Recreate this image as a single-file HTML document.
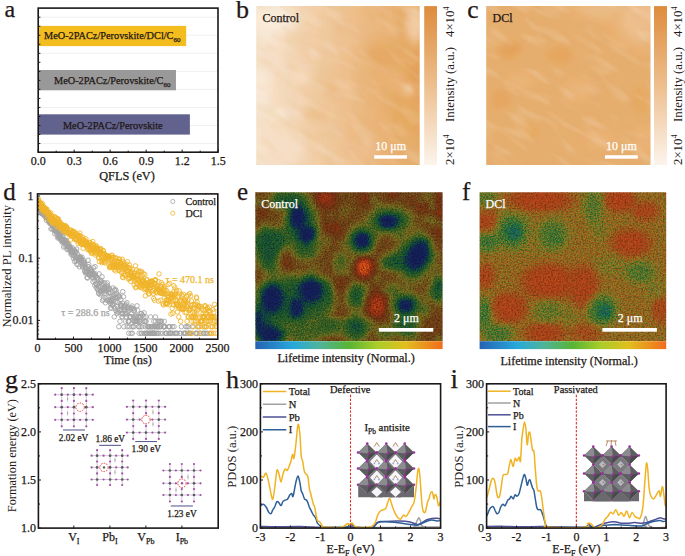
<!DOCTYPE html>
<html><head><meta charset="utf-8"><style>
html,body{margin:0;padding:0;background:#fff;width:685px;height:556px;overflow:hidden}
svg{display:block;font-family:"Liberation Serif",serif}
</style></head><body>
<svg width="685" height="556" viewBox="0 0 685 556">
<defs><linearGradient id="cbgrad" x1="0" y1="0" x2="0" y2="1"><stop offset="0" stop-color="#de8c3c"/><stop offset="0.5" stop-color="#edbf8e"/><stop offset="1" stop-color="#fcf4ec"/></linearGradient>
<filter id="streak" x="0" y="0" width="100%" height="100%"><feTurbulence type="fractalNoise" baseFrequency="0.03 0.09" numOctaves="2" seed="9" result="n"/><feColorMatrix in="n" type="matrix" values="0 0 0 0 1  0 0 0 0 1  0 0 0 0 1  2.4 0 0 0 -1.2"/></filter>
<filter id="streak2" x="0" y="0" width="100%" height="100%"><feTurbulence type="fractalNoise" baseFrequency="0.03 0.08" numOctaves="2" seed="21" result="n"/><feColorMatrix in="n" type="matrix" values="0 0 0 0 0.8  0 0 0 0 0.45  0 0 0 0 0.15  2.4 0 0 0 -1.2"/></filter>
</defs><defs><filter id="cmfe" x="0" y="0" width="100%" height="100%" color-interpolation-filters="sRGB">
<feGaussianBlur in="SourceGraphic" stdDeviation="2.2" result="b"/>
<feTurbulence type="fractalNoise" baseFrequency="0.85" numOctaves="2" seed="3" result="t"/>
<feColorMatrix in="t" type="matrix" values="1 0 0 0 0  1 0 0 0 0  1 0 0 0 0  0 0 0 0 1" result="tn"/>
<feComposite in="b" in2="tn" operator="arithmetic" k1="0" k2="1" k3="0.38" k4="-0.19" result="s"/>
<feComponentTransfer in="s"><feFuncR type="table" tableValues="0.086 0.086 0.086 0.086 0.078 0.075 0.067 0.071 0.086 0.102 0.125 0.173 0.216 0.267 0.337 0.412 0.486 0.478 0.471 0.463 0.455 0.451 0.443 0.455 0.482 0.510 0.545 0.596 0.651 0.702 0.761 0.820 0.878"/><feFuncG type="table" tableValues="0.125 0.129 0.133 0.141 0.169 0.204 0.235 0.275 0.310 0.345 0.373 0.380 0.384 0.396 0.416 0.435 0.455 0.412 0.373 0.329 0.298 0.267 0.239 0.220 0.208 0.196 0.192 0.204 0.220 0.235 0.267 0.302 0.337"/><feFuncB type="table" tableValues="0.361 0.361 0.361 0.361 0.341 0.318 0.290 0.263 0.227 0.192 0.169 0.157 0.141 0.133 0.133 0.133 0.133 0.125 0.118 0.106 0.102 0.094 0.086 0.082 0.078 0.075 0.078 0.082 0.086 0.090 0.094 0.098 0.102"/><feFuncA type="identity"/></feComponentTransfer>
</filter></defs><defs><filter id="cmff" x="0" y="0" width="100%" height="100%" color-interpolation-filters="sRGB">
<feGaussianBlur in="SourceGraphic" stdDeviation="2.2" result="b"/>
<feTurbulence type="fractalNoise" baseFrequency="0.85" numOctaves="2" seed="8" result="t"/>
<feColorMatrix in="t" type="matrix" values="1 0 0 0 0  1 0 0 0 0  1 0 0 0 0  0 0 0 0 1" result="tn"/>
<feComposite in="b" in2="tn" operator="arithmetic" k1="0" k2="1" k3="0.6" k4="-0.3" result="s"/>
<feComponentTransfer in="s"><feFuncR type="table" tableValues="0.102 0.102 0.106 0.106 0.110 0.110 0.118 0.125 0.129 0.137 0.165 0.220 0.278 0.337 0.400 0.471 0.541 0.592 0.604 0.616 0.627 0.643 0.655 0.667 0.675 0.686 0.694 0.706 0.718 0.737 0.753 0.769 0.784"/><feFuncG type="table" tableValues="0.220 0.259 0.294 0.333 0.369 0.404 0.416 0.427 0.443 0.455 0.467 0.471 0.478 0.482 0.490 0.494 0.498 0.490 0.455 0.420 0.388 0.361 0.333 0.306 0.298 0.286 0.278 0.267 0.271 0.275 0.282 0.286 0.290"/><feFuncB type="table" tableValues="0.439 0.431 0.424 0.416 0.408 0.392 0.357 0.322 0.286 0.247 0.220 0.204 0.188 0.173 0.161 0.157 0.149 0.141 0.137 0.129 0.125 0.122 0.114 0.110 0.110 0.106 0.106 0.102 0.102 0.102 0.102 0.102 0.102"/><feFuncA type="identity"/></feComponentTransfer>
</filter></defs><defs><linearGradient id="jet" x1="0" y1="0" x2="1" y2="0"><stop offset="0" stop-color="#2662b2"/><stop offset="0.2" stop-color="#26a8dc"/><stop offset="0.35" stop-color="#50b496"/><stop offset="0.5" stop-color="#58b434"/><stop offset="0.65" stop-color="#aacd28"/><stop offset="0.8" stop-color="#e1be1e"/><stop offset="1" stop-color="#f26c1e"/></linearGradient>
<filter id="blur3" x="-5%" y="-5%" width="110%" height="110%"><feGaussianBlur stdDeviation="2.6"/></filter>
<filter id="grainy" x="0" y="0" width="100%" height="100%"><feTurbulence type="fractalNoise" baseFrequency="0.5" numOctaves="1" seed="17" result="n"/><feColorMatrix in="n" type="matrix" values="0 0 0 0 0.72  0 0 0 0 0.66  0 0 0 0 0.16  3.0 0 0 0 -1.65"/></filter>
<filter id="grain" x="0" y="0" width="100%" height="100%"><feTurbulence type="fractalNoise" baseFrequency="0.6" numOctaves="1" seed="4" result="n"/><feColorMatrix in="n" type="matrix" values="0 0 0 0 0  0 0 0 0 0  0 0 0 0 0  -2.2 0 0 0 1.25"/></filter>
</defs>
<text x="4.5" y="17.0" font-size="24" text-anchor="start" fill="#231815" stroke="#231815" stroke-width="0.25" >a</text>
<line x1="38.20" y1="17.20" x2="218.00" y2="17.20" stroke="#ececec" stroke-width="0.8" />
<line x1="38.20" y1="35.25" x2="218.00" y2="35.25" stroke="#ececec" stroke-width="0.8" />
<line x1="38.20" y1="53.30" x2="218.00" y2="53.30" stroke="#ececec" stroke-width="0.8" />
<line x1="38.20" y1="71.35" x2="218.00" y2="71.35" stroke="#ececec" stroke-width="0.8" />
<line x1="38.20" y1="89.40" x2="218.00" y2="89.40" stroke="#ececec" stroke-width="0.8" />
<line x1="38.20" y1="107.45" x2="218.00" y2="107.45" stroke="#ececec" stroke-width="0.8" />
<line x1="38.20" y1="125.50" x2="218.00" y2="125.50" stroke="#ececec" stroke-width="0.8" />
<line x1="38.20" y1="143.55" x2="218.00" y2="143.55" stroke="#ececec" stroke-width="0.8" />
<rect x="38.20" y="25.90" width="147.96" height="20.20" fill="#f3bc1f" />
<rect x="38.20" y="70.00" width="137.76" height="20.30" fill="#999999" />
<rect x="38.20" y="114.30" width="151.68" height="20.30" fill="#61628e" />
<text x="44.0" y="39.3" font-size="10.3" text-anchor="start" fill="#231815" stroke="#231815" stroke-width="0.25" >MeO-2PACz/Perovskite/DCl/C<tspan font-size="7" dy="2.5">60</tspan></text>
<text x="54.0" y="84.3" font-size="10.3" text-anchor="start" fill="#231815" stroke="#231815" stroke-width="0.25" >MeO-2PACz/Perovskite/C<tspan font-size="7" dy="2.5">60</tspan></text>
<text x="112.8" y="128.6" font-size="10.3" text-anchor="middle" fill="#231815" stroke="#231815" stroke-width="0.25" >MeO-2PACz/Perovskite</text>
<rect x="38.2" y="8.1" width="179.8" height="144.1" fill="none" stroke="#1c1717" stroke-width="1.6"/>
<line x1="38.20" y1="17.20" x2="40.40" y2="17.20" stroke="#231815" stroke-width="1" />
<line x1="38.20" y1="26.23" x2="40.40" y2="26.23" stroke="#231815" stroke-width="1" />
<line x1="38.20" y1="35.25" x2="40.40" y2="35.25" stroke="#231815" stroke-width="1" />
<line x1="38.20" y1="44.28" x2="40.40" y2="44.28" stroke="#231815" stroke-width="1" />
<line x1="38.20" y1="53.30" x2="40.40" y2="53.30" stroke="#231815" stroke-width="1" />
<line x1="38.20" y1="62.33" x2="40.40" y2="62.33" stroke="#231815" stroke-width="1" />
<line x1="38.20" y1="71.35" x2="40.40" y2="71.35" stroke="#231815" stroke-width="1" />
<line x1="38.20" y1="80.38" x2="40.40" y2="80.38" stroke="#231815" stroke-width="1" />
<line x1="38.20" y1="89.40" x2="40.40" y2="89.40" stroke="#231815" stroke-width="1" />
<line x1="38.20" y1="98.43" x2="40.40" y2="98.43" stroke="#231815" stroke-width="1" />
<line x1="38.20" y1="107.45" x2="40.40" y2="107.45" stroke="#231815" stroke-width="1" />
<line x1="38.20" y1="116.48" x2="40.40" y2="116.48" stroke="#231815" stroke-width="1" />
<line x1="38.20" y1="125.50" x2="40.40" y2="125.50" stroke="#231815" stroke-width="1" />
<line x1="38.20" y1="134.53" x2="40.40" y2="134.53" stroke="#231815" stroke-width="1" />
<line x1="38.20" y1="143.55" x2="40.40" y2="143.55" stroke="#231815" stroke-width="1" />
<line x1="38.20" y1="152.20" x2="38.20" y2="149.60" stroke="#231815" stroke-width="1" />
<line x1="56.20" y1="152.20" x2="56.20" y2="150.60" stroke="#231815" stroke-width="1" />
<line x1="74.20" y1="152.20" x2="74.20" y2="149.60" stroke="#231815" stroke-width="1" />
<line x1="92.20" y1="152.20" x2="92.20" y2="150.60" stroke="#231815" stroke-width="1" />
<line x1="110.20" y1="152.20" x2="110.20" y2="149.60" stroke="#231815" stroke-width="1" />
<line x1="128.20" y1="152.20" x2="128.20" y2="150.60" stroke="#231815" stroke-width="1" />
<line x1="146.20" y1="152.20" x2="146.20" y2="149.60" stroke="#231815" stroke-width="1" />
<line x1="164.20" y1="152.20" x2="164.20" y2="150.60" stroke="#231815" stroke-width="1" />
<line x1="182.20" y1="152.20" x2="182.20" y2="149.60" stroke="#231815" stroke-width="1" />
<line x1="200.20" y1="152.20" x2="200.20" y2="150.60" stroke="#231815" stroke-width="1" />
<line x1="218.20" y1="152.20" x2="218.20" y2="149.60" stroke="#231815" stroke-width="1" />
<text x="38.2" y="164.5" font-size="12" text-anchor="middle" fill="#231815" stroke="#231815" stroke-width="0.25" >0.0</text>
<text x="74.2" y="164.5" font-size="12" text-anchor="middle" fill="#231815" stroke="#231815" stroke-width="0.25" >0.3</text>
<text x="110.2" y="164.5" font-size="12" text-anchor="middle" fill="#231815" stroke="#231815" stroke-width="0.25" >0.6</text>
<text x="146.2" y="164.5" font-size="12" text-anchor="middle" fill="#231815" stroke="#231815" stroke-width="0.25" >0.9</text>
<text x="182.2" y="164.5" font-size="12" text-anchor="middle" fill="#231815" stroke="#231815" stroke-width="0.25" >1.2</text>
<text x="218.2" y="164.5" font-size="12" text-anchor="middle" fill="#231815" stroke="#231815" stroke-width="0.25" >1.5</text>
<text x="127.0" y="179.6" font-size="12.3" text-anchor="middle" fill="#231815" stroke="#231815" stroke-width="0.25" >QFLS (eV)</text>
<text x="236.0" y="17.6" font-size="26" text-anchor="start" fill="#231815" stroke="#231815" stroke-width="0.25" >b</text>
<text x="467.3" y="17.5" font-size="25.5" text-anchor="start" fill="#231815" stroke="#231815" stroke-width="0.25" >c</text>
<clipPath id="cb"><rect x="256.2" y="6" width="163.5" height="159"/></clipPath>
<g clip-path="url(#cb)"><g filter="url(#blur3)">
<path fill="#f6e2ca" d="M250 0h24v6h-24zM280 30h6v6h-6zM250 36h18v6h-18zM250 42h18v6h-18zM250 48h6v6h-6zM250 54h12v6h-12zM256 60h6v6h-6zM262 66h6v6h-6zM268 72h6v6h-6zM268 78h6v6h-6zM268 84h6v6h-6zM250 102h6v6h-6zM250 108h6v6h-6zM250 114h18v6h-18zM250 120h12v6h-12zM250 126h12v6h-12zM250 132h12v6h-12zM250 138h12v6h-12zM250 144h6v6h-6zM250 150h6v6h-6zM250 156h12v6h-12zM250 162h12v6h-12zM250 168h12v6h-12z"/>
<path fill="#f6dec6" d="M274 0h6v6h-6zM286 6h6v6h-6zM292 12h6v6h-6zM268 36h6v6h-6zM262 48h12v6h-12zM262 54h18v6h-18zM262 60h18v6h-18zM268 66h6v6h-6zM268 96h6v6h-6zM268 102h6v6h-6zM262 120h6v6h-6zM262 126h6v6h-6zM262 132h12v6h-12zM262 138h30v6h-30zM262 144h36v6h-36zM262 150h36v6h-36zM262 156h30v6h-30zM262 162h12v6h-12zM262 168h12v6h-12z"/>
<path fill="#f6dec2" d="M280 0h6v6h-6zM292 24h6v6h-6zM286 30h6v6h-6zM274 36h6v6h-6zM268 42h6v6h-6zM274 48h6v6h-6zM274 66h6v6h-6zM268 120h6v6h-6zM268 126h6v6h-6zM274 132h12v6h-12zM292 156h6v6h-6zM274 162h12v6h-12zM274 168h6v6h-6z"/>
<path fill="#f2daba" d="M286 0h6v6h-6zM292 6h6v6h-6zM280 72h12v6h-12zM280 78h6v6h-6zM280 84h6v6h-6zM280 90h6v6h-6zM280 96h6v6h-6zM286 114h6v6h-6z"/>
<path fill="#f2d6b6" d="M292 0h6v6h-6zM298 18h6v6h-6zM292 30h6v6h-6zM286 36h6v6h-6zM286 42h6v6h-6zM286 48h6v6h-6zM286 54h6v6h-6zM286 60h6v6h-6zM304 66h6v6h-6zM286 78h6v6h-6zM304 78h6v6h-6zM286 84h6v6h-6zM286 90h6v6h-6zM286 96h6v6h-6zM286 102h6v6h-6zM286 120h6v6h-6zM286 126h6v6h-6zM292 132h6v6h-6zM298 138h6v6h-6zM298 156h6v6h-6zM292 162h6v6h-6zM292 168h6v6h-6z"/>
<path fill="#f2d2b2" d="M298 0h6v6h-6zM298 6h6v6h-6zM298 24h6v6h-6zM292 54h6v6h-6zM298 60h6v6h-6zM292 90h6v6h-6zM292 96h6v6h-6zM292 102h6v6h-6zM292 108h6v6h-6zM304 150h6v6h-6zM298 162h6v6h-6zM298 168h6v6h-6z"/>
<path fill="#f2d2ae" d="M304 0h6v6h-6zM304 6h6v6h-6zM298 30h6v6h-6zM298 36h6v6h-6zM298 42h6v6h-6zM298 48h6v6h-6zM298 54h6v6h-6zM310 72h6v6h-6zM298 84h6v6h-6zM298 90h6v6h-6zM298 96h6v6h-6zM298 102h6v6h-6zM298 120h6v6h-6zM298 126h6v6h-6zM298 132h6v6h-6zM304 138h6v6h-6zM304 144h6v6h-6zM304 156h6v6h-6zM304 162h6v6h-6zM304 168h6v6h-6z"/>
<path fill="#f2ceaa" d="M310 0h6v6h-6zM310 6h6v6h-6zM304 30h6v6h-6zM304 36h6v6h-6zM304 42h6v6h-6zM304 48h6v6h-6zM304 54h6v6h-6zM304 60h6v6h-6zM310 66h6v6h-6zM304 84h6v6h-6zM304 96h6v6h-6zM298 108h6v6h-6zM298 114h6v6h-6zM304 126h6v6h-6zM304 132h6v6h-6zM310 162h6v6h-6zM310 168h6v6h-6z"/>
<path fill="#f2cea6" d="M316 0h6v6h-6zM316 6h6v6h-6zM310 12h6v6h-6zM310 18h6v6h-6zM412 18h6v6h-6zM310 24h6v6h-6zM412 24h6v6h-6zM310 30h6v6h-6zM412 30h6v6h-6zM310 36h6v6h-6zM310 42h6v6h-6zM310 48h6v6h-6zM310 54h6v6h-6zM310 60h6v6h-6zM310 78h6v6h-6zM304 90h6v6h-6zM304 102h6v6h-6zM304 120h6v6h-6zM310 126h6v6h-6zM310 132h6v6h-6zM310 138h6v6h-6zM310 144h6v6h-6zM310 150h6v6h-6zM310 156h6v6h-6zM316 162h6v6h-6zM316 168h6v6h-6z"/>
<path fill="#f2caa2" d="M322 0h6v6h-6zM316 12h6v6h-6zM412 12h6v6h-6zM316 18h6v6h-6zM316 24h6v6h-6zM316 30h6v6h-6zM316 36h6v6h-6zM316 42h6v6h-6zM316 48h6v6h-6zM316 54h6v6h-6zM310 84h6v6h-6zM310 90h6v6h-6zM310 96h6v6h-6zM316 126h6v6h-6zM316 132h6v6h-6zM316 138h6v6h-6zM316 144h6v6h-6zM316 150h6v6h-6zM322 162h6v6h-6zM322 168h6v6h-6z"/>
<path fill="#eec69e" d="M328 0h6v6h-6zM322 48h6v6h-6zM316 120h6v6h-6zM328 162h6v6h-6z"/>
<path fill="#eec69a" d="M334 0h6v6h-6zM328 6h6v6h-6zM328 12h6v6h-6zM328 18h6v6h-6zM406 18h6v6h-6zM328 24h6v6h-6zM406 24h6v6h-6zM418 24h6v6h-6zM328 30h6v6h-6zM328 36h6v6h-6zM328 42h6v6h-6zM328 48h6v6h-6zM322 54h6v6h-6zM322 60h6v6h-6zM322 66h6v6h-6zM322 72h6v6h-6zM322 78h6v6h-6zM406 84h6v6h-6zM322 96h6v6h-6zM316 102h12v6h-12zM322 120h12v6h-12zM328 126h6v6h-6zM328 132h6v6h-6zM328 138h6v6h-6zM328 144h6v6h-6zM328 150h6v6h-6zM328 156h6v6h-6zM334 162h6v6h-6zM334 168h6v6h-6z"/>
<path fill="#eec296" d="M340 0h6v6h-6zM334 24h6v6h-6zM322 90h6v6h-6zM334 120h6v6h-6zM334 126h6v6h-6zM334 132h6v6h-6zM340 162h6v6h-6zM340 168h6v6h-6z"/>
<path fill="#eec292" d="M346 0h6v6h-6zM340 6h6v6h-6zM340 12h6v6h-6zM340 18h6v6h-6zM340 24h6v6h-6zM334 30h18v6h-18zM406 30h6v6h-6zM334 36h18v6h-18zM334 42h18v6h-18zM334 48h12v6h-12zM334 54h6v6h-6zM334 60h6v6h-6zM334 66h6v6h-6zM334 72h6v6h-6zM328 78h6v6h-6zM328 96h6v6h-6zM334 102h6v6h-6zM310 108h18v6h-18zM334 108h6v6h-6zM310 114h18v6h-18zM334 114h6v6h-6zM340 126h6v6h-6zM340 132h6v6h-6zM340 138h6v6h-6zM340 144h6v6h-6zM340 150h6v6h-6zM340 156h6v6h-6zM346 162h6v6h-6zM346 168h6v6h-6z"/>
<path fill="#eebe8e" d="M352 0h6v6h-6zM406 12h6v6h-6zM346 18h6v6h-6zM346 24h6v6h-6zM418 30h6v6h-6zM352 36h6v6h-6zM346 48h6v6h-6zM340 60h6v6h-6zM340 66h6v6h-6zM340 72h6v6h-6zM340 78h6v6h-6zM334 96h12v6h-12zM340 102h6v6h-6zM340 108h6v6h-6zM346 126h6v6h-6zM346 132h6v6h-6zM346 138h6v6h-6zM346 144h18v6h-18zM346 150h18v6h-18zM352 162h6v6h-6zM352 168h6v6h-6z"/>
<path fill="#eebe8a" d="M358 0h6v6h-6zM352 6h6v6h-6zM352 12h6v6h-6zM418 12h6v6h-6zM352 18h6v6h-6zM352 24h6v6h-6zM352 30h6v6h-6zM352 42h6v6h-6zM346 54h6v6h-6zM346 60h6v6h-6zM346 66h6v6h-6zM346 72h6v6h-6zM328 84h18v6h-18zM328 90h18v6h-18zM406 90h6v6h-6zM346 96h6v6h-6zM346 102h6v6h-6zM346 108h6v6h-6zM346 114h6v6h-6zM346 120h6v6h-6zM352 132h6v6h-6zM352 138h6v6h-6zM364 144h6v6h-6zM364 150h6v6h-6zM352 156h12v6h-12zM358 162h6v6h-6zM358 168h6v6h-6z"/>
<path fill="#eaba86" d="M364 0h6v6h-6zM358 24h6v6h-6zM358 30h6v6h-6zM358 36h6v6h-6zM352 60h6v6h-6zM352 66h6v6h-6zM400 84h6v6h-6zM352 96h6v6h-6zM352 102h6v6h-6zM352 108h6v6h-6zM358 132h6v6h-6zM370 144h6v6h-6zM370 150h6v6h-6zM364 156h6v6h-6zM364 162h6v6h-6zM364 168h6v6h-6z"/>
<path fill="#eaba82" d="M370 0h6v6h-6zM364 6h12v6h-12zM364 12h6v6h-6zM364 18h6v6h-6zM364 24h6v6h-6zM364 30h6v6h-6zM358 42h6v6h-6zM358 66h6v6h-6zM352 72h6v6h-6zM352 78h6v6h-6zM352 84h6v6h-6zM352 90h6v6h-6zM358 96h6v6h-6zM358 102h6v6h-6zM358 108h6v6h-6zM358 114h6v6h-6zM358 120h6v6h-6zM358 126h6v6h-6zM364 132h6v6h-6zM364 138h6v6h-6zM370 156h6v6h-6zM370 162h6v6h-6zM370 168h6v6h-6z"/>
<path fill="#eab67e" d="M376 0h6v6h-6zM376 6h6v6h-6zM370 12h6v6h-6zM370 18h6v6h-6zM370 24h6v6h-6zM370 30h6v6h-6zM364 36h6v6h-6zM406 36h6v6h-6zM358 48h6v6h-6zM358 54h6v6h-6zM358 72h6v6h-6zM358 78h6v6h-6zM358 84h6v6h-6zM358 90h6v6h-6zM364 102h6v6h-6zM364 108h6v6h-6zM364 114h6v6h-6zM364 120h6v6h-6zM364 126h6v6h-6zM370 132h6v6h-6zM370 138h6v6h-6zM376 162h6v6h-6zM376 168h6v6h-6z"/>
<path fill="#eab67a" d="M382 0h6v6h-6zM406 6h6v6h-6zM376 12h6v6h-6zM376 18h6v6h-6zM376 24h6v6h-6zM376 30h6v6h-6zM370 36h6v6h-6zM364 42h6v6h-6zM364 66h6v6h-6zM364 72h6v6h-6zM364 78h6v6h-6zM364 84h6v6h-6zM364 90h6v6h-6zM400 90h6v6h-6zM364 96h6v6h-6zM370 108h6v6h-6zM370 114h6v6h-6zM370 120h6v6h-6zM370 126h6v6h-6zM376 132h6v6h-6zM376 138h6v6h-6zM376 144h6v6h-6zM376 150h6v6h-6zM376 156h6v6h-6zM382 162h6v6h-6zM382 168h6v6h-6z"/>
<path fill="#eab276" d="M388 0h6v6h-6zM388 6h6v6h-6zM382 12h6v6h-6zM382 18h6v6h-6zM382 24h6v6h-6zM382 30h6v6h-6zM376 36h6v6h-6zM418 36h6v6h-6zM412 42h6v6h-6zM364 60h6v6h-6zM370 66h6v6h-6zM370 72h6v6h-6zM388 72h12v6h-12zM370 78h6v6h-6zM388 78h12v6h-12zM370 84h6v6h-6zM370 90h6v6h-6zM370 96h6v6h-6zM376 102h6v6h-6zM376 108h6v6h-6zM376 114h6v6h-6zM376 120h6v6h-6zM376 126h6v6h-6zM382 132h6v6h-6zM382 138h6v6h-6zM382 144h6v6h-6zM382 150h6v6h-6zM388 156h6v6h-6zM388 162h6v6h-6zM388 168h6v6h-6z"/>
<path fill="#eab272" d="M394 0h6v6h-6zM412 0h6v6h-6zM418 6h6v6h-6zM388 12h6v6h-6zM388 18h6v6h-6zM388 24h6v6h-6zM382 36h6v6h-6zM376 72h6v6h-6zM376 78h12v6h-12zM376 84h6v6h-6zM388 84h12v6h-12zM376 90h6v6h-6zM376 96h6v6h-6zM382 114h6v6h-6zM382 120h6v6h-6zM382 126h6v6h-6zM388 138h6v6h-6zM388 144h6v6h-6zM388 150h6v6h-6zM394 162h6v6h-6zM394 168h6v6h-6z"/>
<path fill="#e6ae6e" d="M400 0h12v6h-12zM400 6h6v6h-6zM394 12h12v6h-12zM394 18h6v6h-6zM394 24h6v6h-6zM394 30h6v6h-6zM388 36h6v6h-6zM370 42h6v6h-6zM364 54h6v6h-6zM382 66h12v6h-12zM400 72h6v6h-6zM382 84h6v6h-6zM382 90h6v6h-6zM382 96h6v6h-6zM382 102h6v6h-6zM388 120h6v6h-6zM388 126h6v6h-6zM394 138h6v6h-6zM394 144h24v6h-24zM394 150h24v6h-24zM400 156h12v6h-12zM400 162h6v6h-6zM400 168h6v6h-6z"/>
<path fill="#e6aa66" d="M418 0h6v6h-6zM400 36h6v6h-6zM400 42h12v6h-12zM370 48h24v6h-24zM400 48h6v6h-6zM370 54h36v6h-36zM376 60h12v6h-12zM394 60h6v6h-6zM394 90h6v6h-6zM394 96h6v6h-6zM394 120h6v6h-6zM394 126h6v6h-6zM400 132h12v6h-12zM418 144h6v6h-6zM418 156h6v6h-6zM412 162h6v6h-6zM412 168h6v6h-6z"/>
<path fill="#e6a65e" d="M424 0h6v6h-6zM424 6h6v6h-6zM424 12h6v6h-6zM424 18h6v6h-6zM424 24h6v6h-6zM412 54h6v6h-6zM412 60h6v6h-6zM406 66h6v6h-6zM406 72h6v6h-6zM406 78h6v6h-6zM412 84h6v6h-6zM412 90h6v6h-6zM418 102h6v6h-6zM418 108h6v6h-6zM418 114h6v6h-6zM418 120h6v6h-6zM418 126h6v6h-6zM418 132h6v6h-6zM424 144h6v6h-6zM424 150h6v6h-6zM424 156h6v6h-6zM424 162h6v6h-6z"/>
<path fill="#f6e2ce" d="M250 6h6v6h-6zM286 24h6v6h-6zM250 30h12v6h-12zM274 30h6v6h-6zM256 48h6v6h-6zM250 60h6v6h-6zM250 66h6v6h-6zM250 72h6v6h-6zM250 84h6v6h-6zM250 90h6v6h-6zM250 96h6v6h-6zM256 108h12v6h-12zM280 108h6v6h-6zM280 114h6v6h-6z"/>
<path fill="#f6e6d2" d="M256 6h12v6h-12zM274 6h6v6h-6zM250 12h6v6h-6zM286 12h6v6h-6zM286 18h6v6h-6zM250 24h6v6h-6zM262 30h12v6h-12zM256 66h6v6h-6zM262 96h6v6h-6zM256 102h12v6h-12z"/>
<path fill="#f6e6d6" d="M268 6h6v6h-6zM250 18h6v6h-6zM280 24h6v6h-6zM262 72h6v6h-6zM256 96h6v6h-6z"/>
<path fill="#f6e6ce" d="M280 6h6v6h-6zM250 78h6v6h-6zM274 108h6v6h-6zM274 114h6v6h-6z"/>
<path fill="#f2ca9e" d="M322 6h6v6h-6z"/>
<path fill="#eec696" d="M334 6h6v6h-6zM334 12h6v6h-6zM334 18h6v6h-6zM418 18h6v6h-6zM412 36h6v6h-6zM328 54h6v6h-6zM328 60h6v6h-6zM328 66h6v6h-6zM328 72h6v6h-6zM322 84h6v6h-6zM328 102h6v6h-6zM304 108h6v6h-6zM328 108h6v6h-6zM304 114h6v6h-6zM328 114h6v6h-6zM334 138h6v6h-6zM334 144h6v6h-6zM334 150h6v6h-6zM334 156h6v6h-6z"/>
<path fill="#eec28e" d="M346 6h6v6h-6zM412 6h6v6h-6zM346 12h6v6h-6zM340 54h6v6h-6zM334 78h6v6h-6zM340 114h6v6h-6zM340 120h6v6h-6zM346 156h6v6h-6z"/>
<path fill="#eebe86" d="M358 6h6v6h-6zM346 78h6v6h-6zM346 90h6v6h-6zM352 126h6v6h-6z"/>
<path fill="#eab27a" d="M382 6h6v6h-6zM370 102h6v6h-6zM382 156h6v6h-6z"/>
<path fill="#eaae72" d="M394 6h6v6h-6zM388 30h6v6h-6zM376 66h6v6h-6zM382 72h6v6h-6zM400 78h6v6h-6zM382 108h6v6h-6zM388 132h6v6h-6zM394 156h6v6h-6z"/>
<path fill="#faead6" d="M256 12h6v6h-6zM280 12h6v6h-6zM256 18h6v6h-6zM262 24h6v6h-6zM274 24h6v6h-6zM256 78h12v6h-12z"/>
<path fill="#faeada" d="M262 12h18v6h-18zM262 18h24v6h-24zM268 24h6v6h-6z"/>
<path fill="#f2d6b2" d="M298 12h6v6h-6zM292 36h6v6h-6zM292 42h6v6h-6zM292 48h6v6h-6zM292 60h6v6h-6zM292 84h6v6h-6zM292 114h6v6h-6zM292 120h6v6h-6zM292 126h6v6h-6z"/>
<path fill="#f2d2aa" d="M304 12h6v6h-6zM304 18h6v6h-6zM304 24h6v6h-6z"/>
<path fill="#eeca9e" d="M322 12h6v6h-6zM322 18h6v6h-6zM322 24h6v6h-6zM322 30h6v6h-6zM322 36h6v6h-6zM322 42h6v6h-6zM316 60h6v6h-6zM316 66h6v6h-6zM316 72h6v6h-6zM316 78h6v6h-6zM316 84h6v6h-6zM316 90h6v6h-6zM316 96h6v6h-6zM310 102h6v6h-6zM310 120h6v6h-6zM322 126h6v6h-6zM322 132h6v6h-6zM322 138h6v6h-6zM322 144h6v6h-6zM322 150h6v6h-6zM322 156h6v6h-6zM328 168h6v6h-6z"/>
<path fill="#eeba86" d="M358 12h6v6h-6zM358 18h6v6h-6zM352 48h6v6h-6zM352 54h6v6h-6zM346 84h6v6h-6zM352 114h6v6h-6zM352 120h6v6h-6zM358 138h6v6h-6z"/>
<path fill="#f6e2c6" d="M292 18h6v6h-6zM268 90h6v6h-6zM268 108h6v6h-6zM268 114h6v6h-6zM256 144h6v6h-6zM256 150h6v6h-6z"/>
<path fill="#e6ae6a" d="M400 18h6v6h-6zM400 24h6v6h-6zM394 36h6v6h-6zM376 42h24v6h-24zM370 60h6v6h-6zM394 66h6v6h-6zM388 90h6v6h-6zM388 96h6v6h-6zM388 102h6v6h-6zM388 108h6v6h-6zM388 114h6v6h-6zM394 132h6v6h-6zM400 138h18v6h-18zM412 156h6v6h-6zM406 162h6v6h-6zM406 168h6v6h-6z"/>
<path fill="#fae6d6" d="M256 24h6v6h-6zM256 72h6v6h-6zM256 84h12v6h-12zM256 90h12v6h-12z"/>
<path fill="#e6aa6a" d="M400 30h6v6h-6zM394 48h6v6h-6zM388 60h6v6h-6zM418 150h6v6h-6z"/>
<path fill="#e2a25a" d="M424 30h6v6h-6zM424 36h6v6h-6zM424 42h6v6h-6zM418 48h12v6h-12zM418 54h6v6h-6zM418 60h6v6h-6zM418 66h6v6h-6zM412 72h12v6h-12zM412 78h6v6h-6zM418 90h6v6h-6zM418 96h6v6h-6zM424 114h6v6h-6zM424 120h6v6h-6zM424 126h6v6h-6zM424 132h6v6h-6zM424 138h6v6h-6z"/>
<path fill="#f6dabe" d="M280 36h6v6h-6zM274 42h6v6h-6zM280 54h6v6h-6zM280 60h6v6h-6zM274 72h6v6h-6zM292 72h12v6h-12zM274 78h6v6h-6zM274 84h6v6h-6zM274 90h6v6h-6zM274 96h6v6h-6zM274 102h6v6h-6zM274 120h6v6h-6zM274 126h6v6h-6zM286 132h6v6h-6zM292 138h6v6h-6zM298 144h6v6h-6zM298 150h6v6h-6zM286 162h6v6h-6zM280 168h6v6h-6z"/>
<path fill="#f6daba" d="M280 42h6v6h-6zM280 48h6v6h-6zM280 66h6v6h-6zM292 66h12v6h-12zM304 72h6v6h-6zM292 78h12v6h-12zM280 102h6v6h-6zM280 120h6v6h-6zM280 126h6v6h-6z"/>
<path fill="#e6a662" d="M418 42h6v6h-6zM412 48h6v6h-6zM406 54h6v6h-6zM406 60h6v6h-6zM412 96h6v6h-6zM412 102h6v6h-6zM412 126h6v6h-6zM418 138h6v6h-6zM424 168h6v6h-6z"/>
<path fill="#e6ae72" d="M364 48h6v6h-6z"/>
<path fill="#e6aa62" d="M406 48h6v6h-6zM400 60h6v6h-6zM400 66h6v6h-6zM400 96h12v6h-12zM394 102h18v6h-18zM394 108h24v6h-24zM394 114h24v6h-24zM400 120h18v6h-18zM400 126h12v6h-12zM412 132h6v6h-6zM418 162h6v6h-6zM418 168h6v6h-6z"/>
<path fill="#e2a256" d="M424 54h6v6h-6zM424 60h6v6h-6zM418 78h6v6h-6zM418 84h6v6h-6zM424 102h6v6h-6zM424 108h6v6h-6z"/>
<path fill="#eaba7e" d="M358 60h6v6h-6z"/>
<path fill="#f2d6ba" d="M286 66h6v6h-6zM286 108h6v6h-6zM286 168h6v6h-6z"/>
<path fill="#e2a25e" d="M412 66h6v6h-6z"/>
<path fill="#e29e56" d="M424 66h6v6h-6zM424 72h6v6h-6zM424 78h6v6h-6zM424 90h6v6h-6zM424 96h6v6h-6z"/>
<path fill="#e29e52" d="M424 84h6v6h-6z"/>
<path fill="#f2cea2" d="M316 156h6v6h-6z"/>
</g>
<g transform="rotate(32 337.9 85)"><rect x="217.9" y="-35" width="240" height="240" filter="url(#streak)" opacity="0.22"/><rect x="217.9" y="-35" width="240" height="240" filter="url(#streak2)" opacity="0.2"/></g>
</g>
<rect x="424.20" y="6.10" width="12.80" height="158.90" fill="url(#cbgrad)" />
<text x="262.5" y="22.3" font-size="12" text-anchor="start" fill="#231815" stroke="#231815" stroke-width="0.25" >Control</text>
<rect x="374.20" y="155.20" width="32.80" height="3.50" fill="#fff" />
<text x="390.6" y="150.3" font-size="12" text-anchor="middle" fill="#fff" stroke="#fff" stroke-width="0.25" >10 μm</text>
<text transform="translate(453.5,165) rotate(-90)" font-size="12.8" fill="#231815">2×10<tspan font-size="8" dy="-4.8">4</tspan></text>
<text transform="translate(453.5,121.9) rotate(-90)" font-size="12.8" fill="#231815">Intensity (a.u.)</text>
<text transform="translate(453.5,37) rotate(-90)" font-size="12.8" fill="#231815">4×10<tspan font-size="8" dy="-4.8">4</tspan></text>
<clipPath id="cc"><rect x="486.2" y="6" width="164.3" height="159"/></clipPath>
<g clip-path="url(#cc)"><g filter="url(#blur3)">
<path fill="#e6ae6e" d="M480 0h96v6h-96zM480 6h90v6h-90zM480 12h90v6h-90zM480 18h108v6h-108zM480 24h126v6h-126zM480 30h126v6h-126zM480 36h24v6h-24zM516 36h96v6h-96zM480 42h12v6h-12zM522 42h30v6h-30zM564 42h54v6h-54zM480 48h12v6h-12zM522 48h24v6h-24zM576 48h48v6h-48zM654 48h6v6h-6zM480 54h18v6h-18zM522 54h24v6h-24zM576 54h84v6h-84zM480 60h72v6h-72zM570 60h90v6h-90zM480 66h180v6h-180zM480 72h30v6h-30zM534 72h126v6h-126zM480 78h24v6h-24zM534 78h36v6h-36zM594 78h66v6h-66zM480 84h30v6h-30zM528 84h36v6h-36zM600 84h30v6h-30zM648 84h12v6h-12zM480 90h12v6h-12zM510 90h54v6h-54zM600 90h30v6h-30zM648 90h12v6h-12zM480 96h6v6h-6zM510 96h60v6h-60zM594 96h36v6h-36zM654 96h6v6h-6zM480 102h12v6h-12zM510 102h120v6h-120zM648 102h12v6h-12zM480 108h18v6h-18zM504 108h126v6h-126zM648 108h12v6h-12zM480 114h156v6h-156zM642 114h18v6h-18zM480 120h42v6h-42zM540 120h120v6h-120zM480 126h36v6h-36zM540 126h54v6h-54zM606 126h30v6h-30zM654 126h6v6h-6zM480 132h42v6h-42zM540 132h42v6h-42zM618 132h18v6h-18zM654 132h6v6h-6zM480 138h102v6h-102zM618 138h18v6h-18zM654 138h6v6h-6zM480 144h108v6h-108zM612 144h24v6h-24zM654 144h6v6h-6zM480 150h156v6h-156zM654 150h6v6h-6zM480 156h180v6h-180zM480 162h180v6h-180zM480 168h180v6h-180z"/>
<path fill="#eab272" d="M576 0h6v6h-6zM570 6h6v6h-6zM576 12h6v6h-6zM594 18h18v6h-18zM612 30h6v6h-6zM612 36h6v6h-6zM618 42h12v6h-12zM654 42h6v6h-6zM636 48h12v6h-12zM510 72h6v6h-6zM504 78h6v6h-6zM528 78h6v6h-6zM570 78h18v6h-18zM516 84h12v6h-12zM564 84h6v6h-6zM564 90h6v6h-6zM570 96h18v6h-18zM636 126h18v6h-18zM588 132h6v6h-6zM606 132h6v6h-6zM636 132h6v6h-6zM648 132h6v6h-6zM588 144h24v6h-24zM636 144h6v6h-6zM648 144h6v6h-6zM642 150h6v6h-6z"/>
<path fill="#eab276" d="M582 0h6v6h-6zM612 0h6v6h-6zM612 24h6v6h-6zM618 36h6v6h-6zM654 36h6v6h-6zM630 42h6v6h-6zM642 42h12v6h-12zM516 72h12v6h-12zM510 78h6v6h-6zM588 84h6v6h-6zM588 90h6v6h-6zM594 132h12v6h-12zM642 132h6v6h-6zM588 138h24v6h-24zM636 138h18v6h-18zM642 144h6v6h-6z"/>
<path fill="#eab67a" d="M588 0h6v6h-6zM606 0h6v6h-6zM654 0h6v6h-6zM576 6h6v6h-6zM582 12h6v6h-6zM516 78h12v6h-12zM576 84h12v6h-12zM576 90h12v6h-12z"/>
<path fill="#eab67e" d="M594 0h12v6h-12zM624 0h6v6h-6zM612 12h6v6h-6zM618 30h6v6h-6zM654 30h6v6h-6zM624 36h6v6h-6zM648 36h6v6h-6z"/>
<path fill="#eab27a" d="M618 0h6v6h-6zM612 18h6v6h-6zM636 42h6v6h-6zM570 84h6v6h-6zM570 90h6v6h-6z"/>
<path fill="#eaba86" d="M630 0h6v6h-6zM642 0h6v6h-6zM588 6h24v6h-24zM654 12h6v6h-6zM654 24h6v6h-6zM624 30h6v6h-6z"/>
<path fill="#eeba86" d="M636 0h6v6h-6zM624 6h6v6h-6zM654 18h6v6h-6zM648 30h6v6h-6z"/>
<path fill="#eaba82" d="M648 0h6v6h-6zM582 6h6v6h-6zM612 6h12v6h-12zM654 6h6v6h-6zM588 12h24v6h-24zM618 12h6v6h-6zM618 18h6v6h-6zM618 24h6v6h-6zM630 36h18v6h-18z"/>
<path fill="#eebe8a" d="M630 6h24v6h-24zM624 12h6v6h-6zM648 12h6v6h-6zM624 18h6v6h-6zM648 18h6v6h-6zM624 24h12v6h-12zM648 24h6v6h-6zM630 30h18v6h-18z"/>
<path fill="#eaae72" d="M570 12h6v6h-6zM588 18h6v6h-6zM606 24h6v6h-6zM606 30h6v6h-6zM624 48h12v6h-12zM648 48h6v6h-6zM528 72h6v6h-6zM510 84h6v6h-6zM594 126h12v6h-12zM582 132h6v6h-6zM612 132h6v6h-6zM582 138h6v6h-6zM612 138h6v6h-6zM636 150h6v6h-6zM648 150h6v6h-6z"/>
<path fill="#eebe8e" d="M630 12h18v6h-18zM630 18h18v6h-18zM636 24h12v6h-12z"/>
<path fill="#e6aa6a" d="M504 36h6v6h-6zM558 42h6v6h-6zM570 54h6v6h-6z"/>
<path fill="#e6ae6a" d="M510 36h6v6h-6zM492 42h6v6h-6zM552 42h6v6h-6zM492 48h6v6h-6zM570 48h6v6h-6zM516 54h6v6h-6zM630 84h6v6h-6zM642 84h6v6h-6zM486 96h6v6h-6zM648 96h6v6h-6zM498 108h6v6h-6zM630 108h6v6h-6zM636 114h6v6h-6zM522 120h6v6h-6zM534 120h6v6h-6zM516 126h6v6h-6z"/>
<path fill="#e6a65e" d="M498 42h6v6h-6zM498 48h6v6h-6zM516 48h6v6h-6zM552 48h18v6h-18zM552 54h18v6h-18zM498 96h6v6h-6z"/>
<path fill="#e2a25a" d="M504 42h12v6h-12zM504 48h12v6h-12z"/>
<path fill="#e6a662" d="M516 42h6v6h-6zM504 54h6v6h-6zM498 90h6v6h-6zM492 96h6v6h-6zM504 96h6v6h-6zM492 102h12v6h-12z"/>
<path fill="#e6aa66" d="M546 48h6v6h-6zM498 54h6v6h-6zM552 60h6v6h-6zM564 60h6v6h-6zM636 84h6v6h-6zM504 90h6v6h-6zM630 90h6v6h-6zM642 90h6v6h-6zM630 96h6v6h-6zM630 102h6v6h-6zM636 108h12v6h-12zM528 120h6v6h-6zM534 126h6v6h-6zM522 132h6v6h-6zM534 132h6v6h-6z"/>
<path fill="#e6aa62" d="M510 54h6v6h-6zM546 54h6v6h-6zM558 60h6v6h-6zM492 90h6v6h-6zM636 90h6v6h-6zM636 96h12v6h-12zM504 102h6v6h-6zM636 102h12v6h-12zM522 126h12v6h-12zM528 132h6v6h-6z"/>
<path fill="#e6ae72" d="M588 78h6v6h-6zM594 84h6v6h-6zM594 90h6v6h-6zM588 96h6v6h-6z"/>
</g>
<g transform="rotate(32 568.4 85)"><rect x="448.4" y="-35" width="240" height="240" filter="url(#streak)" opacity="0.22"/><rect x="448.4" y="-35" width="240" height="240" filter="url(#streak2)" opacity="0.2"/></g>
</g>
<rect x="654.00" y="6.10" width="13.00" height="158.90" fill="url(#cbgrad)" />
<text x="492.5" y="22.3" font-size="12" text-anchor="start" fill="#231815" stroke="#231815" stroke-width="0.25" >DCl</text>
<rect x="605.00" y="155.20" width="32.80" height="3.50" fill="#fff" />
<text x="621.4" y="150.3" font-size="12" text-anchor="middle" fill="#fff" stroke="#fff" stroke-width="0.25" >10 μm</text>
<text transform="translate(681.8,165) rotate(-90)" font-size="12.8" fill="#231815">2×10<tspan font-size="8" dy="-4.8">4</tspan></text>
<text transform="translate(681.8,121.9) rotate(-90)" font-size="12.8" fill="#231815">Intensity (a.u.)</text>
<text transform="translate(681.8,37) rotate(-90)" font-size="12.8" fill="#231815">4×10<tspan font-size="8" dy="-4.8">4</tspan></text>
<text x="3.2" y="199.6" font-size="25" text-anchor="start" fill="#231815" stroke="#231815" stroke-width="0.25" >d</text>
<clipPath id="dclip"><rect x="37.5" y="193.9" width="180.3" height="145.29999999999998"/></clipPath>
<g clip-path="url(#dclip)">
<path d="M35.2,204.9a2.25,2.25 0 1,0 4.5,0a2.25,2.25 0 1,0 -4.5,0M35.5,203.8a2.25,2.25 0 1,0 4.5,0a2.25,2.25 0 1,0 -4.5,0M35.8,206.8a2.25,2.25 0 1,0 4.5,0a2.25,2.25 0 1,0 -4.5,0M36.0,203.3a2.25,2.25 0 1,0 4.5,0a2.25,2.25 0 1,0 -4.5,0M36.3,209.3a2.25,2.25 0 1,0 4.5,0a2.25,2.25 0 1,0 -4.5,0M36.5,204.8a2.25,2.25 0 1,0 4.5,0a2.25,2.25 0 1,0 -4.5,0M36.8,203.5a2.25,2.25 0 1,0 4.5,0a2.25,2.25 0 1,0 -4.5,0M37.1,207.8a2.25,2.25 0 1,0 4.5,0a2.25,2.25 0 1,0 -4.5,0M37.3,204.8a2.25,2.25 0 1,0 4.5,0a2.25,2.25 0 1,0 -4.5,0M37.6,211.0a2.25,2.25 0 1,0 4.5,0a2.25,2.25 0 1,0 -4.5,0M37.8,208.3a2.25,2.25 0 1,0 4.5,0a2.25,2.25 0 1,0 -4.5,0M38.1,209.7a2.25,2.25 0 1,0 4.5,0a2.25,2.25 0 1,0 -4.5,0M38.4,208.2a2.25,2.25 0 1,0 4.5,0a2.25,2.25 0 1,0 -4.5,0M38.6,208.2a2.25,2.25 0 1,0 4.5,0a2.25,2.25 0 1,0 -4.5,0M38.9,212.2a2.25,2.25 0 1,0 4.5,0a2.25,2.25 0 1,0 -4.5,0M39.1,213.2a2.25,2.25 0 1,0 4.5,0a2.25,2.25 0 1,0 -4.5,0M39.4,213.5a2.25,2.25 0 1,0 4.5,0a2.25,2.25 0 1,0 -4.5,0M39.7,212.5a2.25,2.25 0 1,0 4.5,0a2.25,2.25 0 1,0 -4.5,0M39.9,207.5a2.25,2.25 0 1,0 4.5,0a2.25,2.25 0 1,0 -4.5,0M40.2,213.0a2.25,2.25 0 1,0 4.5,0a2.25,2.25 0 1,0 -4.5,0M40.4,212.3a2.25,2.25 0 1,0 4.5,0a2.25,2.25 0 1,0 -4.5,0M40.7,212.8a2.25,2.25 0 1,0 4.5,0a2.25,2.25 0 1,0 -4.5,0M41.0,214.8a2.25,2.25 0 1,0 4.5,0a2.25,2.25 0 1,0 -4.5,0M41.2,214.2a2.25,2.25 0 1,0 4.5,0a2.25,2.25 0 1,0 -4.5,0M41.5,212.2a2.25,2.25 0 1,0 4.5,0a2.25,2.25 0 1,0 -4.5,0M41.7,213.6a2.25,2.25 0 1,0 4.5,0a2.25,2.25 0 1,0 -4.5,0M42.0,214.4a2.25,2.25 0 1,0 4.5,0a2.25,2.25 0 1,0 -4.5,0M42.2,214.0a2.25,2.25 0 1,0 4.5,0a2.25,2.25 0 1,0 -4.5,0M42.5,212.9a2.25,2.25 0 1,0 4.5,0a2.25,2.25 0 1,0 -4.5,0M42.8,217.0a2.25,2.25 0 1,0 4.5,0a2.25,2.25 0 1,0 -4.5,0M43.0,214.6a2.25,2.25 0 1,0 4.5,0a2.25,2.25 0 1,0 -4.5,0M43.3,214.7a2.25,2.25 0 1,0 4.5,0a2.25,2.25 0 1,0 -4.5,0M43.5,215.6a2.25,2.25 0 1,0 4.5,0a2.25,2.25 0 1,0 -4.5,0M43.8,216.8a2.25,2.25 0 1,0 4.5,0a2.25,2.25 0 1,0 -4.5,0M44.1,218.4a2.25,2.25 0 1,0 4.5,0a2.25,2.25 0 1,0 -4.5,0M44.3,220.5a2.25,2.25 0 1,0 4.5,0a2.25,2.25 0 1,0 -4.5,0M44.6,215.6a2.25,2.25 0 1,0 4.5,0a2.25,2.25 0 1,0 -4.5,0M44.8,215.9a2.25,2.25 0 1,0 4.5,0a2.25,2.25 0 1,0 -4.5,0M45.1,217.0a2.25,2.25 0 1,0 4.5,0a2.25,2.25 0 1,0 -4.5,0M45.4,218.3a2.25,2.25 0 1,0 4.5,0a2.25,2.25 0 1,0 -4.5,0M45.6,217.4a2.25,2.25 0 1,0 4.5,0a2.25,2.25 0 1,0 -4.5,0M45.9,219.0a2.25,2.25 0 1,0 4.5,0a2.25,2.25 0 1,0 -4.5,0M46.1,218.9a2.25,2.25 0 1,0 4.5,0a2.25,2.25 0 1,0 -4.5,0M46.4,221.0a2.25,2.25 0 1,0 4.5,0a2.25,2.25 0 1,0 -4.5,0M46.7,215.0a2.25,2.25 0 1,0 4.5,0a2.25,2.25 0 1,0 -4.5,0M46.9,220.4a2.25,2.25 0 1,0 4.5,0a2.25,2.25 0 1,0 -4.5,0M47.2,223.0a2.25,2.25 0 1,0 4.5,0a2.25,2.25 0 1,0 -4.5,0M47.4,222.0a2.25,2.25 0 1,0 4.5,0a2.25,2.25 0 1,0 -4.5,0M47.7,219.7a2.25,2.25 0 1,0 4.5,0a2.25,2.25 0 1,0 -4.5,0M48.0,221.1a2.25,2.25 0 1,0 4.5,0a2.25,2.25 0 1,0 -4.5,0M48.2,223.8a2.25,2.25 0 1,0 4.5,0a2.25,2.25 0 1,0 -4.5,0M48.5,222.0a2.25,2.25 0 1,0 4.5,0a2.25,2.25 0 1,0 -4.5,0M48.7,228.9a2.25,2.25 0 1,0 4.5,0a2.25,2.25 0 1,0 -4.5,0M49.0,223.2a2.25,2.25 0 1,0 4.5,0a2.25,2.25 0 1,0 -4.5,0M49.2,223.3a2.25,2.25 0 1,0 4.5,0a2.25,2.25 0 1,0 -4.5,0M49.5,224.1a2.25,2.25 0 1,0 4.5,0a2.25,2.25 0 1,0 -4.5,0M49.8,229.0a2.25,2.25 0 1,0 4.5,0a2.25,2.25 0 1,0 -4.5,0M50.0,221.2a2.25,2.25 0 1,0 4.5,0a2.25,2.25 0 1,0 -4.5,0M50.3,225.4a2.25,2.25 0 1,0 4.5,0a2.25,2.25 0 1,0 -4.5,0M50.5,226.9a2.25,2.25 0 1,0 4.5,0a2.25,2.25 0 1,0 -4.5,0M50.8,221.4a2.25,2.25 0 1,0 4.5,0a2.25,2.25 0 1,0 -4.5,0M51.1,224.8a2.25,2.25 0 1,0 4.5,0a2.25,2.25 0 1,0 -4.5,0M51.3,225.1a2.25,2.25 0 1,0 4.5,0a2.25,2.25 0 1,0 -4.5,0M51.6,229.7a2.25,2.25 0 1,0 4.5,0a2.25,2.25 0 1,0 -4.5,0M51.8,224.8a2.25,2.25 0 1,0 4.5,0a2.25,2.25 0 1,0 -4.5,0M52.1,226.7a2.25,2.25 0 1,0 4.5,0a2.25,2.25 0 1,0 -4.5,0M52.4,233.6a2.25,2.25 0 1,0 4.5,0a2.25,2.25 0 1,0 -4.5,0M52.6,231.1a2.25,2.25 0 1,0 4.5,0a2.25,2.25 0 1,0 -4.5,0M52.9,228.6a2.25,2.25 0 1,0 4.5,0a2.25,2.25 0 1,0 -4.5,0M53.1,228.0a2.25,2.25 0 1,0 4.5,0a2.25,2.25 0 1,0 -4.5,0M53.4,230.5a2.25,2.25 0 1,0 4.5,0a2.25,2.25 0 1,0 -4.5,0M53.7,228.2a2.25,2.25 0 1,0 4.5,0a2.25,2.25 0 1,0 -4.5,0M53.9,232.0a2.25,2.25 0 1,0 4.5,0a2.25,2.25 0 1,0 -4.5,0M54.2,232.0a2.25,2.25 0 1,0 4.5,0a2.25,2.25 0 1,0 -4.5,0M54.4,228.7a2.25,2.25 0 1,0 4.5,0a2.25,2.25 0 1,0 -4.5,0M54.7,234.5a2.25,2.25 0 1,0 4.5,0a2.25,2.25 0 1,0 -4.5,0M54.9,231.3a2.25,2.25 0 1,0 4.5,0a2.25,2.25 0 1,0 -4.5,0M55.2,227.6a2.25,2.25 0 1,0 4.5,0a2.25,2.25 0 1,0 -4.5,0M55.5,238.0a2.25,2.25 0 1,0 4.5,0a2.25,2.25 0 1,0 -4.5,0M55.7,229.8a2.25,2.25 0 1,0 4.5,0a2.25,2.25 0 1,0 -4.5,0M56.0,236.9a2.25,2.25 0 1,0 4.5,0a2.25,2.25 0 1,0 -4.5,0M56.2,233.2a2.25,2.25 0 1,0 4.5,0a2.25,2.25 0 1,0 -4.5,0M56.5,230.8a2.25,2.25 0 1,0 4.5,0a2.25,2.25 0 1,0 -4.5,0M56.8,237.7a2.25,2.25 0 1,0 4.5,0a2.25,2.25 0 1,0 -4.5,0M57.0,237.0a2.25,2.25 0 1,0 4.5,0a2.25,2.25 0 1,0 -4.5,0M57.3,236.8a2.25,2.25 0 1,0 4.5,0a2.25,2.25 0 1,0 -4.5,0M57.5,235.9a2.25,2.25 0 1,0 4.5,0a2.25,2.25 0 1,0 -4.5,0M57.8,233.7a2.25,2.25 0 1,0 4.5,0a2.25,2.25 0 1,0 -4.5,0M58.1,238.6a2.25,2.25 0 1,0 4.5,0a2.25,2.25 0 1,0 -4.5,0M58.3,235.6a2.25,2.25 0 1,0 4.5,0a2.25,2.25 0 1,0 -4.5,0M58.6,239.2a2.25,2.25 0 1,0 4.5,0a2.25,2.25 0 1,0 -4.5,0M58.8,240.7a2.25,2.25 0 1,0 4.5,0a2.25,2.25 0 1,0 -4.5,0M59.1,233.6a2.25,2.25 0 1,0 4.5,0a2.25,2.25 0 1,0 -4.5,0M59.4,233.3a2.25,2.25 0 1,0 4.5,0a2.25,2.25 0 1,0 -4.5,0M59.6,239.6a2.25,2.25 0 1,0 4.5,0a2.25,2.25 0 1,0 -4.5,0M59.9,240.5a2.25,2.25 0 1,0 4.5,0a2.25,2.25 0 1,0 -4.5,0M60.1,242.4a2.25,2.25 0 1,0 4.5,0a2.25,2.25 0 1,0 -4.5,0M60.4,234.6a2.25,2.25 0 1,0 4.5,0a2.25,2.25 0 1,0 -4.5,0M60.7,235.7a2.25,2.25 0 1,0 4.5,0a2.25,2.25 0 1,0 -4.5,0M60.9,241.4a2.25,2.25 0 1,0 4.5,0a2.25,2.25 0 1,0 -4.5,0M61.2,242.3a2.25,2.25 0 1,0 4.5,0a2.25,2.25 0 1,0 -4.5,0M61.4,247.1a2.25,2.25 0 1,0 4.5,0a2.25,2.25 0 1,0 -4.5,0M61.7,240.3a2.25,2.25 0 1,0 4.5,0a2.25,2.25 0 1,0 -4.5,0M61.9,240.1a2.25,2.25 0 1,0 4.5,0a2.25,2.25 0 1,0 -4.5,0M62.2,240.0a2.25,2.25 0 1,0 4.5,0a2.25,2.25 0 1,0 -4.5,0M62.5,239.8a2.25,2.25 0 1,0 4.5,0a2.25,2.25 0 1,0 -4.5,0M62.7,246.4a2.25,2.25 0 1,0 4.5,0a2.25,2.25 0 1,0 -4.5,0M63.0,242.4a2.25,2.25 0 1,0 4.5,0a2.25,2.25 0 1,0 -4.5,0M63.2,240.4a2.25,2.25 0 1,0 4.5,0a2.25,2.25 0 1,0 -4.5,0M63.5,244.0a2.25,2.25 0 1,0 4.5,0a2.25,2.25 0 1,0 -4.5,0M63.8,242.2a2.25,2.25 0 1,0 4.5,0a2.25,2.25 0 1,0 -4.5,0M64.0,246.2a2.25,2.25 0 1,0 4.5,0a2.25,2.25 0 1,0 -4.5,0M64.3,240.6a2.25,2.25 0 1,0 4.5,0a2.25,2.25 0 1,0 -4.5,0M64.5,243.8a2.25,2.25 0 1,0 4.5,0a2.25,2.25 0 1,0 -4.5,0M64.8,249.6a2.25,2.25 0 1,0 4.5,0a2.25,2.25 0 1,0 -4.5,0M65.1,244.2a2.25,2.25 0 1,0 4.5,0a2.25,2.25 0 1,0 -4.5,0M65.3,247.0a2.25,2.25 0 1,0 4.5,0a2.25,2.25 0 1,0 -4.5,0M65.6,243.4a2.25,2.25 0 1,0 4.5,0a2.25,2.25 0 1,0 -4.5,0M65.8,249.1a2.25,2.25 0 1,0 4.5,0a2.25,2.25 0 1,0 -4.5,0M66.1,246.1a2.25,2.25 0 1,0 4.5,0a2.25,2.25 0 1,0 -4.5,0M66.4,243.8a2.25,2.25 0 1,0 4.5,0a2.25,2.25 0 1,0 -4.5,0M66.6,246.0a2.25,2.25 0 1,0 4.5,0a2.25,2.25 0 1,0 -4.5,0M66.9,246.7a2.25,2.25 0 1,0 4.5,0a2.25,2.25 0 1,0 -4.5,0M67.1,250.1a2.25,2.25 0 1,0 4.5,0a2.25,2.25 0 1,0 -4.5,0M67.4,247.5a2.25,2.25 0 1,0 4.5,0a2.25,2.25 0 1,0 -4.5,0M67.7,246.4a2.25,2.25 0 1,0 4.5,0a2.25,2.25 0 1,0 -4.5,0M67.9,248.9a2.25,2.25 0 1,0 4.5,0a2.25,2.25 0 1,0 -4.5,0M68.2,248.6a2.25,2.25 0 1,0 4.5,0a2.25,2.25 0 1,0 -4.5,0M68.4,248.0a2.25,2.25 0 1,0 4.5,0a2.25,2.25 0 1,0 -4.5,0M68.7,252.9a2.25,2.25 0 1,0 4.5,0a2.25,2.25 0 1,0 -4.5,0M68.9,254.4a2.25,2.25 0 1,0 4.5,0a2.25,2.25 0 1,0 -4.5,0M69.2,250.8a2.25,2.25 0 1,0 4.5,0a2.25,2.25 0 1,0 -4.5,0M69.5,251.9a2.25,2.25 0 1,0 4.5,0a2.25,2.25 0 1,0 -4.5,0M69.7,252.4a2.25,2.25 0 1,0 4.5,0a2.25,2.25 0 1,0 -4.5,0M70.0,247.6a2.25,2.25 0 1,0 4.5,0a2.25,2.25 0 1,0 -4.5,0M70.2,252.6a2.25,2.25 0 1,0 4.5,0a2.25,2.25 0 1,0 -4.5,0M70.5,250.9a2.25,2.25 0 1,0 4.5,0a2.25,2.25 0 1,0 -4.5,0M70.8,254.9a2.25,2.25 0 1,0 4.5,0a2.25,2.25 0 1,0 -4.5,0M71.0,258.1a2.25,2.25 0 1,0 4.5,0a2.25,2.25 0 1,0 -4.5,0M71.3,256.0a2.25,2.25 0 1,0 4.5,0a2.25,2.25 0 1,0 -4.5,0M71.5,252.1a2.25,2.25 0 1,0 4.5,0a2.25,2.25 0 1,0 -4.5,0M71.8,249.9a2.25,2.25 0 1,0 4.5,0a2.25,2.25 0 1,0 -4.5,0M72.1,250.3a2.25,2.25 0 1,0 4.5,0a2.25,2.25 0 1,0 -4.5,0M72.3,261.5a2.25,2.25 0 1,0 4.5,0a2.25,2.25 0 1,0 -4.5,0M72.6,256.3a2.25,2.25 0 1,0 4.5,0a2.25,2.25 0 1,0 -4.5,0M72.8,252.4a2.25,2.25 0 1,0 4.5,0a2.25,2.25 0 1,0 -4.5,0M73.1,252.3a2.25,2.25 0 1,0 4.5,0a2.25,2.25 0 1,0 -4.5,0M73.4,257.3a2.25,2.25 0 1,0 4.5,0a2.25,2.25 0 1,0 -4.5,0M73.6,259.1a2.25,2.25 0 1,0 4.5,0a2.25,2.25 0 1,0 -4.5,0M73.9,261.1a2.25,2.25 0 1,0 4.5,0a2.25,2.25 0 1,0 -4.5,0M74.1,251.8a2.25,2.25 0 1,0 4.5,0a2.25,2.25 0 1,0 -4.5,0M74.4,249.1a2.25,2.25 0 1,0 4.5,0a2.25,2.25 0 1,0 -4.5,0M74.6,264.1a2.25,2.25 0 1,0 4.5,0a2.25,2.25 0 1,0 -4.5,0M74.9,257.8a2.25,2.25 0 1,0 4.5,0a2.25,2.25 0 1,0 -4.5,0M75.2,256.7a2.25,2.25 0 1,0 4.5,0a2.25,2.25 0 1,0 -4.5,0M75.4,254.2a2.25,2.25 0 1,0 4.5,0a2.25,2.25 0 1,0 -4.5,0M75.7,264.8a2.25,2.25 0 1,0 4.5,0a2.25,2.25 0 1,0 -4.5,0M75.9,259.3a2.25,2.25 0 1,0 4.5,0a2.25,2.25 0 1,0 -4.5,0M76.2,258.8a2.25,2.25 0 1,0 4.5,0a2.25,2.25 0 1,0 -4.5,0M76.5,259.2a2.25,2.25 0 1,0 4.5,0a2.25,2.25 0 1,0 -4.5,0M76.7,261.0a2.25,2.25 0 1,0 4.5,0a2.25,2.25 0 1,0 -4.5,0M77.0,257.8a2.25,2.25 0 1,0 4.5,0a2.25,2.25 0 1,0 -4.5,0M77.2,266.8a2.25,2.25 0 1,0 4.5,0a2.25,2.25 0 1,0 -4.5,0M77.5,259.3a2.25,2.25 0 1,0 4.5,0a2.25,2.25 0 1,0 -4.5,0M77.8,257.5a2.25,2.25 0 1,0 4.5,0a2.25,2.25 0 1,0 -4.5,0M78.0,256.7a2.25,2.25 0 1,0 4.5,0a2.25,2.25 0 1,0 -4.5,0M78.3,259.5a2.25,2.25 0 1,0 4.5,0a2.25,2.25 0 1,0 -4.5,0M78.5,259.7a2.25,2.25 0 1,0 4.5,0a2.25,2.25 0 1,0 -4.5,0M78.8,260.6a2.25,2.25 0 1,0 4.5,0a2.25,2.25 0 1,0 -4.5,0M79.1,258.8a2.25,2.25 0 1,0 4.5,0a2.25,2.25 0 1,0 -4.5,0M79.3,259.0a2.25,2.25 0 1,0 4.5,0a2.25,2.25 0 1,0 -4.5,0M79.6,263.1a2.25,2.25 0 1,0 4.5,0a2.25,2.25 0 1,0 -4.5,0M79.8,257.2a2.25,2.25 0 1,0 4.5,0a2.25,2.25 0 1,0 -4.5,0M80.1,266.3a2.25,2.25 0 1,0 4.5,0a2.25,2.25 0 1,0 -4.5,0M80.4,267.2a2.25,2.25 0 1,0 4.5,0a2.25,2.25 0 1,0 -4.5,0M80.6,264.5a2.25,2.25 0 1,0 4.5,0a2.25,2.25 0 1,0 -4.5,0M80.9,262.5a2.25,2.25 0 1,0 4.5,0a2.25,2.25 0 1,0 -4.5,0M81.1,262.8a2.25,2.25 0 1,0 4.5,0a2.25,2.25 0 1,0 -4.5,0M81.4,260.5a2.25,2.25 0 1,0 4.5,0a2.25,2.25 0 1,0 -4.5,0M81.6,265.3a2.25,2.25 0 1,0 4.5,0a2.25,2.25 0 1,0 -4.5,0M81.9,262.9a2.25,2.25 0 1,0 4.5,0a2.25,2.25 0 1,0 -4.5,0M82.2,262.1a2.25,2.25 0 1,0 4.5,0a2.25,2.25 0 1,0 -4.5,0M82.4,270.7a2.25,2.25 0 1,0 4.5,0a2.25,2.25 0 1,0 -4.5,0M82.7,267.1a2.25,2.25 0 1,0 4.5,0a2.25,2.25 0 1,0 -4.5,0M82.9,271.8a2.25,2.25 0 1,0 4.5,0a2.25,2.25 0 1,0 -4.5,0M83.2,272.9a2.25,2.25 0 1,0 4.5,0a2.25,2.25 0 1,0 -4.5,0M83.5,268.1a2.25,2.25 0 1,0 4.5,0a2.25,2.25 0 1,0 -4.5,0M83.7,267.8a2.25,2.25 0 1,0 4.5,0a2.25,2.25 0 1,0 -4.5,0M84.0,268.6a2.25,2.25 0 1,0 4.5,0a2.25,2.25 0 1,0 -4.5,0M84.2,272.8a2.25,2.25 0 1,0 4.5,0a2.25,2.25 0 1,0 -4.5,0M84.5,271.6a2.25,2.25 0 1,0 4.5,0a2.25,2.25 0 1,0 -4.5,0M84.8,277.4a2.25,2.25 0 1,0 4.5,0a2.25,2.25 0 1,0 -4.5,0M85.0,271.3a2.25,2.25 0 1,0 4.5,0a2.25,2.25 0 1,0 -4.5,0M85.3,278.1a2.25,2.25 0 1,0 4.5,0a2.25,2.25 0 1,0 -4.5,0M85.5,266.7a2.25,2.25 0 1,0 4.5,0a2.25,2.25 0 1,0 -4.5,0M85.8,260.2a2.25,2.25 0 1,0 4.5,0a2.25,2.25 0 1,0 -4.5,0M86.1,271.1a2.25,2.25 0 1,0 4.5,0a2.25,2.25 0 1,0 -4.5,0M86.3,266.7a2.25,2.25 0 1,0 4.5,0a2.25,2.25 0 1,0 -4.5,0M86.6,264.5a2.25,2.25 0 1,0 4.5,0a2.25,2.25 0 1,0 -4.5,0M86.8,275.0a2.25,2.25 0 1,0 4.5,0a2.25,2.25 0 1,0 -4.5,0M87.1,274.4a2.25,2.25 0 1,0 4.5,0a2.25,2.25 0 1,0 -4.5,0M87.3,274.4a2.25,2.25 0 1,0 4.5,0a2.25,2.25 0 1,0 -4.5,0M87.6,275.0a2.25,2.25 0 1,0 4.5,0a2.25,2.25 0 1,0 -4.5,0M87.9,273.6a2.25,2.25 0 1,0 4.5,0a2.25,2.25 0 1,0 -4.5,0M88.1,272.7a2.25,2.25 0 1,0 4.5,0a2.25,2.25 0 1,0 -4.5,0M88.4,269.7a2.25,2.25 0 1,0 4.5,0a2.25,2.25 0 1,0 -4.5,0M88.6,271.7a2.25,2.25 0 1,0 4.5,0a2.25,2.25 0 1,0 -4.5,0M88.9,269.8a2.25,2.25 0 1,0 4.5,0a2.25,2.25 0 1,0 -4.5,0M89.2,275.7a2.25,2.25 0 1,0 4.5,0a2.25,2.25 0 1,0 -4.5,0M89.4,270.8a2.25,2.25 0 1,0 4.5,0a2.25,2.25 0 1,0 -4.5,0M89.7,274.5a2.25,2.25 0 1,0 4.5,0a2.25,2.25 0 1,0 -4.5,0M89.9,272.3a2.25,2.25 0 1,0 4.5,0a2.25,2.25 0 1,0 -4.5,0M90.2,277.7a2.25,2.25 0 1,0 4.5,0a2.25,2.25 0 1,0 -4.5,0M90.5,274.2a2.25,2.25 0 1,0 4.5,0a2.25,2.25 0 1,0 -4.5,0M90.7,281.8a2.25,2.25 0 1,0 4.5,0a2.25,2.25 0 1,0 -4.5,0M91.0,277.5a2.25,2.25 0 1,0 4.5,0a2.25,2.25 0 1,0 -4.5,0M91.2,267.8a2.25,2.25 0 1,0 4.5,0a2.25,2.25 0 1,0 -4.5,0M91.5,273.5a2.25,2.25 0 1,0 4.5,0a2.25,2.25 0 1,0 -4.5,0M91.8,274.5a2.25,2.25 0 1,0 4.5,0a2.25,2.25 0 1,0 -4.5,0M92.0,274.8a2.25,2.25 0 1,0 4.5,0a2.25,2.25 0 1,0 -4.5,0M92.3,280.3a2.25,2.25 0 1,0 4.5,0a2.25,2.25 0 1,0 -4.5,0M92.5,285.3a2.25,2.25 0 1,0 4.5,0a2.25,2.25 0 1,0 -4.5,0M92.8,266.6a2.25,2.25 0 1,0 4.5,0a2.25,2.25 0 1,0 -4.5,0M93.1,276.0a2.25,2.25 0 1,0 4.5,0a2.25,2.25 0 1,0 -4.5,0M93.3,273.9a2.25,2.25 0 1,0 4.5,0a2.25,2.25 0 1,0 -4.5,0M93.6,283.8a2.25,2.25 0 1,0 4.5,0a2.25,2.25 0 1,0 -4.5,0M93.8,276.3a2.25,2.25 0 1,0 4.5,0a2.25,2.25 0 1,0 -4.5,0M94.1,287.8a2.25,2.25 0 1,0 4.5,0a2.25,2.25 0 1,0 -4.5,0M94.3,284.5a2.25,2.25 0 1,0 4.5,0a2.25,2.25 0 1,0 -4.5,0M94.6,277.8a2.25,2.25 0 1,0 4.5,0a2.25,2.25 0 1,0 -4.5,0M94.9,278.2a2.25,2.25 0 1,0 4.5,0a2.25,2.25 0 1,0 -4.5,0M95.1,284.4a2.25,2.25 0 1,0 4.5,0a2.25,2.25 0 1,0 -4.5,0M95.4,289.7a2.25,2.25 0 1,0 4.5,0a2.25,2.25 0 1,0 -4.5,0M95.6,279.6a2.25,2.25 0 1,0 4.5,0a2.25,2.25 0 1,0 -4.5,0M95.9,289.1a2.25,2.25 0 1,0 4.5,0a2.25,2.25 0 1,0 -4.5,0M96.2,286.3a2.25,2.25 0 1,0 4.5,0a2.25,2.25 0 1,0 -4.5,0M96.4,293.2a2.25,2.25 0 1,0 4.5,0a2.25,2.25 0 1,0 -4.5,0M96.7,293.7a2.25,2.25 0 1,0 4.5,0a2.25,2.25 0 1,0 -4.5,0M96.9,273.8a2.25,2.25 0 1,0 4.5,0a2.25,2.25 0 1,0 -4.5,0M97.2,283.6a2.25,2.25 0 1,0 4.5,0a2.25,2.25 0 1,0 -4.5,0M97.5,287.5a2.25,2.25 0 1,0 4.5,0a2.25,2.25 0 1,0 -4.5,0M97.7,291.5a2.25,2.25 0 1,0 4.5,0a2.25,2.25 0 1,0 -4.5,0M98.0,294.8a2.25,2.25 0 1,0 4.5,0a2.25,2.25 0 1,0 -4.5,0M98.2,280.1a2.25,2.25 0 1,0 4.5,0a2.25,2.25 0 1,0 -4.5,0M98.5,282.3a2.25,2.25 0 1,0 4.5,0a2.25,2.25 0 1,0 -4.5,0M98.8,290.7a2.25,2.25 0 1,0 4.5,0a2.25,2.25 0 1,0 -4.5,0M99.0,293.1a2.25,2.25 0 1,0 4.5,0a2.25,2.25 0 1,0 -4.5,0M99.3,281.4a2.25,2.25 0 1,0 4.5,0a2.25,2.25 0 1,0 -4.5,0M99.5,284.3a2.25,2.25 0 1,0 4.5,0a2.25,2.25 0 1,0 -4.5,0M99.8,276.8a2.25,2.25 0 1,0 4.5,0a2.25,2.25 0 1,0 -4.5,0M100.1,288.4a2.25,2.25 0 1,0 4.5,0a2.25,2.25 0 1,0 -4.5,0M100.3,300.6a2.25,2.25 0 1,0 4.5,0a2.25,2.25 0 1,0 -4.5,0M100.6,283.1a2.25,2.25 0 1,0 4.5,0a2.25,2.25 0 1,0 -4.5,0M100.8,290.7a2.25,2.25 0 1,0 4.5,0a2.25,2.25 0 1,0 -4.5,0M101.1,299.1a2.25,2.25 0 1,0 4.5,0a2.25,2.25 0 1,0 -4.5,0M101.3,289.6a2.25,2.25 0 1,0 4.5,0a2.25,2.25 0 1,0 -4.5,0M101.6,289.1a2.25,2.25 0 1,0 4.5,0a2.25,2.25 0 1,0 -4.5,0M101.9,288.4a2.25,2.25 0 1,0 4.5,0a2.25,2.25 0 1,0 -4.5,0M102.1,293.6a2.25,2.25 0 1,0 4.5,0a2.25,2.25 0 1,0 -4.5,0M102.4,282.8a2.25,2.25 0 1,0 4.5,0a2.25,2.25 0 1,0 -4.5,0M102.6,287.6a2.25,2.25 0 1,0 4.5,0a2.25,2.25 0 1,0 -4.5,0M102.9,297.9a2.25,2.25 0 1,0 4.5,0a2.25,2.25 0 1,0 -4.5,0M103.2,302.8a2.25,2.25 0 1,0 4.5,0a2.25,2.25 0 1,0 -4.5,0M103.4,287.7a2.25,2.25 0 1,0 4.5,0a2.25,2.25 0 1,0 -4.5,0M103.7,291.2a2.25,2.25 0 1,0 4.5,0a2.25,2.25 0 1,0 -4.5,0M103.9,294.0a2.25,2.25 0 1,0 4.5,0a2.25,2.25 0 1,0 -4.5,0M104.2,300.1a2.25,2.25 0 1,0 4.5,0a2.25,2.25 0 1,0 -4.5,0M104.5,286.7a2.25,2.25 0 1,0 4.5,0a2.25,2.25 0 1,0 -4.5,0M104.7,288.4a2.25,2.25 0 1,0 4.5,0a2.25,2.25 0 1,0 -4.5,0M105.0,282.9a2.25,2.25 0 1,0 4.5,0a2.25,2.25 0 1,0 -4.5,0M105.2,285.4a2.25,2.25 0 1,0 4.5,0a2.25,2.25 0 1,0 -4.5,0M105.5,300.5a2.25,2.25 0 1,0 4.5,0a2.25,2.25 0 1,0 -4.5,0M105.8,290.3a2.25,2.25 0 1,0 4.5,0a2.25,2.25 0 1,0 -4.5,0M106.0,289.5a2.25,2.25 0 1,0 4.5,0a2.25,2.25 0 1,0 -4.5,0M106.3,292.6a2.25,2.25 0 1,0 4.5,0a2.25,2.25 0 1,0 -4.5,0M106.5,300.1a2.25,2.25 0 1,0 4.5,0a2.25,2.25 0 1,0 -4.5,0M106.8,288.0a2.25,2.25 0 1,0 4.5,0a2.25,2.25 0 1,0 -4.5,0M107.0,289.0a2.25,2.25 0 1,0 4.5,0a2.25,2.25 0 1,0 -4.5,0M107.3,301.7a2.25,2.25 0 1,0 4.5,0a2.25,2.25 0 1,0 -4.5,0M107.6,299.9a2.25,2.25 0 1,0 4.5,0a2.25,2.25 0 1,0 -4.5,0M107.8,292.9a2.25,2.25 0 1,0 4.5,0a2.25,2.25 0 1,0 -4.5,0M108.1,308.0a2.25,2.25 0 1,0 4.5,0a2.25,2.25 0 1,0 -4.5,0M108.3,303.6a2.25,2.25 0 1,0 4.5,0a2.25,2.25 0 1,0 -4.5,0M108.6,302.0a2.25,2.25 0 1,0 4.5,0a2.25,2.25 0 1,0 -4.5,0M108.9,296.4a2.25,2.25 0 1,0 4.5,0a2.25,2.25 0 1,0 -4.5,0M109.1,308.3a2.25,2.25 0 1,0 4.5,0a2.25,2.25 0 1,0 -4.5,0M109.4,300.8a2.25,2.25 0 1,0 4.5,0a2.25,2.25 0 1,0 -4.5,0M109.6,294.8a2.25,2.25 0 1,0 4.5,0a2.25,2.25 0 1,0 -4.5,0M109.9,299.2a2.25,2.25 0 1,0 4.5,0a2.25,2.25 0 1,0 -4.5,0M110.2,305.7a2.25,2.25 0 1,0 4.5,0a2.25,2.25 0 1,0 -4.5,0M110.4,303.6a2.25,2.25 0 1,0 4.5,0a2.25,2.25 0 1,0 -4.5,0M110.7,287.9a2.25,2.25 0 1,0 4.5,0a2.25,2.25 0 1,0 -4.5,0M110.9,304.4a2.25,2.25 0 1,0 4.5,0a2.25,2.25 0 1,0 -4.5,0M111.2,297.0a2.25,2.25 0 1,0 4.5,0a2.25,2.25 0 1,0 -4.5,0M111.5,295.1a2.25,2.25 0 1,0 4.5,0a2.25,2.25 0 1,0 -4.5,0M111.7,299.4a2.25,2.25 0 1,0 4.5,0a2.25,2.25 0 1,0 -4.5,0M112.0,316.9a2.25,2.25 0 1,0 4.5,0a2.25,2.25 0 1,0 -4.5,0M112.2,290.2a2.25,2.25 0 1,0 4.5,0a2.25,2.25 0 1,0 -4.5,0M112.5,307.9a2.25,2.25 0 1,0 4.5,0a2.25,2.25 0 1,0 -4.5,0M112.8,289.1a2.25,2.25 0 1,0 4.5,0a2.25,2.25 0 1,0 -4.5,0M113.0,301.4a2.25,2.25 0 1,0 4.5,0a2.25,2.25 0 1,0 -4.5,0M113.3,298.1a2.25,2.25 0 1,0 4.5,0a2.25,2.25 0 1,0 -4.5,0M113.5,310.6a2.25,2.25 0 1,0 4.5,0a2.25,2.25 0 1,0 -4.5,0M113.8,290.5a2.25,2.25 0 1,0 4.5,0a2.25,2.25 0 1,0 -4.5,0M114.0,297.3a2.25,2.25 0 1,0 4.5,0a2.25,2.25 0 1,0 -4.5,0M114.3,293.2a2.25,2.25 0 1,0 4.5,0a2.25,2.25 0 1,0 -4.5,0M114.6,311.8a2.25,2.25 0 1,0 4.5,0a2.25,2.25 0 1,0 -4.5,0M114.8,313.6a2.25,2.25 0 1,0 4.5,0a2.25,2.25 0 1,0 -4.5,0M115.1,306.5a2.25,2.25 0 1,0 4.5,0a2.25,2.25 0 1,0 -4.5,0M115.3,302.5a2.25,2.25 0 1,0 4.5,0a2.25,2.25 0 1,0 -4.5,0M115.6,309.3a2.25,2.25 0 1,0 4.5,0a2.25,2.25 0 1,0 -4.5,0M115.9,297.0a2.25,2.25 0 1,0 4.5,0a2.25,2.25 0 1,0 -4.5,0M116.1,295.1a2.25,2.25 0 1,0 4.5,0a2.25,2.25 0 1,0 -4.5,0M116.4,312.3a2.25,2.25 0 1,0 4.5,0a2.25,2.25 0 1,0 -4.5,0M116.6,326.7a2.25,2.25 0 1,0 4.5,0a2.25,2.25 0 1,0 -4.5,0M116.9,296.0a2.25,2.25 0 1,0 4.5,0a2.25,2.25 0 1,0 -4.5,0M117.2,310.5a2.25,2.25 0 1,0 4.5,0a2.25,2.25 0 1,0 -4.5,0M117.4,297.1a2.25,2.25 0 1,0 4.5,0a2.25,2.25 0 1,0 -4.5,0M117.7,321.3a2.25,2.25 0 1,0 4.5,0a2.25,2.25 0 1,0 -4.5,0M117.9,303.6a2.25,2.25 0 1,0 4.5,0a2.25,2.25 0 1,0 -4.5,0M118.2,305.0a2.25,2.25 0 1,0 4.5,0a2.25,2.25 0 1,0 -4.5,0M118.5,299.5a2.25,2.25 0 1,0 4.5,0a2.25,2.25 0 1,0 -4.5,0M118.7,305.8a2.25,2.25 0 1,0 4.5,0a2.25,2.25 0 1,0 -4.5,0M119.0,309.6a2.25,2.25 0 1,0 4.5,0a2.25,2.25 0 1,0 -4.5,0M119.2,305.4a2.25,2.25 0 1,0 4.5,0a2.25,2.25 0 1,0 -4.5,0M119.5,313.6a2.25,2.25 0 1,0 4.5,0a2.25,2.25 0 1,0 -4.5,0M119.7,316.9a2.25,2.25 0 1,0 4.5,0a2.25,2.25 0 1,0 -4.5,0M120.0,316.9a2.25,2.25 0 1,0 4.5,0a2.25,2.25 0 1,0 -4.5,0M120.3,303.3a2.25,2.25 0 1,0 4.5,0a2.25,2.25 0 1,0 -4.5,0M120.5,291.6a2.25,2.25 0 1,0 4.5,0a2.25,2.25 0 1,0 -4.5,0M120.8,314.2a2.25,2.25 0 1,0 4.5,0a2.25,2.25 0 1,0 -4.5,0M121.0,307.7a2.25,2.25 0 1,0 4.5,0a2.25,2.25 0 1,0 -4.5,0M121.3,296.8a2.25,2.25 0 1,0 4.5,0a2.25,2.25 0 1,0 -4.5,0M121.6,326.7a2.25,2.25 0 1,0 4.5,0a2.25,2.25 0 1,0 -4.5,0M121.8,309.9a2.25,2.25 0 1,0 4.5,0a2.25,2.25 0 1,0 -4.5,0M122.1,307.4a2.25,2.25 0 1,0 4.5,0a2.25,2.25 0 1,0 -4.5,0M122.3,309.8a2.25,2.25 0 1,0 4.5,0a2.25,2.25 0 1,0 -4.5,0M122.6,306.2a2.25,2.25 0 1,0 4.5,0a2.25,2.25 0 1,0 -4.5,0M122.9,313.7a2.25,2.25 0 1,0 4.5,0a2.25,2.25 0 1,0 -4.5,0M123.1,305.4a2.25,2.25 0 1,0 4.5,0a2.25,2.25 0 1,0 -4.5,0M123.4,321.3a2.25,2.25 0 1,0 4.5,0a2.25,2.25 0 1,0 -4.5,0M123.6,312.8a2.25,2.25 0 1,0 4.5,0a2.25,2.25 0 1,0 -4.5,0M123.9,304.2a2.25,2.25 0 1,0 4.5,0a2.25,2.25 0 1,0 -4.5,0M124.2,316.9a2.25,2.25 0 1,0 4.5,0a2.25,2.25 0 1,0 -4.5,0M124.4,313.9a2.25,2.25 0 1,0 4.5,0a2.25,2.25 0 1,0 -4.5,0M124.7,302.6a2.25,2.25 0 1,0 4.5,0a2.25,2.25 0 1,0 -4.5,0M124.9,326.7a2.25,2.25 0 1,0 4.5,0a2.25,2.25 0 1,0 -4.5,0M125.2,308.1a2.25,2.25 0 1,0 4.5,0a2.25,2.25 0 1,0 -4.5,0M125.5,306.7a2.25,2.25 0 1,0 4.5,0a2.25,2.25 0 1,0 -4.5,0M125.7,311.5a2.25,2.25 0 1,0 4.5,0a2.25,2.25 0 1,0 -4.5,0M126.0,321.3a2.25,2.25 0 1,0 4.5,0a2.25,2.25 0 1,0 -4.5,0M126.2,321.3a2.25,2.25 0 1,0 4.5,0a2.25,2.25 0 1,0 -4.5,0M126.5,333.3a2.25,2.25 0 1,0 4.5,0a2.25,2.25 0 1,0 -4.5,0M126.7,321.3a2.25,2.25 0 1,0 4.5,0a2.25,2.25 0 1,0 -4.5,0M127.0,326.7a2.25,2.25 0 1,0 4.5,0a2.25,2.25 0 1,0 -4.5,0M127.3,309.2a2.25,2.25 0 1,0 4.5,0a2.25,2.25 0 1,0 -4.5,0M127.5,316.9a2.25,2.25 0 1,0 4.5,0a2.25,2.25 0 1,0 -4.5,0M127.8,308.0a2.25,2.25 0 1,0 4.5,0a2.25,2.25 0 1,0 -4.5,0M128.0,316.9a2.25,2.25 0 1,0 4.5,0a2.25,2.25 0 1,0 -4.5,0M128.3,316.9a2.25,2.25 0 1,0 4.5,0a2.25,2.25 0 1,0 -4.5,0M128.6,316.9a2.25,2.25 0 1,0 4.5,0a2.25,2.25 0 1,0 -4.5,0M128.8,333.3a2.25,2.25 0 1,0 4.5,0a2.25,2.25 0 1,0 -4.5,0M129.1,307.9a2.25,2.25 0 1,0 4.5,0a2.25,2.25 0 1,0 -4.5,0M129.3,314.0a2.25,2.25 0 1,0 4.5,0a2.25,2.25 0 1,0 -4.5,0M129.6,326.7a2.25,2.25 0 1,0 4.5,0a2.25,2.25 0 1,0 -4.5,0M129.9,306.0a2.25,2.25 0 1,0 4.5,0a2.25,2.25 0 1,0 -4.5,0M130.1,333.3a2.25,2.25 0 1,0 4.5,0a2.25,2.25 0 1,0 -4.5,0M130.4,308.4a2.25,2.25 0 1,0 4.5,0a2.25,2.25 0 1,0 -4.5,0M130.6,309.0a2.25,2.25 0 1,0 4.5,0a2.25,2.25 0 1,0 -4.5,0M130.9,326.7a2.25,2.25 0 1,0 4.5,0a2.25,2.25 0 1,0 -4.5,0M131.2,316.9a2.25,2.25 0 1,0 4.5,0a2.25,2.25 0 1,0 -4.5,0M131.4,321.3a2.25,2.25 0 1,0 4.5,0a2.25,2.25 0 1,0 -4.5,0M131.7,326.7a2.25,2.25 0 1,0 4.5,0a2.25,2.25 0 1,0 -4.5,0M131.9,310.9a2.25,2.25 0 1,0 4.5,0a2.25,2.25 0 1,0 -4.5,0M132.2,310.0a2.25,2.25 0 1,0 4.5,0a2.25,2.25 0 1,0 -4.5,0M132.4,321.3a2.25,2.25 0 1,0 4.5,0a2.25,2.25 0 1,0 -4.5,0M132.7,321.3a2.25,2.25 0 1,0 4.5,0a2.25,2.25 0 1,0 -4.5,0M133.0,321.3a2.25,2.25 0 1,0 4.5,0a2.25,2.25 0 1,0 -4.5,0M133.2,316.9a2.25,2.25 0 1,0 4.5,0a2.25,2.25 0 1,0 -4.5,0M133.5,315.4a2.25,2.25 0 1,0 4.5,0a2.25,2.25 0 1,0 -4.5,0M133.7,321.3a2.25,2.25 0 1,0 4.5,0a2.25,2.25 0 1,0 -4.5,0M134.0,321.3a2.25,2.25 0 1,0 4.5,0a2.25,2.25 0 1,0 -4.5,0M134.3,316.9a2.25,2.25 0 1,0 4.5,0a2.25,2.25 0 1,0 -4.5,0M134.5,321.3a2.25,2.25 0 1,0 4.5,0a2.25,2.25 0 1,0 -4.5,0M134.8,305.8a2.25,2.25 0 1,0 4.5,0a2.25,2.25 0 1,0 -4.5,0M135.0,321.3a2.25,2.25 0 1,0 4.5,0a2.25,2.25 0 1,0 -4.5,0M135.3,310.2a2.25,2.25 0 1,0 4.5,0a2.25,2.25 0 1,0 -4.5,0M135.6,321.3a2.25,2.25 0 1,0 4.5,0a2.25,2.25 0 1,0 -4.5,0M135.8,316.9a2.25,2.25 0 1,0 4.5,0a2.25,2.25 0 1,0 -4.5,0M136.1,316.9a2.25,2.25 0 1,0 4.5,0a2.25,2.25 0 1,0 -4.5,0M136.3,326.7a2.25,2.25 0 1,0 4.5,0a2.25,2.25 0 1,0 -4.5,0M136.6,326.7a2.25,2.25 0 1,0 4.5,0a2.25,2.25 0 1,0 -4.5,0M136.9,333.3a2.25,2.25 0 1,0 4.5,0a2.25,2.25 0 1,0 -4.5,0M137.4,321.3a2.25,2.25 0 1,0 4.5,0a2.25,2.25 0 1,0 -4.5,0M137.6,321.3a2.25,2.25 0 1,0 4.5,0a2.25,2.25 0 1,0 -4.5,0M137.9,326.7a2.25,2.25 0 1,0 4.5,0a2.25,2.25 0 1,0 -4.5,0M138.2,316.9a2.25,2.25 0 1,0 4.5,0a2.25,2.25 0 1,0 -4.5,0M138.4,316.9a2.25,2.25 0 1,0 4.5,0a2.25,2.25 0 1,0 -4.5,0M138.7,313.6a2.25,2.25 0 1,0 4.5,0a2.25,2.25 0 1,0 -4.5,0M138.9,333.3a2.25,2.25 0 1,0 4.5,0a2.25,2.25 0 1,0 -4.5,0M139.2,313.6a2.25,2.25 0 1,0 4.5,0a2.25,2.25 0 1,0 -4.5,0M139.4,333.3a2.25,2.25 0 1,0 4.5,0a2.25,2.25 0 1,0 -4.5,0M139.7,326.7a2.25,2.25 0 1,0 4.5,0a2.25,2.25 0 1,0 -4.5,0M140.2,315.1a2.25,2.25 0 1,0 4.5,0a2.25,2.25 0 1,0 -4.5,0M140.7,321.3a2.25,2.25 0 1,0 4.5,0a2.25,2.25 0 1,0 -4.5,0M141.5,316.9a2.25,2.25 0 1,0 4.5,0a2.25,2.25 0 1,0 -4.5,0M141.8,312.8a2.25,2.25 0 1,0 4.5,0a2.25,2.25 0 1,0 -4.5,0M142.0,333.3a2.25,2.25 0 1,0 4.5,0a2.25,2.25 0 1,0 -4.5,0M142.3,321.3a2.25,2.25 0 1,0 4.5,0a2.25,2.25 0 1,0 -4.5,0M142.6,333.3a2.25,2.25 0 1,0 4.5,0a2.25,2.25 0 1,0 -4.5,0M143.1,321.3a2.25,2.25 0 1,0 4.5,0a2.25,2.25 0 1,0 -4.5,0M143.3,326.7a2.25,2.25 0 1,0 4.5,0a2.25,2.25 0 1,0 -4.5,0M143.6,316.9a2.25,2.25 0 1,0 4.5,0a2.25,2.25 0 1,0 -4.5,0M143.9,321.3a2.25,2.25 0 1,0 4.5,0a2.25,2.25 0 1,0 -4.5,0M144.1,333.3a2.25,2.25 0 1,0 4.5,0a2.25,2.25 0 1,0 -4.5,0M144.6,333.3a2.25,2.25 0 1,0 4.5,0a2.25,2.25 0 1,0 -4.5,0M144.9,333.3a2.25,2.25 0 1,0 4.5,0a2.25,2.25 0 1,0 -4.5,0M145.2,333.3a2.25,2.25 0 1,0 4.5,0a2.25,2.25 0 1,0 -4.5,0M145.4,326.7a2.25,2.25 0 1,0 4.5,0a2.25,2.25 0 1,0 -4.5,0M145.9,326.7a2.25,2.25 0 1,0 4.5,0a2.25,2.25 0 1,0 -4.5,0M146.2,326.7a2.25,2.25 0 1,0 4.5,0a2.25,2.25 0 1,0 -4.5,0M146.4,326.7a2.25,2.25 0 1,0 4.5,0a2.25,2.25 0 1,0 -4.5,0M147.0,326.7a2.25,2.25 0 1,0 4.5,0a2.25,2.25 0 1,0 -4.5,0M147.2,333.3a2.25,2.25 0 1,0 4.5,0a2.25,2.25 0 1,0 -4.5,0M147.5,333.3a2.25,2.25 0 1,0 4.5,0a2.25,2.25 0 1,0 -4.5,0M147.7,333.3a2.25,2.25 0 1,0 4.5,0a2.25,2.25 0 1,0 -4.5,0M148.0,333.3a2.25,2.25 0 1,0 4.5,0a2.25,2.25 0 1,0 -4.5,0M148.3,316.9a2.25,2.25 0 1,0 4.5,0a2.25,2.25 0 1,0 -4.5,0M148.5,326.7a2.25,2.25 0 1,0 4.5,0a2.25,2.25 0 1,0 -4.5,0M148.8,326.7a2.25,2.25 0 1,0 4.5,0a2.25,2.25 0 1,0 -4.5,0M149.0,333.3a2.25,2.25 0 1,0 4.5,0a2.25,2.25 0 1,0 -4.5,0M149.6,333.3a2.25,2.25 0 1,0 4.5,0a2.25,2.25 0 1,0 -4.5,0M149.8,326.7a2.25,2.25 0 1,0 4.5,0a2.25,2.25 0 1,0 -4.5,0M150.1,326.7a2.25,2.25 0 1,0 4.5,0a2.25,2.25 0 1,0 -4.5,0M150.3,333.3a2.25,2.25 0 1,0 4.5,0a2.25,2.25 0 1,0 -4.5,0M150.6,333.3a2.25,2.25 0 1,0 4.5,0a2.25,2.25 0 1,0 -4.5,0M150.9,333.3a2.25,2.25 0 1,0 4.5,0a2.25,2.25 0 1,0 -4.5,0M151.1,333.3a2.25,2.25 0 1,0 4.5,0a2.25,2.25 0 1,0 -4.5,0M151.4,333.3a2.25,2.25 0 1,0 4.5,0a2.25,2.25 0 1,0 -4.5,0M151.6,321.3a2.25,2.25 0 1,0 4.5,0a2.25,2.25 0 1,0 -4.5,0M151.9,326.7a2.25,2.25 0 1,0 4.5,0a2.25,2.25 0 1,0 -4.5,0M152.1,326.7a2.25,2.25 0 1,0 4.5,0a2.25,2.25 0 1,0 -4.5,0M152.4,333.3a2.25,2.25 0 1,0 4.5,0a2.25,2.25 0 1,0 -4.5,0M152.7,333.3a2.25,2.25 0 1,0 4.5,0a2.25,2.25 0 1,0 -4.5,0M152.9,326.7a2.25,2.25 0 1,0 4.5,0a2.25,2.25 0 1,0 -4.5,0M153.2,316.9a2.25,2.25 0 1,0 4.5,0a2.25,2.25 0 1,0 -4.5,0M153.4,321.3a2.25,2.25 0 1,0 4.5,0a2.25,2.25 0 1,0 -4.5,0M153.7,326.7a2.25,2.25 0 1,0 4.5,0a2.25,2.25 0 1,0 -4.5,0M154.2,333.3a2.25,2.25 0 1,0 4.5,0a2.25,2.25 0 1,0 -4.5,0M154.5,326.7a2.25,2.25 0 1,0 4.5,0a2.25,2.25 0 1,0 -4.5,0M155.0,333.3a2.25,2.25 0 1,0 4.5,0a2.25,2.25 0 1,0 -4.5,0M155.3,326.7a2.25,2.25 0 1,0 4.5,0a2.25,2.25 0 1,0 -4.5,0M155.5,326.7a2.25,2.25 0 1,0 4.5,0a2.25,2.25 0 1,0 -4.5,0M155.8,326.7a2.25,2.25 0 1,0 4.5,0a2.25,2.25 0 1,0 -4.5,0M156.0,333.3a2.25,2.25 0 1,0 4.5,0a2.25,2.25 0 1,0 -4.5,0M156.3,321.3a2.25,2.25 0 1,0 4.5,0a2.25,2.25 0 1,0 -4.5,0M156.6,321.3a2.25,2.25 0 1,0 4.5,0a2.25,2.25 0 1,0 -4.5,0M157.3,326.7a2.25,2.25 0 1,0 4.5,0a2.25,2.25 0 1,0 -4.5,0M157.6,326.7a2.25,2.25 0 1,0 4.5,0a2.25,2.25 0 1,0 -4.5,0M157.9,321.3a2.25,2.25 0 1,0 4.5,0a2.25,2.25 0 1,0 -4.5,0M158.1,333.3a2.25,2.25 0 1,0 4.5,0a2.25,2.25 0 1,0 -4.5,0M158.4,326.7a2.25,2.25 0 1,0 4.5,0a2.25,2.25 0 1,0 -4.5,0M158.9,321.3a2.25,2.25 0 1,0 4.5,0a2.25,2.25 0 1,0 -4.5,0M159.1,321.3a2.25,2.25 0 1,0 4.5,0a2.25,2.25 0 1,0 -4.5,0M160.4,333.3a2.25,2.25 0 1,0 4.5,0a2.25,2.25 0 1,0 -4.5,0M161.2,326.7a2.25,2.25 0 1,0 4.5,0a2.25,2.25 0 1,0 -4.5,0M161.5,326.7a2.25,2.25 0 1,0 4.5,0a2.25,2.25 0 1,0 -4.5,0M161.7,326.7a2.25,2.25 0 1,0 4.5,0a2.25,2.25 0 1,0 -4.5,0M162.0,321.3a2.25,2.25 0 1,0 4.5,0a2.25,2.25 0 1,0 -4.5,0M162.3,326.7a2.25,2.25 0 1,0 4.5,0a2.25,2.25 0 1,0 -4.5,0M162.8,326.7a2.25,2.25 0 1,0 4.5,0a2.25,2.25 0 1,0 -4.5,0M163.3,333.3a2.25,2.25 0 1,0 4.5,0a2.25,2.25 0 1,0 -4.5,0M163.6,333.3a2.25,2.25 0 1,0 4.5,0a2.25,2.25 0 1,0 -4.5,0M164.3,333.3a2.25,2.25 0 1,0 4.5,0a2.25,2.25 0 1,0 -4.5,0M166.4,326.7a2.25,2.25 0 1,0 4.5,0a2.25,2.25 0 1,0 -4.5,0M166.7,333.3a2.25,2.25 0 1,0 4.5,0a2.25,2.25 0 1,0 -4.5,0M166.9,333.3a2.25,2.25 0 1,0 4.5,0a2.25,2.25 0 1,0 -4.5,0M167.2,326.7a2.25,2.25 0 1,0 4.5,0a2.25,2.25 0 1,0 -4.5,0M167.4,326.7a2.25,2.25 0 1,0 4.5,0a2.25,2.25 0 1,0 -4.5,0M168.2,333.3a2.25,2.25 0 1,0 4.5,0a2.25,2.25 0 1,0 -4.5,0M168.5,333.3a2.25,2.25 0 1,0 4.5,0a2.25,2.25 0 1,0 -4.5,0M169.0,333.3a2.25,2.25 0 1,0 4.5,0a2.25,2.25 0 1,0 -4.5,0M170.0,326.7a2.25,2.25 0 1,0 4.5,0a2.25,2.25 0 1,0 -4.5,0M170.3,333.3a2.25,2.25 0 1,0 4.5,0a2.25,2.25 0 1,0 -4.5,0M171.8,326.7a2.25,2.25 0 1,0 4.5,0a2.25,2.25 0 1,0 -4.5,0M172.6,333.3a2.25,2.25 0 1,0 4.5,0a2.25,2.25 0 1,0 -4.5,0M173.7,333.3a2.25,2.25 0 1,0 4.5,0a2.25,2.25 0 1,0 -4.5,0M173.9,333.3a2.25,2.25 0 1,0 4.5,0a2.25,2.25 0 1,0 -4.5,0M175.0,333.3a2.25,2.25 0 1,0 4.5,0a2.25,2.25 0 1,0 -4.5,0M177.8,333.3a2.25,2.25 0 1,0 4.5,0a2.25,2.25 0 1,0 -4.5,0M178.1,333.3a2.25,2.25 0 1,0 4.5,0a2.25,2.25 0 1,0 -4.5,0M179.1,326.7a2.25,2.25 0 1,0 4.5,0a2.25,2.25 0 1,0 -4.5,0M181.2,333.3a2.25,2.25 0 1,0 4.5,0a2.25,2.25 0 1,0 -4.5,0M182.0,333.3a2.25,2.25 0 1,0 4.5,0a2.25,2.25 0 1,0 -4.5,0M183.0,333.3a2.25,2.25 0 1,0 4.5,0a2.25,2.25 0 1,0 -4.5,0M183.3,333.3a2.25,2.25 0 1,0 4.5,0a2.25,2.25 0 1,0 -4.5,0M183.5,326.7a2.25,2.25 0 1,0 4.5,0a2.25,2.25 0 1,0 -4.5,0M184.8,326.7a2.25,2.25 0 1,0 4.5,0a2.25,2.25 0 1,0 -4.5,0M185.3,333.3a2.25,2.25 0 1,0 4.5,0a2.25,2.25 0 1,0 -4.5,0M186.1,326.7a2.25,2.25 0 1,0 4.5,0a2.25,2.25 0 1,0 -4.5,0M186.9,333.3a2.25,2.25 0 1,0 4.5,0a2.25,2.25 0 1,0 -4.5,0M187.1,333.3a2.25,2.25 0 1,0 4.5,0a2.25,2.25 0 1,0 -4.5,0M187.9,333.3a2.25,2.25 0 1,0 4.5,0a2.25,2.25 0 1,0 -4.5,0M188.4,333.3a2.25,2.25 0 1,0 4.5,0a2.25,2.25 0 1,0 -4.5,0M190.0,326.7a2.25,2.25 0 1,0 4.5,0a2.25,2.25 0 1,0 -4.5,0M193.4,333.3a2.25,2.25 0 1,0 4.5,0a2.25,2.25 0 1,0 -4.5,0M194.1,333.3a2.25,2.25 0 1,0 4.5,0a2.25,2.25 0 1,0 -4.5,0M194.9,333.3a2.25,2.25 0 1,0 4.5,0a2.25,2.25 0 1,0 -4.5,0M195.2,326.7a2.25,2.25 0 1,0 4.5,0a2.25,2.25 0 1,0 -4.5,0M197.2,333.3a2.25,2.25 0 1,0 4.5,0a2.25,2.25 0 1,0 -4.5,0M198.5,333.3a2.25,2.25 0 1,0 4.5,0a2.25,2.25 0 1,0 -4.5,0M200.9,333.3a2.25,2.25 0 1,0 4.5,0a2.25,2.25 0 1,0 -4.5,0M201.1,333.3a2.25,2.25 0 1,0 4.5,0a2.25,2.25 0 1,0 -4.5,0M202.4,326.7a2.25,2.25 0 1,0 4.5,0a2.25,2.25 0 1,0 -4.5,0M202.7,333.3a2.25,2.25 0 1,0 4.5,0a2.25,2.25 0 1,0 -4.5,0M204.2,333.3a2.25,2.25 0 1,0 4.5,0a2.25,2.25 0 1,0 -4.5,0M205.5,333.3a2.25,2.25 0 1,0 4.5,0a2.25,2.25 0 1,0 -4.5,0M207.9,333.3a2.25,2.25 0 1,0 4.5,0a2.25,2.25 0 1,0 -4.5,0" fill="none" stroke="#a3a3a3" stroke-width="0.85"/>
<path d="M35.2,203.8a2.25,2.25 0 1,0 4.5,0a2.25,2.25 0 1,0 -4.5,0M35.5,202.0a2.25,2.25 0 1,0 4.5,0a2.25,2.25 0 1,0 -4.5,0M35.8,201.1a2.25,2.25 0 1,0 4.5,0a2.25,2.25 0 1,0 -4.5,0M36.0,200.1a2.25,2.25 0 1,0 4.5,0a2.25,2.25 0 1,0 -4.5,0M36.3,199.4a2.25,2.25 0 1,0 4.5,0a2.25,2.25 0 1,0 -4.5,0M36.5,204.7a2.25,2.25 0 1,0 4.5,0a2.25,2.25 0 1,0 -4.5,0M36.8,202.3a2.25,2.25 0 1,0 4.5,0a2.25,2.25 0 1,0 -4.5,0M37.1,202.5a2.25,2.25 0 1,0 4.5,0a2.25,2.25 0 1,0 -4.5,0M37.3,206.0a2.25,2.25 0 1,0 4.5,0a2.25,2.25 0 1,0 -4.5,0M37.6,207.8a2.25,2.25 0 1,0 4.5,0a2.25,2.25 0 1,0 -4.5,0M37.8,203.1a2.25,2.25 0 1,0 4.5,0a2.25,2.25 0 1,0 -4.5,0M38.1,202.6a2.25,2.25 0 1,0 4.5,0a2.25,2.25 0 1,0 -4.5,0M38.4,204.3a2.25,2.25 0 1,0 4.5,0a2.25,2.25 0 1,0 -4.5,0M38.6,205.7a2.25,2.25 0 1,0 4.5,0a2.25,2.25 0 1,0 -4.5,0M38.9,205.1a2.25,2.25 0 1,0 4.5,0a2.25,2.25 0 1,0 -4.5,0M39.1,204.4a2.25,2.25 0 1,0 4.5,0a2.25,2.25 0 1,0 -4.5,0M39.4,209.0a2.25,2.25 0 1,0 4.5,0a2.25,2.25 0 1,0 -4.5,0M39.7,205.1a2.25,2.25 0 1,0 4.5,0a2.25,2.25 0 1,0 -4.5,0M39.9,205.7a2.25,2.25 0 1,0 4.5,0a2.25,2.25 0 1,0 -4.5,0M40.2,203.5a2.25,2.25 0 1,0 4.5,0a2.25,2.25 0 1,0 -4.5,0M40.4,210.6a2.25,2.25 0 1,0 4.5,0a2.25,2.25 0 1,0 -4.5,0M40.7,209.7a2.25,2.25 0 1,0 4.5,0a2.25,2.25 0 1,0 -4.5,0M41.0,208.5a2.25,2.25 0 1,0 4.5,0a2.25,2.25 0 1,0 -4.5,0M41.2,207.9a2.25,2.25 0 1,0 4.5,0a2.25,2.25 0 1,0 -4.5,0M41.5,209.7a2.25,2.25 0 1,0 4.5,0a2.25,2.25 0 1,0 -4.5,0M41.7,207.0a2.25,2.25 0 1,0 4.5,0a2.25,2.25 0 1,0 -4.5,0M42.0,207.3a2.25,2.25 0 1,0 4.5,0a2.25,2.25 0 1,0 -4.5,0M42.2,213.0a2.25,2.25 0 1,0 4.5,0a2.25,2.25 0 1,0 -4.5,0M42.5,208.2a2.25,2.25 0 1,0 4.5,0a2.25,2.25 0 1,0 -4.5,0M42.8,208.6a2.25,2.25 0 1,0 4.5,0a2.25,2.25 0 1,0 -4.5,0M43.0,209.9a2.25,2.25 0 1,0 4.5,0a2.25,2.25 0 1,0 -4.5,0M43.3,209.3a2.25,2.25 0 1,0 4.5,0a2.25,2.25 0 1,0 -4.5,0M43.5,212.3a2.25,2.25 0 1,0 4.5,0a2.25,2.25 0 1,0 -4.5,0M43.8,210.7a2.25,2.25 0 1,0 4.5,0a2.25,2.25 0 1,0 -4.5,0M44.1,209.3a2.25,2.25 0 1,0 4.5,0a2.25,2.25 0 1,0 -4.5,0M44.3,212.0a2.25,2.25 0 1,0 4.5,0a2.25,2.25 0 1,0 -4.5,0M44.6,209.1a2.25,2.25 0 1,0 4.5,0a2.25,2.25 0 1,0 -4.5,0M44.8,211.9a2.25,2.25 0 1,0 4.5,0a2.25,2.25 0 1,0 -4.5,0M45.1,218.6a2.25,2.25 0 1,0 4.5,0a2.25,2.25 0 1,0 -4.5,0M45.4,212.1a2.25,2.25 0 1,0 4.5,0a2.25,2.25 0 1,0 -4.5,0M45.6,212.8a2.25,2.25 0 1,0 4.5,0a2.25,2.25 0 1,0 -4.5,0M45.9,212.2a2.25,2.25 0 1,0 4.5,0a2.25,2.25 0 1,0 -4.5,0M46.1,212.2a2.25,2.25 0 1,0 4.5,0a2.25,2.25 0 1,0 -4.5,0M46.4,216.1a2.25,2.25 0 1,0 4.5,0a2.25,2.25 0 1,0 -4.5,0M46.7,215.9a2.25,2.25 0 1,0 4.5,0a2.25,2.25 0 1,0 -4.5,0M46.9,214.0a2.25,2.25 0 1,0 4.5,0a2.25,2.25 0 1,0 -4.5,0M47.2,213.4a2.25,2.25 0 1,0 4.5,0a2.25,2.25 0 1,0 -4.5,0M47.4,215.4a2.25,2.25 0 1,0 4.5,0a2.25,2.25 0 1,0 -4.5,0M47.7,219.4a2.25,2.25 0 1,0 4.5,0a2.25,2.25 0 1,0 -4.5,0M48.0,217.0a2.25,2.25 0 1,0 4.5,0a2.25,2.25 0 1,0 -4.5,0M48.2,220.0a2.25,2.25 0 1,0 4.5,0a2.25,2.25 0 1,0 -4.5,0M48.5,212.8a2.25,2.25 0 1,0 4.5,0a2.25,2.25 0 1,0 -4.5,0M48.7,218.8a2.25,2.25 0 1,0 4.5,0a2.25,2.25 0 1,0 -4.5,0M49.0,215.5a2.25,2.25 0 1,0 4.5,0a2.25,2.25 0 1,0 -4.5,0M49.2,216.8a2.25,2.25 0 1,0 4.5,0a2.25,2.25 0 1,0 -4.5,0M49.5,221.3a2.25,2.25 0 1,0 4.5,0a2.25,2.25 0 1,0 -4.5,0M49.8,222.5a2.25,2.25 0 1,0 4.5,0a2.25,2.25 0 1,0 -4.5,0M50.0,216.3a2.25,2.25 0 1,0 4.5,0a2.25,2.25 0 1,0 -4.5,0M50.3,219.4a2.25,2.25 0 1,0 4.5,0a2.25,2.25 0 1,0 -4.5,0M50.5,223.4a2.25,2.25 0 1,0 4.5,0a2.25,2.25 0 1,0 -4.5,0M50.8,218.5a2.25,2.25 0 1,0 4.5,0a2.25,2.25 0 1,0 -4.5,0M51.1,221.8a2.25,2.25 0 1,0 4.5,0a2.25,2.25 0 1,0 -4.5,0M51.3,222.1a2.25,2.25 0 1,0 4.5,0a2.25,2.25 0 1,0 -4.5,0M51.6,219.6a2.25,2.25 0 1,0 4.5,0a2.25,2.25 0 1,0 -4.5,0M51.8,219.2a2.25,2.25 0 1,0 4.5,0a2.25,2.25 0 1,0 -4.5,0M52.1,223.3a2.25,2.25 0 1,0 4.5,0a2.25,2.25 0 1,0 -4.5,0M52.4,216.5a2.25,2.25 0 1,0 4.5,0a2.25,2.25 0 1,0 -4.5,0M52.6,221.2a2.25,2.25 0 1,0 4.5,0a2.25,2.25 0 1,0 -4.5,0M52.9,217.6a2.25,2.25 0 1,0 4.5,0a2.25,2.25 0 1,0 -4.5,0M53.1,222.1a2.25,2.25 0 1,0 4.5,0a2.25,2.25 0 1,0 -4.5,0M53.4,220.5a2.25,2.25 0 1,0 4.5,0a2.25,2.25 0 1,0 -4.5,0M53.7,222.2a2.25,2.25 0 1,0 4.5,0a2.25,2.25 0 1,0 -4.5,0M53.9,218.1a2.25,2.25 0 1,0 4.5,0a2.25,2.25 0 1,0 -4.5,0M54.2,226.7a2.25,2.25 0 1,0 4.5,0a2.25,2.25 0 1,0 -4.5,0M54.4,223.3a2.25,2.25 0 1,0 4.5,0a2.25,2.25 0 1,0 -4.5,0M54.7,219.3a2.25,2.25 0 1,0 4.5,0a2.25,2.25 0 1,0 -4.5,0M54.9,221.6a2.25,2.25 0 1,0 4.5,0a2.25,2.25 0 1,0 -4.5,0M55.2,218.5a2.25,2.25 0 1,0 4.5,0a2.25,2.25 0 1,0 -4.5,0M55.5,219.7a2.25,2.25 0 1,0 4.5,0a2.25,2.25 0 1,0 -4.5,0M55.7,221.9a2.25,2.25 0 1,0 4.5,0a2.25,2.25 0 1,0 -4.5,0M56.0,225.6a2.25,2.25 0 1,0 4.5,0a2.25,2.25 0 1,0 -4.5,0M56.2,219.3a2.25,2.25 0 1,0 4.5,0a2.25,2.25 0 1,0 -4.5,0M56.5,227.1a2.25,2.25 0 1,0 4.5,0a2.25,2.25 0 1,0 -4.5,0M56.8,222.6a2.25,2.25 0 1,0 4.5,0a2.25,2.25 0 1,0 -4.5,0M57.0,221.3a2.25,2.25 0 1,0 4.5,0a2.25,2.25 0 1,0 -4.5,0M57.3,223.8a2.25,2.25 0 1,0 4.5,0a2.25,2.25 0 1,0 -4.5,0M57.5,224.9a2.25,2.25 0 1,0 4.5,0a2.25,2.25 0 1,0 -4.5,0M57.8,224.9a2.25,2.25 0 1,0 4.5,0a2.25,2.25 0 1,0 -4.5,0M58.1,222.5a2.25,2.25 0 1,0 4.5,0a2.25,2.25 0 1,0 -4.5,0M58.3,225.5a2.25,2.25 0 1,0 4.5,0a2.25,2.25 0 1,0 -4.5,0M58.6,226.1a2.25,2.25 0 1,0 4.5,0a2.25,2.25 0 1,0 -4.5,0M58.8,227.3a2.25,2.25 0 1,0 4.5,0a2.25,2.25 0 1,0 -4.5,0M59.1,227.7a2.25,2.25 0 1,0 4.5,0a2.25,2.25 0 1,0 -4.5,0M59.4,227.9a2.25,2.25 0 1,0 4.5,0a2.25,2.25 0 1,0 -4.5,0M59.6,230.2a2.25,2.25 0 1,0 4.5,0a2.25,2.25 0 1,0 -4.5,0M59.9,227.6a2.25,2.25 0 1,0 4.5,0a2.25,2.25 0 1,0 -4.5,0M60.1,224.7a2.25,2.25 0 1,0 4.5,0a2.25,2.25 0 1,0 -4.5,0M60.4,225.2a2.25,2.25 0 1,0 4.5,0a2.25,2.25 0 1,0 -4.5,0M60.7,225.9a2.25,2.25 0 1,0 4.5,0a2.25,2.25 0 1,0 -4.5,0M60.9,228.9a2.25,2.25 0 1,0 4.5,0a2.25,2.25 0 1,0 -4.5,0M61.2,229.0a2.25,2.25 0 1,0 4.5,0a2.25,2.25 0 1,0 -4.5,0M61.4,225.7a2.25,2.25 0 1,0 4.5,0a2.25,2.25 0 1,0 -4.5,0M61.7,231.3a2.25,2.25 0 1,0 4.5,0a2.25,2.25 0 1,0 -4.5,0M61.9,229.4a2.25,2.25 0 1,0 4.5,0a2.25,2.25 0 1,0 -4.5,0M62.2,230.6a2.25,2.25 0 1,0 4.5,0a2.25,2.25 0 1,0 -4.5,0M62.5,231.9a2.25,2.25 0 1,0 4.5,0a2.25,2.25 0 1,0 -4.5,0M62.7,226.6a2.25,2.25 0 1,0 4.5,0a2.25,2.25 0 1,0 -4.5,0M63.0,225.5a2.25,2.25 0 1,0 4.5,0a2.25,2.25 0 1,0 -4.5,0M63.2,231.1a2.25,2.25 0 1,0 4.5,0a2.25,2.25 0 1,0 -4.5,0M63.5,226.2a2.25,2.25 0 1,0 4.5,0a2.25,2.25 0 1,0 -4.5,0M63.8,228.9a2.25,2.25 0 1,0 4.5,0a2.25,2.25 0 1,0 -4.5,0M64.0,227.1a2.25,2.25 0 1,0 4.5,0a2.25,2.25 0 1,0 -4.5,0M64.3,227.1a2.25,2.25 0 1,0 4.5,0a2.25,2.25 0 1,0 -4.5,0M64.5,231.6a2.25,2.25 0 1,0 4.5,0a2.25,2.25 0 1,0 -4.5,0M64.8,227.7a2.25,2.25 0 1,0 4.5,0a2.25,2.25 0 1,0 -4.5,0M65.1,228.8a2.25,2.25 0 1,0 4.5,0a2.25,2.25 0 1,0 -4.5,0M65.3,232.9a2.25,2.25 0 1,0 4.5,0a2.25,2.25 0 1,0 -4.5,0M65.6,231.8a2.25,2.25 0 1,0 4.5,0a2.25,2.25 0 1,0 -4.5,0M65.8,232.5a2.25,2.25 0 1,0 4.5,0a2.25,2.25 0 1,0 -4.5,0M66.1,231.6a2.25,2.25 0 1,0 4.5,0a2.25,2.25 0 1,0 -4.5,0M66.4,232.8a2.25,2.25 0 1,0 4.5,0a2.25,2.25 0 1,0 -4.5,0M66.6,234.1a2.25,2.25 0 1,0 4.5,0a2.25,2.25 0 1,0 -4.5,0M66.9,234.8a2.25,2.25 0 1,0 4.5,0a2.25,2.25 0 1,0 -4.5,0M67.1,233.7a2.25,2.25 0 1,0 4.5,0a2.25,2.25 0 1,0 -4.5,0M67.4,233.0a2.25,2.25 0 1,0 4.5,0a2.25,2.25 0 1,0 -4.5,0M67.7,233.1a2.25,2.25 0 1,0 4.5,0a2.25,2.25 0 1,0 -4.5,0M67.9,233.1a2.25,2.25 0 1,0 4.5,0a2.25,2.25 0 1,0 -4.5,0M68.2,230.2a2.25,2.25 0 1,0 4.5,0a2.25,2.25 0 1,0 -4.5,0M68.4,239.9a2.25,2.25 0 1,0 4.5,0a2.25,2.25 0 1,0 -4.5,0M68.7,230.1a2.25,2.25 0 1,0 4.5,0a2.25,2.25 0 1,0 -4.5,0M68.9,232.7a2.25,2.25 0 1,0 4.5,0a2.25,2.25 0 1,0 -4.5,0M69.2,236.4a2.25,2.25 0 1,0 4.5,0a2.25,2.25 0 1,0 -4.5,0M69.5,231.7a2.25,2.25 0 1,0 4.5,0a2.25,2.25 0 1,0 -4.5,0M69.7,234.5a2.25,2.25 0 1,0 4.5,0a2.25,2.25 0 1,0 -4.5,0M70.0,235.8a2.25,2.25 0 1,0 4.5,0a2.25,2.25 0 1,0 -4.5,0M70.2,232.9a2.25,2.25 0 1,0 4.5,0a2.25,2.25 0 1,0 -4.5,0M70.5,231.0a2.25,2.25 0 1,0 4.5,0a2.25,2.25 0 1,0 -4.5,0M70.8,232.1a2.25,2.25 0 1,0 4.5,0a2.25,2.25 0 1,0 -4.5,0M71.0,234.9a2.25,2.25 0 1,0 4.5,0a2.25,2.25 0 1,0 -4.5,0M71.3,236.6a2.25,2.25 0 1,0 4.5,0a2.25,2.25 0 1,0 -4.5,0M71.5,232.3a2.25,2.25 0 1,0 4.5,0a2.25,2.25 0 1,0 -4.5,0M71.8,235.1a2.25,2.25 0 1,0 4.5,0a2.25,2.25 0 1,0 -4.5,0M72.1,231.7a2.25,2.25 0 1,0 4.5,0a2.25,2.25 0 1,0 -4.5,0M72.3,238.9a2.25,2.25 0 1,0 4.5,0a2.25,2.25 0 1,0 -4.5,0M72.6,238.9a2.25,2.25 0 1,0 4.5,0a2.25,2.25 0 1,0 -4.5,0M72.8,235.6a2.25,2.25 0 1,0 4.5,0a2.25,2.25 0 1,0 -4.5,0M73.1,234.4a2.25,2.25 0 1,0 4.5,0a2.25,2.25 0 1,0 -4.5,0M73.4,237.0a2.25,2.25 0 1,0 4.5,0a2.25,2.25 0 1,0 -4.5,0M73.6,238.6a2.25,2.25 0 1,0 4.5,0a2.25,2.25 0 1,0 -4.5,0M73.9,239.9a2.25,2.25 0 1,0 4.5,0a2.25,2.25 0 1,0 -4.5,0M74.1,234.0a2.25,2.25 0 1,0 4.5,0a2.25,2.25 0 1,0 -4.5,0M74.4,238.9a2.25,2.25 0 1,0 4.5,0a2.25,2.25 0 1,0 -4.5,0M74.6,239.8a2.25,2.25 0 1,0 4.5,0a2.25,2.25 0 1,0 -4.5,0M74.9,234.0a2.25,2.25 0 1,0 4.5,0a2.25,2.25 0 1,0 -4.5,0M75.2,236.1a2.25,2.25 0 1,0 4.5,0a2.25,2.25 0 1,0 -4.5,0M75.4,235.5a2.25,2.25 0 1,0 4.5,0a2.25,2.25 0 1,0 -4.5,0M75.7,236.7a2.25,2.25 0 1,0 4.5,0a2.25,2.25 0 1,0 -4.5,0M75.9,243.6a2.25,2.25 0 1,0 4.5,0a2.25,2.25 0 1,0 -4.5,0M76.2,241.8a2.25,2.25 0 1,0 4.5,0a2.25,2.25 0 1,0 -4.5,0M76.5,239.4a2.25,2.25 0 1,0 4.5,0a2.25,2.25 0 1,0 -4.5,0M76.7,240.9a2.25,2.25 0 1,0 4.5,0a2.25,2.25 0 1,0 -4.5,0M77.0,235.5a2.25,2.25 0 1,0 4.5,0a2.25,2.25 0 1,0 -4.5,0M77.2,236.0a2.25,2.25 0 1,0 4.5,0a2.25,2.25 0 1,0 -4.5,0M77.5,233.1a2.25,2.25 0 1,0 4.5,0a2.25,2.25 0 1,0 -4.5,0M77.8,238.2a2.25,2.25 0 1,0 4.5,0a2.25,2.25 0 1,0 -4.5,0M78.0,241.9a2.25,2.25 0 1,0 4.5,0a2.25,2.25 0 1,0 -4.5,0M78.3,236.4a2.25,2.25 0 1,0 4.5,0a2.25,2.25 0 1,0 -4.5,0M78.5,243.2a2.25,2.25 0 1,0 4.5,0a2.25,2.25 0 1,0 -4.5,0M78.8,243.7a2.25,2.25 0 1,0 4.5,0a2.25,2.25 0 1,0 -4.5,0M79.1,241.6a2.25,2.25 0 1,0 4.5,0a2.25,2.25 0 1,0 -4.5,0M79.3,244.1a2.25,2.25 0 1,0 4.5,0a2.25,2.25 0 1,0 -4.5,0M79.6,243.8a2.25,2.25 0 1,0 4.5,0a2.25,2.25 0 1,0 -4.5,0M79.8,239.4a2.25,2.25 0 1,0 4.5,0a2.25,2.25 0 1,0 -4.5,0M80.1,244.1a2.25,2.25 0 1,0 4.5,0a2.25,2.25 0 1,0 -4.5,0M80.4,237.1a2.25,2.25 0 1,0 4.5,0a2.25,2.25 0 1,0 -4.5,0M80.6,240.3a2.25,2.25 0 1,0 4.5,0a2.25,2.25 0 1,0 -4.5,0M80.9,248.3a2.25,2.25 0 1,0 4.5,0a2.25,2.25 0 1,0 -4.5,0M81.1,239.4a2.25,2.25 0 1,0 4.5,0a2.25,2.25 0 1,0 -4.5,0M81.4,244.3a2.25,2.25 0 1,0 4.5,0a2.25,2.25 0 1,0 -4.5,0M81.6,241.9a2.25,2.25 0 1,0 4.5,0a2.25,2.25 0 1,0 -4.5,0M81.9,240.3a2.25,2.25 0 1,0 4.5,0a2.25,2.25 0 1,0 -4.5,0M82.2,244.4a2.25,2.25 0 1,0 4.5,0a2.25,2.25 0 1,0 -4.5,0M82.4,241.5a2.25,2.25 0 1,0 4.5,0a2.25,2.25 0 1,0 -4.5,0M82.7,243.3a2.25,2.25 0 1,0 4.5,0a2.25,2.25 0 1,0 -4.5,0M82.9,245.2a2.25,2.25 0 1,0 4.5,0a2.25,2.25 0 1,0 -4.5,0M83.2,240.7a2.25,2.25 0 1,0 4.5,0a2.25,2.25 0 1,0 -4.5,0M83.5,242.8a2.25,2.25 0 1,0 4.5,0a2.25,2.25 0 1,0 -4.5,0M83.7,238.8a2.25,2.25 0 1,0 4.5,0a2.25,2.25 0 1,0 -4.5,0M84.0,243.6a2.25,2.25 0 1,0 4.5,0a2.25,2.25 0 1,0 -4.5,0M84.2,242.3a2.25,2.25 0 1,0 4.5,0a2.25,2.25 0 1,0 -4.5,0M84.5,246.7a2.25,2.25 0 1,0 4.5,0a2.25,2.25 0 1,0 -4.5,0M84.8,243.6a2.25,2.25 0 1,0 4.5,0a2.25,2.25 0 1,0 -4.5,0M85.0,245.7a2.25,2.25 0 1,0 4.5,0a2.25,2.25 0 1,0 -4.5,0M85.3,248.2a2.25,2.25 0 1,0 4.5,0a2.25,2.25 0 1,0 -4.5,0M85.5,249.7a2.25,2.25 0 1,0 4.5,0a2.25,2.25 0 1,0 -4.5,0M85.8,246.2a2.25,2.25 0 1,0 4.5,0a2.25,2.25 0 1,0 -4.5,0M86.1,243.8a2.25,2.25 0 1,0 4.5,0a2.25,2.25 0 1,0 -4.5,0M86.3,244.6a2.25,2.25 0 1,0 4.5,0a2.25,2.25 0 1,0 -4.5,0M86.6,246.3a2.25,2.25 0 1,0 4.5,0a2.25,2.25 0 1,0 -4.5,0M86.8,244.8a2.25,2.25 0 1,0 4.5,0a2.25,2.25 0 1,0 -4.5,0M87.1,249.9a2.25,2.25 0 1,0 4.5,0a2.25,2.25 0 1,0 -4.5,0M87.3,242.6a2.25,2.25 0 1,0 4.5,0a2.25,2.25 0 1,0 -4.5,0M87.6,242.4a2.25,2.25 0 1,0 4.5,0a2.25,2.25 0 1,0 -4.5,0M87.9,249.5a2.25,2.25 0 1,0 4.5,0a2.25,2.25 0 1,0 -4.5,0M88.1,245.2a2.25,2.25 0 1,0 4.5,0a2.25,2.25 0 1,0 -4.5,0M88.4,250.2a2.25,2.25 0 1,0 4.5,0a2.25,2.25 0 1,0 -4.5,0M88.6,249.6a2.25,2.25 0 1,0 4.5,0a2.25,2.25 0 1,0 -4.5,0M88.9,252.8a2.25,2.25 0 1,0 4.5,0a2.25,2.25 0 1,0 -4.5,0M89.2,243.9a2.25,2.25 0 1,0 4.5,0a2.25,2.25 0 1,0 -4.5,0M89.4,251.5a2.25,2.25 0 1,0 4.5,0a2.25,2.25 0 1,0 -4.5,0M89.7,253.6a2.25,2.25 0 1,0 4.5,0a2.25,2.25 0 1,0 -4.5,0M89.9,248.5a2.25,2.25 0 1,0 4.5,0a2.25,2.25 0 1,0 -4.5,0M90.2,249.9a2.25,2.25 0 1,0 4.5,0a2.25,2.25 0 1,0 -4.5,0M90.5,241.5a2.25,2.25 0 1,0 4.5,0a2.25,2.25 0 1,0 -4.5,0M90.7,247.2a2.25,2.25 0 1,0 4.5,0a2.25,2.25 0 1,0 -4.5,0M91.0,245.5a2.25,2.25 0 1,0 4.5,0a2.25,2.25 0 1,0 -4.5,0M91.2,244.6a2.25,2.25 0 1,0 4.5,0a2.25,2.25 0 1,0 -4.5,0M91.5,248.2a2.25,2.25 0 1,0 4.5,0a2.25,2.25 0 1,0 -4.5,0M91.8,250.3a2.25,2.25 0 1,0 4.5,0a2.25,2.25 0 1,0 -4.5,0M92.0,252.8a2.25,2.25 0 1,0 4.5,0a2.25,2.25 0 1,0 -4.5,0M92.3,251.3a2.25,2.25 0 1,0 4.5,0a2.25,2.25 0 1,0 -4.5,0M92.5,247.4a2.25,2.25 0 1,0 4.5,0a2.25,2.25 0 1,0 -4.5,0M92.8,249.5a2.25,2.25 0 1,0 4.5,0a2.25,2.25 0 1,0 -4.5,0M93.1,254.9a2.25,2.25 0 1,0 4.5,0a2.25,2.25 0 1,0 -4.5,0M93.3,247.5a2.25,2.25 0 1,0 4.5,0a2.25,2.25 0 1,0 -4.5,0M93.6,249.2a2.25,2.25 0 1,0 4.5,0a2.25,2.25 0 1,0 -4.5,0M93.8,246.1a2.25,2.25 0 1,0 4.5,0a2.25,2.25 0 1,0 -4.5,0M94.1,246.0a2.25,2.25 0 1,0 4.5,0a2.25,2.25 0 1,0 -4.5,0M94.3,253.6a2.25,2.25 0 1,0 4.5,0a2.25,2.25 0 1,0 -4.5,0M94.6,248.1a2.25,2.25 0 1,0 4.5,0a2.25,2.25 0 1,0 -4.5,0M94.9,249.2a2.25,2.25 0 1,0 4.5,0a2.25,2.25 0 1,0 -4.5,0M95.1,248.6a2.25,2.25 0 1,0 4.5,0a2.25,2.25 0 1,0 -4.5,0M95.4,252.7a2.25,2.25 0 1,0 4.5,0a2.25,2.25 0 1,0 -4.5,0M95.6,250.5a2.25,2.25 0 1,0 4.5,0a2.25,2.25 0 1,0 -4.5,0M95.9,249.0a2.25,2.25 0 1,0 4.5,0a2.25,2.25 0 1,0 -4.5,0M96.2,258.0a2.25,2.25 0 1,0 4.5,0a2.25,2.25 0 1,0 -4.5,0M96.4,251.5a2.25,2.25 0 1,0 4.5,0a2.25,2.25 0 1,0 -4.5,0M96.7,256.9a2.25,2.25 0 1,0 4.5,0a2.25,2.25 0 1,0 -4.5,0M96.9,254.5a2.25,2.25 0 1,0 4.5,0a2.25,2.25 0 1,0 -4.5,0M97.2,261.6a2.25,2.25 0 1,0 4.5,0a2.25,2.25 0 1,0 -4.5,0M97.5,249.5a2.25,2.25 0 1,0 4.5,0a2.25,2.25 0 1,0 -4.5,0M97.7,252.7a2.25,2.25 0 1,0 4.5,0a2.25,2.25 0 1,0 -4.5,0M98.0,254.1a2.25,2.25 0 1,0 4.5,0a2.25,2.25 0 1,0 -4.5,0M98.2,248.5a2.25,2.25 0 1,0 4.5,0a2.25,2.25 0 1,0 -4.5,0M98.5,252.5a2.25,2.25 0 1,0 4.5,0a2.25,2.25 0 1,0 -4.5,0M98.8,249.1a2.25,2.25 0 1,0 4.5,0a2.25,2.25 0 1,0 -4.5,0M99.0,251.9a2.25,2.25 0 1,0 4.5,0a2.25,2.25 0 1,0 -4.5,0M99.3,257.1a2.25,2.25 0 1,0 4.5,0a2.25,2.25 0 1,0 -4.5,0M99.5,262.6a2.25,2.25 0 1,0 4.5,0a2.25,2.25 0 1,0 -4.5,0M99.8,260.2a2.25,2.25 0 1,0 4.5,0a2.25,2.25 0 1,0 -4.5,0M100.1,261.3a2.25,2.25 0 1,0 4.5,0a2.25,2.25 0 1,0 -4.5,0M100.3,255.7a2.25,2.25 0 1,0 4.5,0a2.25,2.25 0 1,0 -4.5,0M100.6,254.2a2.25,2.25 0 1,0 4.5,0a2.25,2.25 0 1,0 -4.5,0M100.8,250.6a2.25,2.25 0 1,0 4.5,0a2.25,2.25 0 1,0 -4.5,0M101.1,250.7a2.25,2.25 0 1,0 4.5,0a2.25,2.25 0 1,0 -4.5,0M101.3,258.5a2.25,2.25 0 1,0 4.5,0a2.25,2.25 0 1,0 -4.5,0M101.6,253.9a2.25,2.25 0 1,0 4.5,0a2.25,2.25 0 1,0 -4.5,0M101.9,262.2a2.25,2.25 0 1,0 4.5,0a2.25,2.25 0 1,0 -4.5,0M102.1,253.5a2.25,2.25 0 1,0 4.5,0a2.25,2.25 0 1,0 -4.5,0M102.4,260.3a2.25,2.25 0 1,0 4.5,0a2.25,2.25 0 1,0 -4.5,0M102.6,262.9a2.25,2.25 0 1,0 4.5,0a2.25,2.25 0 1,0 -4.5,0M102.9,261.0a2.25,2.25 0 1,0 4.5,0a2.25,2.25 0 1,0 -4.5,0M103.2,257.8a2.25,2.25 0 1,0 4.5,0a2.25,2.25 0 1,0 -4.5,0M103.4,255.6a2.25,2.25 0 1,0 4.5,0a2.25,2.25 0 1,0 -4.5,0M103.7,256.0a2.25,2.25 0 1,0 4.5,0a2.25,2.25 0 1,0 -4.5,0M103.9,257.2a2.25,2.25 0 1,0 4.5,0a2.25,2.25 0 1,0 -4.5,0M104.2,258.4a2.25,2.25 0 1,0 4.5,0a2.25,2.25 0 1,0 -4.5,0M104.5,255.5a2.25,2.25 0 1,0 4.5,0a2.25,2.25 0 1,0 -4.5,0M104.7,256.3a2.25,2.25 0 1,0 4.5,0a2.25,2.25 0 1,0 -4.5,0M105.0,256.8a2.25,2.25 0 1,0 4.5,0a2.25,2.25 0 1,0 -4.5,0M105.2,257.6a2.25,2.25 0 1,0 4.5,0a2.25,2.25 0 1,0 -4.5,0M105.5,256.5a2.25,2.25 0 1,0 4.5,0a2.25,2.25 0 1,0 -4.5,0M105.8,255.9a2.25,2.25 0 1,0 4.5,0a2.25,2.25 0 1,0 -4.5,0M106.0,256.5a2.25,2.25 0 1,0 4.5,0a2.25,2.25 0 1,0 -4.5,0M106.3,259.6a2.25,2.25 0 1,0 4.5,0a2.25,2.25 0 1,0 -4.5,0M106.5,257.7a2.25,2.25 0 1,0 4.5,0a2.25,2.25 0 1,0 -4.5,0M106.8,265.2a2.25,2.25 0 1,0 4.5,0a2.25,2.25 0 1,0 -4.5,0M107.0,257.2a2.25,2.25 0 1,0 4.5,0a2.25,2.25 0 1,0 -4.5,0M107.3,267.7a2.25,2.25 0 1,0 4.5,0a2.25,2.25 0 1,0 -4.5,0M107.6,266.8a2.25,2.25 0 1,0 4.5,0a2.25,2.25 0 1,0 -4.5,0M107.8,256.8a2.25,2.25 0 1,0 4.5,0a2.25,2.25 0 1,0 -4.5,0M108.1,266.6a2.25,2.25 0 1,0 4.5,0a2.25,2.25 0 1,0 -4.5,0M108.3,264.3a2.25,2.25 0 1,0 4.5,0a2.25,2.25 0 1,0 -4.5,0M108.6,260.7a2.25,2.25 0 1,0 4.5,0a2.25,2.25 0 1,0 -4.5,0M108.9,266.1a2.25,2.25 0 1,0 4.5,0a2.25,2.25 0 1,0 -4.5,0M109.1,259.0a2.25,2.25 0 1,0 4.5,0a2.25,2.25 0 1,0 -4.5,0M109.4,255.2a2.25,2.25 0 1,0 4.5,0a2.25,2.25 0 1,0 -4.5,0M109.6,260.0a2.25,2.25 0 1,0 4.5,0a2.25,2.25 0 1,0 -4.5,0M109.9,255.7a2.25,2.25 0 1,0 4.5,0a2.25,2.25 0 1,0 -4.5,0M110.2,267.4a2.25,2.25 0 1,0 4.5,0a2.25,2.25 0 1,0 -4.5,0M110.4,265.7a2.25,2.25 0 1,0 4.5,0a2.25,2.25 0 1,0 -4.5,0M110.7,257.5a2.25,2.25 0 1,0 4.5,0a2.25,2.25 0 1,0 -4.5,0M110.9,262.1a2.25,2.25 0 1,0 4.5,0a2.25,2.25 0 1,0 -4.5,0M111.2,257.4a2.25,2.25 0 1,0 4.5,0a2.25,2.25 0 1,0 -4.5,0M111.5,263.8a2.25,2.25 0 1,0 4.5,0a2.25,2.25 0 1,0 -4.5,0M111.7,267.6a2.25,2.25 0 1,0 4.5,0a2.25,2.25 0 1,0 -4.5,0M112.0,269.7a2.25,2.25 0 1,0 4.5,0a2.25,2.25 0 1,0 -4.5,0M112.2,261.2a2.25,2.25 0 1,0 4.5,0a2.25,2.25 0 1,0 -4.5,0M112.5,264.8a2.25,2.25 0 1,0 4.5,0a2.25,2.25 0 1,0 -4.5,0M112.8,267.1a2.25,2.25 0 1,0 4.5,0a2.25,2.25 0 1,0 -4.5,0M113.0,264.1a2.25,2.25 0 1,0 4.5,0a2.25,2.25 0 1,0 -4.5,0M113.3,258.0a2.25,2.25 0 1,0 4.5,0a2.25,2.25 0 1,0 -4.5,0M113.5,271.0a2.25,2.25 0 1,0 4.5,0a2.25,2.25 0 1,0 -4.5,0M113.8,266.9a2.25,2.25 0 1,0 4.5,0a2.25,2.25 0 1,0 -4.5,0M114.0,258.1a2.25,2.25 0 1,0 4.5,0a2.25,2.25 0 1,0 -4.5,0M114.3,264.4a2.25,2.25 0 1,0 4.5,0a2.25,2.25 0 1,0 -4.5,0M114.6,265.3a2.25,2.25 0 1,0 4.5,0a2.25,2.25 0 1,0 -4.5,0M114.8,262.6a2.25,2.25 0 1,0 4.5,0a2.25,2.25 0 1,0 -4.5,0M115.1,264.9a2.25,2.25 0 1,0 4.5,0a2.25,2.25 0 1,0 -4.5,0M115.3,268.0a2.25,2.25 0 1,0 4.5,0a2.25,2.25 0 1,0 -4.5,0M115.6,261.6a2.25,2.25 0 1,0 4.5,0a2.25,2.25 0 1,0 -4.5,0M115.9,262.3a2.25,2.25 0 1,0 4.5,0a2.25,2.25 0 1,0 -4.5,0M116.1,266.4a2.25,2.25 0 1,0 4.5,0a2.25,2.25 0 1,0 -4.5,0M116.4,259.1a2.25,2.25 0 1,0 4.5,0a2.25,2.25 0 1,0 -4.5,0M116.6,270.2a2.25,2.25 0 1,0 4.5,0a2.25,2.25 0 1,0 -4.5,0M116.9,270.1a2.25,2.25 0 1,0 4.5,0a2.25,2.25 0 1,0 -4.5,0M117.2,259.1a2.25,2.25 0 1,0 4.5,0a2.25,2.25 0 1,0 -4.5,0M117.4,266.7a2.25,2.25 0 1,0 4.5,0a2.25,2.25 0 1,0 -4.5,0M117.7,266.5a2.25,2.25 0 1,0 4.5,0a2.25,2.25 0 1,0 -4.5,0M117.9,261.6a2.25,2.25 0 1,0 4.5,0a2.25,2.25 0 1,0 -4.5,0M118.2,267.9a2.25,2.25 0 1,0 4.5,0a2.25,2.25 0 1,0 -4.5,0M118.5,264.9a2.25,2.25 0 1,0 4.5,0a2.25,2.25 0 1,0 -4.5,0M118.7,263.2a2.25,2.25 0 1,0 4.5,0a2.25,2.25 0 1,0 -4.5,0M119.0,271.9a2.25,2.25 0 1,0 4.5,0a2.25,2.25 0 1,0 -4.5,0M119.2,266.8a2.25,2.25 0 1,0 4.5,0a2.25,2.25 0 1,0 -4.5,0M119.5,264.1a2.25,2.25 0 1,0 4.5,0a2.25,2.25 0 1,0 -4.5,0M119.7,273.1a2.25,2.25 0 1,0 4.5,0a2.25,2.25 0 1,0 -4.5,0M120.0,259.2a2.25,2.25 0 1,0 4.5,0a2.25,2.25 0 1,0 -4.5,0M120.3,277.1a2.25,2.25 0 1,0 4.5,0a2.25,2.25 0 1,0 -4.5,0M120.5,268.0a2.25,2.25 0 1,0 4.5,0a2.25,2.25 0 1,0 -4.5,0M120.8,261.4a2.25,2.25 0 1,0 4.5,0a2.25,2.25 0 1,0 -4.5,0M121.0,277.6a2.25,2.25 0 1,0 4.5,0a2.25,2.25 0 1,0 -4.5,0M121.3,265.2a2.25,2.25 0 1,0 4.5,0a2.25,2.25 0 1,0 -4.5,0M121.6,273.5a2.25,2.25 0 1,0 4.5,0a2.25,2.25 0 1,0 -4.5,0M121.8,263.3a2.25,2.25 0 1,0 4.5,0a2.25,2.25 0 1,0 -4.5,0M122.1,266.0a2.25,2.25 0 1,0 4.5,0a2.25,2.25 0 1,0 -4.5,0M122.3,265.5a2.25,2.25 0 1,0 4.5,0a2.25,2.25 0 1,0 -4.5,0M122.6,275.4a2.25,2.25 0 1,0 4.5,0a2.25,2.25 0 1,0 -4.5,0M122.9,268.2a2.25,2.25 0 1,0 4.5,0a2.25,2.25 0 1,0 -4.5,0M123.1,275.2a2.25,2.25 0 1,0 4.5,0a2.25,2.25 0 1,0 -4.5,0M123.4,268.7a2.25,2.25 0 1,0 4.5,0a2.25,2.25 0 1,0 -4.5,0M123.6,269.1a2.25,2.25 0 1,0 4.5,0a2.25,2.25 0 1,0 -4.5,0M123.9,267.0a2.25,2.25 0 1,0 4.5,0a2.25,2.25 0 1,0 -4.5,0M124.2,268.7a2.25,2.25 0 1,0 4.5,0a2.25,2.25 0 1,0 -4.5,0M124.4,264.4a2.25,2.25 0 1,0 4.5,0a2.25,2.25 0 1,0 -4.5,0M124.7,270.6a2.25,2.25 0 1,0 4.5,0a2.25,2.25 0 1,0 -4.5,0M124.9,273.0a2.25,2.25 0 1,0 4.5,0a2.25,2.25 0 1,0 -4.5,0M125.2,261.7a2.25,2.25 0 1,0 4.5,0a2.25,2.25 0 1,0 -4.5,0M125.5,271.2a2.25,2.25 0 1,0 4.5,0a2.25,2.25 0 1,0 -4.5,0M125.7,267.5a2.25,2.25 0 1,0 4.5,0a2.25,2.25 0 1,0 -4.5,0M126.0,274.4a2.25,2.25 0 1,0 4.5,0a2.25,2.25 0 1,0 -4.5,0M126.2,279.2a2.25,2.25 0 1,0 4.5,0a2.25,2.25 0 1,0 -4.5,0M126.5,271.2a2.25,2.25 0 1,0 4.5,0a2.25,2.25 0 1,0 -4.5,0M126.7,278.5a2.25,2.25 0 1,0 4.5,0a2.25,2.25 0 1,0 -4.5,0M127.0,268.1a2.25,2.25 0 1,0 4.5,0a2.25,2.25 0 1,0 -4.5,0M127.3,265.1a2.25,2.25 0 1,0 4.5,0a2.25,2.25 0 1,0 -4.5,0M127.5,277.7a2.25,2.25 0 1,0 4.5,0a2.25,2.25 0 1,0 -4.5,0M127.8,268.1a2.25,2.25 0 1,0 4.5,0a2.25,2.25 0 1,0 -4.5,0M128.0,276.0a2.25,2.25 0 1,0 4.5,0a2.25,2.25 0 1,0 -4.5,0M128.3,272.7a2.25,2.25 0 1,0 4.5,0a2.25,2.25 0 1,0 -4.5,0M128.6,281.4a2.25,2.25 0 1,0 4.5,0a2.25,2.25 0 1,0 -4.5,0M128.8,273.1a2.25,2.25 0 1,0 4.5,0a2.25,2.25 0 1,0 -4.5,0M129.1,271.5a2.25,2.25 0 1,0 4.5,0a2.25,2.25 0 1,0 -4.5,0M129.3,273.1a2.25,2.25 0 1,0 4.5,0a2.25,2.25 0 1,0 -4.5,0M129.6,274.9a2.25,2.25 0 1,0 4.5,0a2.25,2.25 0 1,0 -4.5,0M129.9,277.2a2.25,2.25 0 1,0 4.5,0a2.25,2.25 0 1,0 -4.5,0M130.1,277.1a2.25,2.25 0 1,0 4.5,0a2.25,2.25 0 1,0 -4.5,0M130.4,269.4a2.25,2.25 0 1,0 4.5,0a2.25,2.25 0 1,0 -4.5,0M130.6,275.6a2.25,2.25 0 1,0 4.5,0a2.25,2.25 0 1,0 -4.5,0M130.9,276.3a2.25,2.25 0 1,0 4.5,0a2.25,2.25 0 1,0 -4.5,0M131.2,278.1a2.25,2.25 0 1,0 4.5,0a2.25,2.25 0 1,0 -4.5,0M131.4,273.8a2.25,2.25 0 1,0 4.5,0a2.25,2.25 0 1,0 -4.5,0M131.7,280.0a2.25,2.25 0 1,0 4.5,0a2.25,2.25 0 1,0 -4.5,0M131.9,285.0a2.25,2.25 0 1,0 4.5,0a2.25,2.25 0 1,0 -4.5,0M132.2,280.9a2.25,2.25 0 1,0 4.5,0a2.25,2.25 0 1,0 -4.5,0M132.4,273.0a2.25,2.25 0 1,0 4.5,0a2.25,2.25 0 1,0 -4.5,0M132.7,276.2a2.25,2.25 0 1,0 4.5,0a2.25,2.25 0 1,0 -4.5,0M133.0,276.2a2.25,2.25 0 1,0 4.5,0a2.25,2.25 0 1,0 -4.5,0M133.2,265.9a2.25,2.25 0 1,0 4.5,0a2.25,2.25 0 1,0 -4.5,0M133.5,287.7a2.25,2.25 0 1,0 4.5,0a2.25,2.25 0 1,0 -4.5,0M133.7,286.9a2.25,2.25 0 1,0 4.5,0a2.25,2.25 0 1,0 -4.5,0M134.0,270.0a2.25,2.25 0 1,0 4.5,0a2.25,2.25 0 1,0 -4.5,0M134.3,280.1a2.25,2.25 0 1,0 4.5,0a2.25,2.25 0 1,0 -4.5,0M134.5,274.7a2.25,2.25 0 1,0 4.5,0a2.25,2.25 0 1,0 -4.5,0M134.8,284.0a2.25,2.25 0 1,0 4.5,0a2.25,2.25 0 1,0 -4.5,0M135.0,278.9a2.25,2.25 0 1,0 4.5,0a2.25,2.25 0 1,0 -4.5,0M135.3,276.4a2.25,2.25 0 1,0 4.5,0a2.25,2.25 0 1,0 -4.5,0M135.6,278.9a2.25,2.25 0 1,0 4.5,0a2.25,2.25 0 1,0 -4.5,0M135.8,280.8a2.25,2.25 0 1,0 4.5,0a2.25,2.25 0 1,0 -4.5,0M136.1,271.9a2.25,2.25 0 1,0 4.5,0a2.25,2.25 0 1,0 -4.5,0M136.3,280.0a2.25,2.25 0 1,0 4.5,0a2.25,2.25 0 1,0 -4.5,0M136.6,282.1a2.25,2.25 0 1,0 4.5,0a2.25,2.25 0 1,0 -4.5,0M136.9,270.9a2.25,2.25 0 1,0 4.5,0a2.25,2.25 0 1,0 -4.5,0M137.1,287.0a2.25,2.25 0 1,0 4.5,0a2.25,2.25 0 1,0 -4.5,0M137.4,286.5a2.25,2.25 0 1,0 4.5,0a2.25,2.25 0 1,0 -4.5,0M137.6,278.8a2.25,2.25 0 1,0 4.5,0a2.25,2.25 0 1,0 -4.5,0M137.9,283.3a2.25,2.25 0 1,0 4.5,0a2.25,2.25 0 1,0 -4.5,0M138.2,285.3a2.25,2.25 0 1,0 4.5,0a2.25,2.25 0 1,0 -4.5,0M138.4,272.2a2.25,2.25 0 1,0 4.5,0a2.25,2.25 0 1,0 -4.5,0M138.7,285.3a2.25,2.25 0 1,0 4.5,0a2.25,2.25 0 1,0 -4.5,0M138.9,278.2a2.25,2.25 0 1,0 4.5,0a2.25,2.25 0 1,0 -4.5,0M139.2,271.5a2.25,2.25 0 1,0 4.5,0a2.25,2.25 0 1,0 -4.5,0M139.4,287.8a2.25,2.25 0 1,0 4.5,0a2.25,2.25 0 1,0 -4.5,0M139.7,280.9a2.25,2.25 0 1,0 4.5,0a2.25,2.25 0 1,0 -4.5,0M140.0,275.6a2.25,2.25 0 1,0 4.5,0a2.25,2.25 0 1,0 -4.5,0M140.2,279.8a2.25,2.25 0 1,0 4.5,0a2.25,2.25 0 1,0 -4.5,0M140.5,285.6a2.25,2.25 0 1,0 4.5,0a2.25,2.25 0 1,0 -4.5,0M140.7,281.1a2.25,2.25 0 1,0 4.5,0a2.25,2.25 0 1,0 -4.5,0M141.0,273.7a2.25,2.25 0 1,0 4.5,0a2.25,2.25 0 1,0 -4.5,0M141.3,283.1a2.25,2.25 0 1,0 4.5,0a2.25,2.25 0 1,0 -4.5,0M141.5,281.0a2.25,2.25 0 1,0 4.5,0a2.25,2.25 0 1,0 -4.5,0M141.8,283.4a2.25,2.25 0 1,0 4.5,0a2.25,2.25 0 1,0 -4.5,0M142.0,289.6a2.25,2.25 0 1,0 4.5,0a2.25,2.25 0 1,0 -4.5,0M142.3,282.2a2.25,2.25 0 1,0 4.5,0a2.25,2.25 0 1,0 -4.5,0M142.6,274.4a2.25,2.25 0 1,0 4.5,0a2.25,2.25 0 1,0 -4.5,0M142.8,287.8a2.25,2.25 0 1,0 4.5,0a2.25,2.25 0 1,0 -4.5,0M143.1,295.8a2.25,2.25 0 1,0 4.5,0a2.25,2.25 0 1,0 -4.5,0M143.3,284.0a2.25,2.25 0 1,0 4.5,0a2.25,2.25 0 1,0 -4.5,0M143.6,289.3a2.25,2.25 0 1,0 4.5,0a2.25,2.25 0 1,0 -4.5,0M143.9,284.1a2.25,2.25 0 1,0 4.5,0a2.25,2.25 0 1,0 -4.5,0M144.1,283.9a2.25,2.25 0 1,0 4.5,0a2.25,2.25 0 1,0 -4.5,0M144.4,280.3a2.25,2.25 0 1,0 4.5,0a2.25,2.25 0 1,0 -4.5,0M144.6,279.2a2.25,2.25 0 1,0 4.5,0a2.25,2.25 0 1,0 -4.5,0M144.9,289.3a2.25,2.25 0 1,0 4.5,0a2.25,2.25 0 1,0 -4.5,0M145.2,286.0a2.25,2.25 0 1,0 4.5,0a2.25,2.25 0 1,0 -4.5,0M145.4,283.1a2.25,2.25 0 1,0 4.5,0a2.25,2.25 0 1,0 -4.5,0M145.7,286.8a2.25,2.25 0 1,0 4.5,0a2.25,2.25 0 1,0 -4.5,0M145.9,291.3a2.25,2.25 0 1,0 4.5,0a2.25,2.25 0 1,0 -4.5,0M146.2,285.0a2.25,2.25 0 1,0 4.5,0a2.25,2.25 0 1,0 -4.5,0M146.4,293.3a2.25,2.25 0 1,0 4.5,0a2.25,2.25 0 1,0 -4.5,0M146.7,294.1a2.25,2.25 0 1,0 4.5,0a2.25,2.25 0 1,0 -4.5,0M147.0,289.1a2.25,2.25 0 1,0 4.5,0a2.25,2.25 0 1,0 -4.5,0M147.2,281.9a2.25,2.25 0 1,0 4.5,0a2.25,2.25 0 1,0 -4.5,0M147.5,287.9a2.25,2.25 0 1,0 4.5,0a2.25,2.25 0 1,0 -4.5,0M147.7,287.6a2.25,2.25 0 1,0 4.5,0a2.25,2.25 0 1,0 -4.5,0M148.0,282.8a2.25,2.25 0 1,0 4.5,0a2.25,2.25 0 1,0 -4.5,0M148.3,282.1a2.25,2.25 0 1,0 4.5,0a2.25,2.25 0 1,0 -4.5,0M148.5,285.6a2.25,2.25 0 1,0 4.5,0a2.25,2.25 0 1,0 -4.5,0M148.8,281.1a2.25,2.25 0 1,0 4.5,0a2.25,2.25 0 1,0 -4.5,0M149.0,284.7a2.25,2.25 0 1,0 4.5,0a2.25,2.25 0 1,0 -4.5,0M149.3,281.3a2.25,2.25 0 1,0 4.5,0a2.25,2.25 0 1,0 -4.5,0M149.6,291.7a2.25,2.25 0 1,0 4.5,0a2.25,2.25 0 1,0 -4.5,0M149.8,281.2a2.25,2.25 0 1,0 4.5,0a2.25,2.25 0 1,0 -4.5,0M150.1,281.6a2.25,2.25 0 1,0 4.5,0a2.25,2.25 0 1,0 -4.5,0M150.3,281.8a2.25,2.25 0 1,0 4.5,0a2.25,2.25 0 1,0 -4.5,0M150.6,286.3a2.25,2.25 0 1,0 4.5,0a2.25,2.25 0 1,0 -4.5,0M150.9,290.4a2.25,2.25 0 1,0 4.5,0a2.25,2.25 0 1,0 -4.5,0M151.1,293.7a2.25,2.25 0 1,0 4.5,0a2.25,2.25 0 1,0 -4.5,0M151.4,298.5a2.25,2.25 0 1,0 4.5,0a2.25,2.25 0 1,0 -4.5,0M151.6,283.9a2.25,2.25 0 1,0 4.5,0a2.25,2.25 0 1,0 -4.5,0M151.9,283.6a2.25,2.25 0 1,0 4.5,0a2.25,2.25 0 1,0 -4.5,0M152.1,288.5a2.25,2.25 0 1,0 4.5,0a2.25,2.25 0 1,0 -4.5,0M152.4,300.3a2.25,2.25 0 1,0 4.5,0a2.25,2.25 0 1,0 -4.5,0M152.7,280.4a2.25,2.25 0 1,0 4.5,0a2.25,2.25 0 1,0 -4.5,0M152.9,279.7a2.25,2.25 0 1,0 4.5,0a2.25,2.25 0 1,0 -4.5,0M153.2,284.1a2.25,2.25 0 1,0 4.5,0a2.25,2.25 0 1,0 -4.5,0M153.4,279.8a2.25,2.25 0 1,0 4.5,0a2.25,2.25 0 1,0 -4.5,0M153.7,287.3a2.25,2.25 0 1,0 4.5,0a2.25,2.25 0 1,0 -4.5,0M154.0,292.2a2.25,2.25 0 1,0 4.5,0a2.25,2.25 0 1,0 -4.5,0M154.2,285.7a2.25,2.25 0 1,0 4.5,0a2.25,2.25 0 1,0 -4.5,0M154.5,291.1a2.25,2.25 0 1,0 4.5,0a2.25,2.25 0 1,0 -4.5,0M154.7,292.8a2.25,2.25 0 1,0 4.5,0a2.25,2.25 0 1,0 -4.5,0M155.0,289.4a2.25,2.25 0 1,0 4.5,0a2.25,2.25 0 1,0 -4.5,0M155.3,289.7a2.25,2.25 0 1,0 4.5,0a2.25,2.25 0 1,0 -4.5,0M155.5,286.2a2.25,2.25 0 1,0 4.5,0a2.25,2.25 0 1,0 -4.5,0M155.8,288.5a2.25,2.25 0 1,0 4.5,0a2.25,2.25 0 1,0 -4.5,0M156.0,290.0a2.25,2.25 0 1,0 4.5,0a2.25,2.25 0 1,0 -4.5,0M156.3,301.1a2.25,2.25 0 1,0 4.5,0a2.25,2.25 0 1,0 -4.5,0M156.6,281.8a2.25,2.25 0 1,0 4.5,0a2.25,2.25 0 1,0 -4.5,0M156.8,273.9a2.25,2.25 0 1,0 4.5,0a2.25,2.25 0 1,0 -4.5,0M157.1,290.1a2.25,2.25 0 1,0 4.5,0a2.25,2.25 0 1,0 -4.5,0M157.3,291.6a2.25,2.25 0 1,0 4.5,0a2.25,2.25 0 1,0 -4.5,0M157.6,289.3a2.25,2.25 0 1,0 4.5,0a2.25,2.25 0 1,0 -4.5,0M157.9,292.8a2.25,2.25 0 1,0 4.5,0a2.25,2.25 0 1,0 -4.5,0M158.1,293.1a2.25,2.25 0 1,0 4.5,0a2.25,2.25 0 1,0 -4.5,0M158.4,300.3a2.25,2.25 0 1,0 4.5,0a2.25,2.25 0 1,0 -4.5,0M158.6,292.6a2.25,2.25 0 1,0 4.5,0a2.25,2.25 0 1,0 -4.5,0M158.9,286.6a2.25,2.25 0 1,0 4.5,0a2.25,2.25 0 1,0 -4.5,0M159.1,282.6a2.25,2.25 0 1,0 4.5,0a2.25,2.25 0 1,0 -4.5,0M159.4,286.5a2.25,2.25 0 1,0 4.5,0a2.25,2.25 0 1,0 -4.5,0M159.7,293.2a2.25,2.25 0 1,0 4.5,0a2.25,2.25 0 1,0 -4.5,0M159.9,292.5a2.25,2.25 0 1,0 4.5,0a2.25,2.25 0 1,0 -4.5,0M160.2,292.9a2.25,2.25 0 1,0 4.5,0a2.25,2.25 0 1,0 -4.5,0M160.4,284.6a2.25,2.25 0 1,0 4.5,0a2.25,2.25 0 1,0 -4.5,0M160.7,303.7a2.25,2.25 0 1,0 4.5,0a2.25,2.25 0 1,0 -4.5,0M161.0,293.7a2.25,2.25 0 1,0 4.5,0a2.25,2.25 0 1,0 -4.5,0M161.2,305.0a2.25,2.25 0 1,0 4.5,0a2.25,2.25 0 1,0 -4.5,0M161.5,287.9a2.25,2.25 0 1,0 4.5,0a2.25,2.25 0 1,0 -4.5,0M161.7,291.6a2.25,2.25 0 1,0 4.5,0a2.25,2.25 0 1,0 -4.5,0M162.0,297.3a2.25,2.25 0 1,0 4.5,0a2.25,2.25 0 1,0 -4.5,0M162.3,289.6a2.25,2.25 0 1,0 4.5,0a2.25,2.25 0 1,0 -4.5,0M162.5,286.8a2.25,2.25 0 1,0 4.5,0a2.25,2.25 0 1,0 -4.5,0M162.8,293.8a2.25,2.25 0 1,0 4.5,0a2.25,2.25 0 1,0 -4.5,0M163.0,294.4a2.25,2.25 0 1,0 4.5,0a2.25,2.25 0 1,0 -4.5,0M163.3,303.8a2.25,2.25 0 1,0 4.5,0a2.25,2.25 0 1,0 -4.5,0M163.6,290.4a2.25,2.25 0 1,0 4.5,0a2.25,2.25 0 1,0 -4.5,0M163.8,302.9a2.25,2.25 0 1,0 4.5,0a2.25,2.25 0 1,0 -4.5,0M164.1,300.2a2.25,2.25 0 1,0 4.5,0a2.25,2.25 0 1,0 -4.5,0M164.3,304.1a2.25,2.25 0 1,0 4.5,0a2.25,2.25 0 1,0 -4.5,0M164.6,290.9a2.25,2.25 0 1,0 4.5,0a2.25,2.25 0 1,0 -4.5,0M164.8,299.7a2.25,2.25 0 1,0 4.5,0a2.25,2.25 0 1,0 -4.5,0M165.1,303.9a2.25,2.25 0 1,0 4.5,0a2.25,2.25 0 1,0 -4.5,0M165.4,295.9a2.25,2.25 0 1,0 4.5,0a2.25,2.25 0 1,0 -4.5,0M165.6,293.5a2.25,2.25 0 1,0 4.5,0a2.25,2.25 0 1,0 -4.5,0M165.9,284.5a2.25,2.25 0 1,0 4.5,0a2.25,2.25 0 1,0 -4.5,0M166.1,300.4a2.25,2.25 0 1,0 4.5,0a2.25,2.25 0 1,0 -4.5,0M166.4,300.7a2.25,2.25 0 1,0 4.5,0a2.25,2.25 0 1,0 -4.5,0M166.7,300.2a2.25,2.25 0 1,0 4.5,0a2.25,2.25 0 1,0 -4.5,0M166.9,304.7a2.25,2.25 0 1,0 4.5,0a2.25,2.25 0 1,0 -4.5,0M167.2,296.4a2.25,2.25 0 1,0 4.5,0a2.25,2.25 0 1,0 -4.5,0M167.4,283.3a2.25,2.25 0 1,0 4.5,0a2.25,2.25 0 1,0 -4.5,0M167.7,301.1a2.25,2.25 0 1,0 4.5,0a2.25,2.25 0 1,0 -4.5,0M168.0,298.6a2.25,2.25 0 1,0 4.5,0a2.25,2.25 0 1,0 -4.5,0M168.2,298.9a2.25,2.25 0 1,0 4.5,0a2.25,2.25 0 1,0 -4.5,0M168.5,295.0a2.25,2.25 0 1,0 4.5,0a2.25,2.25 0 1,0 -4.5,0M168.7,314.1a2.25,2.25 0 1,0 4.5,0a2.25,2.25 0 1,0 -4.5,0M169.0,293.6a2.25,2.25 0 1,0 4.5,0a2.25,2.25 0 1,0 -4.5,0M169.3,295.3a2.25,2.25 0 1,0 4.5,0a2.25,2.25 0 1,0 -4.5,0M169.5,294.5a2.25,2.25 0 1,0 4.5,0a2.25,2.25 0 1,0 -4.5,0M169.8,301.9a2.25,2.25 0 1,0 4.5,0a2.25,2.25 0 1,0 -4.5,0M170.0,308.4a2.25,2.25 0 1,0 4.5,0a2.25,2.25 0 1,0 -4.5,0M170.3,296.1a2.25,2.25 0 1,0 4.5,0a2.25,2.25 0 1,0 -4.5,0M170.6,313.2a2.25,2.25 0 1,0 4.5,0a2.25,2.25 0 1,0 -4.5,0M170.8,295.5a2.25,2.25 0 1,0 4.5,0a2.25,2.25 0 1,0 -4.5,0M171.1,304.8a2.25,2.25 0 1,0 4.5,0a2.25,2.25 0 1,0 -4.5,0M171.3,300.5a2.25,2.25 0 1,0 4.5,0a2.25,2.25 0 1,0 -4.5,0M171.6,285.7a2.25,2.25 0 1,0 4.5,0a2.25,2.25 0 1,0 -4.5,0M171.8,291.5a2.25,2.25 0 1,0 4.5,0a2.25,2.25 0 1,0 -4.5,0M172.1,295.0a2.25,2.25 0 1,0 4.5,0a2.25,2.25 0 1,0 -4.5,0M172.4,294.3a2.25,2.25 0 1,0 4.5,0a2.25,2.25 0 1,0 -4.5,0M172.6,287.9a2.25,2.25 0 1,0 4.5,0a2.25,2.25 0 1,0 -4.5,0M172.9,296.9a2.25,2.25 0 1,0 4.5,0a2.25,2.25 0 1,0 -4.5,0M173.1,299.8a2.25,2.25 0 1,0 4.5,0a2.25,2.25 0 1,0 -4.5,0M173.4,293.9a2.25,2.25 0 1,0 4.5,0a2.25,2.25 0 1,0 -4.5,0M173.7,300.8a2.25,2.25 0 1,0 4.5,0a2.25,2.25 0 1,0 -4.5,0M173.9,306.0a2.25,2.25 0 1,0 4.5,0a2.25,2.25 0 1,0 -4.5,0M174.2,290.4a2.25,2.25 0 1,0 4.5,0a2.25,2.25 0 1,0 -4.5,0M174.4,304.4a2.25,2.25 0 1,0 4.5,0a2.25,2.25 0 1,0 -4.5,0M174.7,304.6a2.25,2.25 0 1,0 4.5,0a2.25,2.25 0 1,0 -4.5,0M175.0,304.6a2.25,2.25 0 1,0 4.5,0a2.25,2.25 0 1,0 -4.5,0M175.2,311.9a2.25,2.25 0 1,0 4.5,0a2.25,2.25 0 1,0 -4.5,0M175.5,296.4a2.25,2.25 0 1,0 4.5,0a2.25,2.25 0 1,0 -4.5,0M175.7,304.0a2.25,2.25 0 1,0 4.5,0a2.25,2.25 0 1,0 -4.5,0M176.0,305.9a2.25,2.25 0 1,0 4.5,0a2.25,2.25 0 1,0 -4.5,0M176.3,305.9a2.25,2.25 0 1,0 4.5,0a2.25,2.25 0 1,0 -4.5,0M176.5,316.9a2.25,2.25 0 1,0 4.5,0a2.25,2.25 0 1,0 -4.5,0M176.8,308.4a2.25,2.25 0 1,0 4.5,0a2.25,2.25 0 1,0 -4.5,0M177.0,291.0a2.25,2.25 0 1,0 4.5,0a2.25,2.25 0 1,0 -4.5,0M177.3,301.5a2.25,2.25 0 1,0 4.5,0a2.25,2.25 0 1,0 -4.5,0M177.6,294.0a2.25,2.25 0 1,0 4.5,0a2.25,2.25 0 1,0 -4.5,0M177.8,305.9a2.25,2.25 0 1,0 4.5,0a2.25,2.25 0 1,0 -4.5,0M178.1,300.6a2.25,2.25 0 1,0 4.5,0a2.25,2.25 0 1,0 -4.5,0M178.3,321.3a2.25,2.25 0 1,0 4.5,0a2.25,2.25 0 1,0 -4.5,0M178.6,300.0a2.25,2.25 0 1,0 4.5,0a2.25,2.25 0 1,0 -4.5,0M178.8,308.7a2.25,2.25 0 1,0 4.5,0a2.25,2.25 0 1,0 -4.5,0M179.1,301.9a2.25,2.25 0 1,0 4.5,0a2.25,2.25 0 1,0 -4.5,0M179.4,308.7a2.25,2.25 0 1,0 4.5,0a2.25,2.25 0 1,0 -4.5,0M179.6,295.0a2.25,2.25 0 1,0 4.5,0a2.25,2.25 0 1,0 -4.5,0M179.9,309.0a2.25,2.25 0 1,0 4.5,0a2.25,2.25 0 1,0 -4.5,0M180.1,296.0a2.25,2.25 0 1,0 4.5,0a2.25,2.25 0 1,0 -4.5,0M180.4,309.7a2.25,2.25 0 1,0 4.5,0a2.25,2.25 0 1,0 -4.5,0M180.7,307.4a2.25,2.25 0 1,0 4.5,0a2.25,2.25 0 1,0 -4.5,0M180.9,309.2a2.25,2.25 0 1,0 4.5,0a2.25,2.25 0 1,0 -4.5,0M181.2,294.3a2.25,2.25 0 1,0 4.5,0a2.25,2.25 0 1,0 -4.5,0M181.4,304.7a2.25,2.25 0 1,0 4.5,0a2.25,2.25 0 1,0 -4.5,0M181.7,308.1a2.25,2.25 0 1,0 4.5,0a2.25,2.25 0 1,0 -4.5,0M182.0,300.5a2.25,2.25 0 1,0 4.5,0a2.25,2.25 0 1,0 -4.5,0M182.2,306.2a2.25,2.25 0 1,0 4.5,0a2.25,2.25 0 1,0 -4.5,0M182.5,299.8a2.25,2.25 0 1,0 4.5,0a2.25,2.25 0 1,0 -4.5,0M182.7,312.5a2.25,2.25 0 1,0 4.5,0a2.25,2.25 0 1,0 -4.5,0M183.0,303.6a2.25,2.25 0 1,0 4.5,0a2.25,2.25 0 1,0 -4.5,0M183.3,300.5a2.25,2.25 0 1,0 4.5,0a2.25,2.25 0 1,0 -4.5,0M183.5,301.7a2.25,2.25 0 1,0 4.5,0a2.25,2.25 0 1,0 -4.5,0M183.8,302.1a2.25,2.25 0 1,0 4.5,0a2.25,2.25 0 1,0 -4.5,0M184.0,306.0a2.25,2.25 0 1,0 4.5,0a2.25,2.25 0 1,0 -4.5,0M184.3,312.5a2.25,2.25 0 1,0 4.5,0a2.25,2.25 0 1,0 -4.5,0M184.5,296.1a2.25,2.25 0 1,0 4.5,0a2.25,2.25 0 1,0 -4.5,0M184.8,321.3a2.25,2.25 0 1,0 4.5,0a2.25,2.25 0 1,0 -4.5,0M185.1,306.7a2.25,2.25 0 1,0 4.5,0a2.25,2.25 0 1,0 -4.5,0M185.3,304.4a2.25,2.25 0 1,0 4.5,0a2.25,2.25 0 1,0 -4.5,0M185.6,300.7a2.25,2.25 0 1,0 4.5,0a2.25,2.25 0 1,0 -4.5,0M185.8,316.9a2.25,2.25 0 1,0 4.5,0a2.25,2.25 0 1,0 -4.5,0M186.1,295.1a2.25,2.25 0 1,0 4.5,0a2.25,2.25 0 1,0 -4.5,0M186.4,316.9a2.25,2.25 0 1,0 4.5,0a2.25,2.25 0 1,0 -4.5,0M186.6,333.3a2.25,2.25 0 1,0 4.5,0a2.25,2.25 0 1,0 -4.5,0M186.9,310.4a2.25,2.25 0 1,0 4.5,0a2.25,2.25 0 1,0 -4.5,0M187.1,309.9a2.25,2.25 0 1,0 4.5,0a2.25,2.25 0 1,0 -4.5,0M187.4,293.5a2.25,2.25 0 1,0 4.5,0a2.25,2.25 0 1,0 -4.5,0M187.7,308.8a2.25,2.25 0 1,0 4.5,0a2.25,2.25 0 1,0 -4.5,0M187.9,308.0a2.25,2.25 0 1,0 4.5,0a2.25,2.25 0 1,0 -4.5,0M188.2,309.8a2.25,2.25 0 1,0 4.5,0a2.25,2.25 0 1,0 -4.5,0M188.4,295.9a2.25,2.25 0 1,0 4.5,0a2.25,2.25 0 1,0 -4.5,0M188.7,316.9a2.25,2.25 0 1,0 4.5,0a2.25,2.25 0 1,0 -4.5,0M189.0,305.5a2.25,2.25 0 1,0 4.5,0a2.25,2.25 0 1,0 -4.5,0M189.2,300.9a2.25,2.25 0 1,0 4.5,0a2.25,2.25 0 1,0 -4.5,0M189.5,321.3a2.25,2.25 0 1,0 4.5,0a2.25,2.25 0 1,0 -4.5,0M189.7,316.9a2.25,2.25 0 1,0 4.5,0a2.25,2.25 0 1,0 -4.5,0M190.0,333.3a2.25,2.25 0 1,0 4.5,0a2.25,2.25 0 1,0 -4.5,0M190.3,316.9a2.25,2.25 0 1,0 4.5,0a2.25,2.25 0 1,0 -4.5,0M190.5,312.1a2.25,2.25 0 1,0 4.5,0a2.25,2.25 0 1,0 -4.5,0M190.8,304.6a2.25,2.25 0 1,0 4.5,0a2.25,2.25 0 1,0 -4.5,0M191.0,308.7a2.25,2.25 0 1,0 4.5,0a2.25,2.25 0 1,0 -4.5,0M191.3,316.9a2.25,2.25 0 1,0 4.5,0a2.25,2.25 0 1,0 -4.5,0M191.5,326.7a2.25,2.25 0 1,0 4.5,0a2.25,2.25 0 1,0 -4.5,0M191.8,321.3a2.25,2.25 0 1,0 4.5,0a2.25,2.25 0 1,0 -4.5,0M192.1,313.8a2.25,2.25 0 1,0 4.5,0a2.25,2.25 0 1,0 -4.5,0M192.3,304.9a2.25,2.25 0 1,0 4.5,0a2.25,2.25 0 1,0 -4.5,0M192.6,314.8a2.25,2.25 0 1,0 4.5,0a2.25,2.25 0 1,0 -4.5,0M192.8,316.9a2.25,2.25 0 1,0 4.5,0a2.25,2.25 0 1,0 -4.5,0M193.1,316.9a2.25,2.25 0 1,0 4.5,0a2.25,2.25 0 1,0 -4.5,0M193.4,304.0a2.25,2.25 0 1,0 4.5,0a2.25,2.25 0 1,0 -4.5,0M193.6,321.3a2.25,2.25 0 1,0 4.5,0a2.25,2.25 0 1,0 -4.5,0M193.9,308.7a2.25,2.25 0 1,0 4.5,0a2.25,2.25 0 1,0 -4.5,0M194.1,297.1a2.25,2.25 0 1,0 4.5,0a2.25,2.25 0 1,0 -4.5,0M194.4,298.0a2.25,2.25 0 1,0 4.5,0a2.25,2.25 0 1,0 -4.5,0M194.7,315.0a2.25,2.25 0 1,0 4.5,0a2.25,2.25 0 1,0 -4.5,0M194.9,302.2a2.25,2.25 0 1,0 4.5,0a2.25,2.25 0 1,0 -4.5,0M195.2,305.1a2.25,2.25 0 1,0 4.5,0a2.25,2.25 0 1,0 -4.5,0M195.4,309.2a2.25,2.25 0 1,0 4.5,0a2.25,2.25 0 1,0 -4.5,0M195.7,321.3a2.25,2.25 0 1,0 4.5,0a2.25,2.25 0 1,0 -4.5,0M196.0,310.0a2.25,2.25 0 1,0 4.5,0a2.25,2.25 0 1,0 -4.5,0M196.2,326.7a2.25,2.25 0 1,0 4.5,0a2.25,2.25 0 1,0 -4.5,0M196.5,306.6a2.25,2.25 0 1,0 4.5,0a2.25,2.25 0 1,0 -4.5,0M196.7,307.0a2.25,2.25 0 1,0 4.5,0a2.25,2.25 0 1,0 -4.5,0M197.0,306.1a2.25,2.25 0 1,0 4.5,0a2.25,2.25 0 1,0 -4.5,0M197.2,326.7a2.25,2.25 0 1,0 4.5,0a2.25,2.25 0 1,0 -4.5,0M197.5,316.9a2.25,2.25 0 1,0 4.5,0a2.25,2.25 0 1,0 -4.5,0M197.8,333.3a2.25,2.25 0 1,0 4.5,0a2.25,2.25 0 1,0 -4.5,0M198.0,321.3a2.25,2.25 0 1,0 4.5,0a2.25,2.25 0 1,0 -4.5,0M198.3,321.3a2.25,2.25 0 1,0 4.5,0a2.25,2.25 0 1,0 -4.5,0M198.5,321.3a2.25,2.25 0 1,0 4.5,0a2.25,2.25 0 1,0 -4.5,0M198.8,306.4a2.25,2.25 0 1,0 4.5,0a2.25,2.25 0 1,0 -4.5,0M199.1,321.3a2.25,2.25 0 1,0 4.5,0a2.25,2.25 0 1,0 -4.5,0M199.3,321.3a2.25,2.25 0 1,0 4.5,0a2.25,2.25 0 1,0 -4.5,0M199.6,308.6a2.25,2.25 0 1,0 4.5,0a2.25,2.25 0 1,0 -4.5,0M199.8,316.9a2.25,2.25 0 1,0 4.5,0a2.25,2.25 0 1,0 -4.5,0M200.1,326.7a2.25,2.25 0 1,0 4.5,0a2.25,2.25 0 1,0 -4.5,0M200.4,321.3a2.25,2.25 0 1,0 4.5,0a2.25,2.25 0 1,0 -4.5,0M200.6,316.9a2.25,2.25 0 1,0 4.5,0a2.25,2.25 0 1,0 -4.5,0M200.9,313.6a2.25,2.25 0 1,0 4.5,0a2.25,2.25 0 1,0 -4.5,0M201.1,316.9a2.25,2.25 0 1,0 4.5,0a2.25,2.25 0 1,0 -4.5,0M201.4,310.5a2.25,2.25 0 1,0 4.5,0a2.25,2.25 0 1,0 -4.5,0M201.7,316.9a2.25,2.25 0 1,0 4.5,0a2.25,2.25 0 1,0 -4.5,0M201.9,316.9a2.25,2.25 0 1,0 4.5,0a2.25,2.25 0 1,0 -4.5,0M202.2,326.7a2.25,2.25 0 1,0 4.5,0a2.25,2.25 0 1,0 -4.5,0M202.4,316.9a2.25,2.25 0 1,0 4.5,0a2.25,2.25 0 1,0 -4.5,0M202.7,305.5a2.25,2.25 0 1,0 4.5,0a2.25,2.25 0 1,0 -4.5,0M203.0,306.4a2.25,2.25 0 1,0 4.5,0a2.25,2.25 0 1,0 -4.5,0M203.2,314.0a2.25,2.25 0 1,0 4.5,0a2.25,2.25 0 1,0 -4.5,0M203.5,326.7a2.25,2.25 0 1,0 4.5,0a2.25,2.25 0 1,0 -4.5,0M203.7,309.5a2.25,2.25 0 1,0 4.5,0a2.25,2.25 0 1,0 -4.5,0M204.0,321.3a2.25,2.25 0 1,0 4.5,0a2.25,2.25 0 1,0 -4.5,0M204.2,313.3a2.25,2.25 0 1,0 4.5,0a2.25,2.25 0 1,0 -4.5,0M204.5,326.7a2.25,2.25 0 1,0 4.5,0a2.25,2.25 0 1,0 -4.5,0M204.8,316.9a2.25,2.25 0 1,0 4.5,0a2.25,2.25 0 1,0 -4.5,0M205.0,307.5a2.25,2.25 0 1,0 4.5,0a2.25,2.25 0 1,0 -4.5,0M205.3,308.7a2.25,2.25 0 1,0 4.5,0a2.25,2.25 0 1,0 -4.5,0M205.5,321.3a2.25,2.25 0 1,0 4.5,0a2.25,2.25 0 1,0 -4.5,0M205.8,311.4a2.25,2.25 0 1,0 4.5,0a2.25,2.25 0 1,0 -4.5,0M206.1,321.3a2.25,2.25 0 1,0 4.5,0a2.25,2.25 0 1,0 -4.5,0M206.3,316.9a2.25,2.25 0 1,0 4.5,0a2.25,2.25 0 1,0 -4.5,0M206.6,316.9a2.25,2.25 0 1,0 4.5,0a2.25,2.25 0 1,0 -4.5,0M206.8,310.6a2.25,2.25 0 1,0 4.5,0a2.25,2.25 0 1,0 -4.5,0M207.1,321.3a2.25,2.25 0 1,0 4.5,0a2.25,2.25 0 1,0 -4.5,0M207.4,307.1a2.25,2.25 0 1,0 4.5,0a2.25,2.25 0 1,0 -4.5,0M207.6,333.3a2.25,2.25 0 1,0 4.5,0a2.25,2.25 0 1,0 -4.5,0M207.9,311.6a2.25,2.25 0 1,0 4.5,0a2.25,2.25 0 1,0 -4.5,0M208.1,316.9a2.25,2.25 0 1,0 4.5,0a2.25,2.25 0 1,0 -4.5,0M208.4,321.3a2.25,2.25 0 1,0 4.5,0a2.25,2.25 0 1,0 -4.5,0M208.7,326.7a2.25,2.25 0 1,0 4.5,0a2.25,2.25 0 1,0 -4.5,0M208.9,316.9a2.25,2.25 0 1,0 4.5,0a2.25,2.25 0 1,0 -4.5,0M209.2,316.9a2.25,2.25 0 1,0 4.5,0a2.25,2.25 0 1,0 -4.5,0M209.4,333.3a2.25,2.25 0 1,0 4.5,0a2.25,2.25 0 1,0 -4.5,0M209.7,316.9a2.25,2.25 0 1,0 4.5,0a2.25,2.25 0 1,0 -4.5,0M210.0,326.7a2.25,2.25 0 1,0 4.5,0a2.25,2.25 0 1,0 -4.5,0M210.2,326.7a2.25,2.25 0 1,0 4.5,0a2.25,2.25 0 1,0 -4.5,0M210.5,309.7a2.25,2.25 0 1,0 4.5,0a2.25,2.25 0 1,0 -4.5,0M210.7,316.9a2.25,2.25 0 1,0 4.5,0a2.25,2.25 0 1,0 -4.5,0M211.0,316.9a2.25,2.25 0 1,0 4.5,0a2.25,2.25 0 1,0 -4.5,0M211.2,333.3a2.25,2.25 0 1,0 4.5,0a2.25,2.25 0 1,0 -4.5,0M211.5,312.2a2.25,2.25 0 1,0 4.5,0a2.25,2.25 0 1,0 -4.5,0M211.8,316.9a2.25,2.25 0 1,0 4.5,0a2.25,2.25 0 1,0 -4.5,0M212.0,321.3a2.25,2.25 0 1,0 4.5,0a2.25,2.25 0 1,0 -4.5,0M212.3,304.5a2.25,2.25 0 1,0 4.5,0a2.25,2.25 0 1,0 -4.5,0M212.5,321.3a2.25,2.25 0 1,0 4.5,0a2.25,2.25 0 1,0 -4.5,0M212.8,326.7a2.25,2.25 0 1,0 4.5,0a2.25,2.25 0 1,0 -4.5,0M213.1,316.9a2.25,2.25 0 1,0 4.5,0a2.25,2.25 0 1,0 -4.5,0M213.3,333.3a2.25,2.25 0 1,0 4.5,0a2.25,2.25 0 1,0 -4.5,0M214.1,307.6a2.25,2.25 0 1,0 4.5,0a2.25,2.25 0 1,0 -4.5,0M214.4,321.3a2.25,2.25 0 1,0 4.5,0a2.25,2.25 0 1,0 -4.5,0M214.9,326.7a2.25,2.25 0 1,0 4.5,0a2.25,2.25 0 1,0 -4.5,0M215.1,321.3a2.25,2.25 0 1,0 4.5,0a2.25,2.25 0 1,0 -4.5,0" fill="none" stroke="#f1b52a" stroke-width="0.85"/>
</g>
<rect x="37.5" y="193.9" width="180.3" height="145.29999999999998" fill="none" stroke="#1c1717" stroke-width="1.6"/>
<line x1="37.50" y1="339.20" x2="37.50" y2="336.60" stroke="#231815" stroke-width="1" />
<line x1="55.50" y1="339.20" x2="55.50" y2="337.60" stroke="#231815" stroke-width="1" />
<line x1="73.50" y1="339.20" x2="73.50" y2="336.60" stroke="#231815" stroke-width="1" />
<line x1="91.50" y1="339.20" x2="91.50" y2="337.60" stroke="#231815" stroke-width="1" />
<line x1="109.50" y1="339.20" x2="109.50" y2="336.60" stroke="#231815" stroke-width="1" />
<line x1="127.50" y1="339.20" x2="127.50" y2="337.60" stroke="#231815" stroke-width="1" />
<line x1="145.50" y1="339.20" x2="145.50" y2="336.60" stroke="#231815" stroke-width="1" />
<line x1="163.50" y1="339.20" x2="163.50" y2="337.60" stroke="#231815" stroke-width="1" />
<line x1="181.50" y1="339.20" x2="181.50" y2="336.60" stroke="#231815" stroke-width="1" />
<line x1="199.50" y1="339.20" x2="199.50" y2="337.60" stroke="#231815" stroke-width="1" />
<line x1="217.50" y1="339.20" x2="217.50" y2="336.60" stroke="#231815" stroke-width="1" />
<line x1="37.50" y1="196.00" x2="40.10" y2="196.00" stroke="#231815" stroke-width="1" />
<line x1="37.50" y1="239.48" x2="39.10" y2="239.48" stroke="#231815" stroke-width="0.8" />
<line x1="37.50" y1="228.52" x2="39.10" y2="228.52" stroke="#231815" stroke-width="0.8" />
<line x1="37.50" y1="220.75" x2="39.10" y2="220.75" stroke="#231815" stroke-width="0.8" />
<line x1="37.50" y1="214.72" x2="39.10" y2="214.72" stroke="#231815" stroke-width="0.8" />
<line x1="37.50" y1="209.80" x2="39.10" y2="209.80" stroke="#231815" stroke-width="0.8" />
<line x1="37.50" y1="205.63" x2="39.10" y2="205.63" stroke="#231815" stroke-width="0.8" />
<line x1="37.50" y1="202.03" x2="39.10" y2="202.03" stroke="#231815" stroke-width="0.8" />
<line x1="37.50" y1="198.85" x2="39.10" y2="198.85" stroke="#231815" stroke-width="0.8" />
<line x1="37.50" y1="258.20" x2="40.10" y2="258.20" stroke="#231815" stroke-width="1" />
<line x1="37.50" y1="301.68" x2="39.10" y2="301.68" stroke="#231815" stroke-width="0.8" />
<line x1="37.50" y1="290.72" x2="39.10" y2="290.72" stroke="#231815" stroke-width="0.8" />
<line x1="37.50" y1="282.95" x2="39.10" y2="282.95" stroke="#231815" stroke-width="0.8" />
<line x1="37.50" y1="276.92" x2="39.10" y2="276.92" stroke="#231815" stroke-width="0.8" />
<line x1="37.50" y1="272.00" x2="39.10" y2="272.00" stroke="#231815" stroke-width="0.8" />
<line x1="37.50" y1="267.83" x2="39.10" y2="267.83" stroke="#231815" stroke-width="0.8" />
<line x1="37.50" y1="264.23" x2="39.10" y2="264.23" stroke="#231815" stroke-width="0.8" />
<line x1="37.50" y1="261.05" x2="39.10" y2="261.05" stroke="#231815" stroke-width="0.8" />
<line x1="37.50" y1="320.40" x2="40.10" y2="320.40" stroke="#231815" stroke-width="1" />
<line x1="37.50" y1="339.12" x2="39.10" y2="339.12" stroke="#231815" stroke-width="0.8" />
<line x1="37.50" y1="334.20" x2="39.10" y2="334.20" stroke="#231815" stroke-width="0.8" />
<line x1="37.50" y1="330.03" x2="39.10" y2="330.03" stroke="#231815" stroke-width="0.8" />
<line x1="37.50" y1="326.43" x2="39.10" y2="326.43" stroke="#231815" stroke-width="0.8" />
<line x1="37.50" y1="323.25" x2="39.10" y2="323.25" stroke="#231815" stroke-width="0.8" />
<text x="37.5" y="352.0" font-size="12" text-anchor="middle" fill="#231815" stroke="#231815" stroke-width="0.25" >0</text>
<text x="73.5" y="352.0" font-size="12" text-anchor="middle" fill="#231815" stroke="#231815" stroke-width="0.25" >500</text>
<text x="109.5" y="352.0" font-size="12" text-anchor="middle" fill="#231815" stroke="#231815" stroke-width="0.25" >1000</text>
<text x="145.5" y="352.0" font-size="12" text-anchor="middle" fill="#231815" stroke="#231815" stroke-width="0.25" >1500</text>
<text x="181.5" y="352.0" font-size="12" text-anchor="middle" fill="#231815" stroke="#231815" stroke-width="0.25" >2000</text>
<text x="217.5" y="352.0" font-size="12" text-anchor="middle" fill="#231815" stroke="#231815" stroke-width="0.25" >2500</text>
<text x="127.8" y="363.8" font-size="12.4" text-anchor="middle" fill="#231815" stroke="#231815" stroke-width="0.25" >Time (ns)</text>
<text x="33.6" y="200.0" font-size="12" text-anchor="end" fill="#231815" stroke="#231815" stroke-width="0.25" >1</text>
<text x="33.6" y="262.2" font-size="12" text-anchor="end" fill="#231815" stroke="#231815" stroke-width="0.25" >0.1</text>
<text x="33.6" y="324.4" font-size="12" text-anchor="end" fill="#231815" stroke="#231815" stroke-width="0.25" >0.01</text>
<text transform="translate(11.2,266.2) rotate(-90)" font-size="12.5" text-anchor="middle" fill="#231815">Normalized PL intensity</text>
<circle cx="172.8" cy="201.5" r="2.1" fill="none" stroke="#a3a3a3" stroke-width="0.8"/>
<circle cx="172.8" cy="213.2" r="2.1" fill="none" stroke="#f1b52a" stroke-width="0.8"/>
<text x="185.6" y="205.2" font-size="10" text-anchor="start" fill="#231815" stroke="#231815" stroke-width="0.25" >Control</text>
<text x="185.6" y="216.9" font-size="10" text-anchor="start" fill="#231815" stroke="#231815" stroke-width="0.25" >DCl</text>
<text x="165.4" y="283.0" font-size="10" text-anchor="start" fill="#f1b52a" stroke="#f1b52a" stroke-width="0.25" >τ = 470.1 ns</text>
<text x="61.2" y="315.7" font-size="10" text-anchor="start" fill="#a3a3a3" stroke="#a3a3a3" stroke-width="0.25" >τ = 288.6 ns</text>
<text x="237.0" y="200.0" font-size="25" text-anchor="start" fill="#231815" stroke="#231815" stroke-width="0.25" >e</text>
<text x="462.0" y="199.8" font-size="25" text-anchor="start" fill="#231815" stroke="#231815" stroke-width="0.25" >f</text>
<clipPath id="cfe"><rect x="255.3" y="192.3" width="187.3" height="148.6"/></clipPath>
<g clip-path="url(#cfe)"><g filter="url(#cmfe)">
<path fill="#a3a3a3" d="M249 186h24v6h-24zM309 186h6v6h-6zM333 186h30v6h-30zM375 186h54v6h-54zM441 186h12v6h-12zM249 192h6v6h-6zM339 192h18v6h-18zM375 192h12v6h-12zM399 192h24v6h-24zM447 192h6v6h-6zM345 198h12v6h-12zM381 198h6v6h-6zM399 198h6v6h-6zM447 198h6v6h-6zM249 204h6v6h-6zM351 204h6v6h-6zM369 204h6v6h-6zM405 204h6v6h-6zM447 204h6v6h-6zM249 210h6v6h-6zM273 210h6v6h-6zM333 210h6v6h-6zM351 210h12v6h-12zM447 210h6v6h-6zM249 216h6v6h-6zM273 216h6v6h-6zM333 216h6v6h-6zM345 216h12v6h-12zM447 216h6v6h-6zM249 222h6v6h-6zM423 222h6v6h-6zM447 222h6v6h-6zM447 228h6v6h-6zM447 234h6v6h-6zM441 240h12v6h-12zM327 246h12v6h-12zM381 246h6v6h-6zM441 246h12v6h-12zM321 252h12v6h-12zM441 252h12v6h-12zM291 258h6v6h-6zM315 258h18v6h-18zM441 258h12v6h-12zM249 264h6v6h-6zM321 264h6v6h-6zM441 264h12v6h-12zM381 270h6v6h-6zM447 270h6v6h-6zM369 276h6v6h-6zM381 276h12v6h-12zM447 276h6v6h-6zM369 282h12v6h-12zM447 282h6v6h-6zM447 288h6v6h-6zM447 294h6v6h-6zM447 300h6v6h-6zM339 306h6v6h-6zM441 306h12v6h-12zM333 312h6v6h-6zM441 312h12v6h-12zM447 318h6v6h-6zM447 324h6v6h-6zM369 330h6v6h-6zM447 330h6v6h-6zM333 336h6v6h-6zM447 336h6v6h-6zM249 342h6v6h-6zM285 342h6v6h-6zM315 342h30v6h-30zM363 342h72v6h-72zM441 342h12v6h-12zM249 348h204v6h-204z"/>
<path fill="#8e8e8e" d="M273 186h6v6h-6zM375 198h6v6h-6zM399 204h6v6h-6zM267 222h6v6h-6zM351 222h6v6h-6zM411 222h6v6h-6zM321 234h6v6h-6zM309 264h6v6h-6zM315 270h6v6h-6zM261 276h6v6h-6zM327 276h6v6h-6zM333 300h6v6h-6zM423 300h6v6h-6zM345 312h6v6h-6z"/>
<path fill="#7c7c7c" d="M279 186h6v6h-6zM255 198h6v6h-6zM273 204h6v6h-6zM387 204h6v6h-6zM369 210h6v6h-6zM405 210h6v6h-6zM261 222h6v6h-6zM315 222h6v6h-6zM357 222h6v6h-6zM393 234h6v6h-6zM423 270h6v6h-6zM417 276h6v6h-6zM249 306h6v6h-6zM357 312h6v6h-6zM381 324h6v6h-6zM339 330h6v6h-6zM381 336h6v6h-6zM411 336h6v6h-6zM435 336h6v6h-6z"/>
<path fill="#949494" d="M285 186h12v6h-12zM429 198h6v6h-6zM345 204h6v6h-6zM345 210h6v6h-6zM273 222h6v6h-6zM429 222h6v6h-6zM369 252h6v6h-6zM297 258h6v6h-6zM309 258h6v6h-6zM315 264h6v6h-6zM411 282h6v6h-6zM423 288h6v6h-6zM363 294h6v6h-6zM321 336h6v6h-6zM441 336h6v6h-6z"/>
<path fill="#9d9d9d" d="M297 186h6v6h-6zM309 192h6v6h-6zM255 204h6v6h-6zM327 210h6v6h-6zM327 216h6v6h-6zM339 216h6v6h-6zM357 216h6v6h-6zM435 216h6v6h-6zM423 228h6v6h-6zM435 246h6v6h-6zM249 252h6v6h-6zM249 258h6v6h-6zM297 264h6v6h-6zM321 270h6v6h-6zM387 270h6v6h-6zM249 276h6v6h-6zM351 276h6v6h-6zM393 276h6v6h-6zM345 282h6v6h-6zM381 282h6v6h-6zM339 300h6v6h-6zM339 336h6v6h-6zM255 342h6v6h-6zM279 342h6v6h-6zM297 342h6v6h-6zM357 342h6v6h-6z"/>
<path fill="#a0a0a0" d="M303 186h6v6h-6zM255 192h12v6h-12zM315 204h6v6h-6zM267 210h6v6h-6zM267 216h6v6h-6zM417 216h6v6h-6zM417 222h6v6h-6zM387 240h6v6h-6zM375 252h6v6h-6zM279 264h6v6h-6zM303 264h6v6h-6zM375 264h6v6h-6zM441 270h6v6h-6zM255 276h6v6h-6zM423 282h6v6h-6zM417 288h6v6h-6zM435 306h6v6h-6zM249 336h6v6h-6zM291 342h6v6h-6zM309 342h6v6h-6zM345 342h6v6h-6z"/>
<path fill="#a6a6a6" d="M315 186h6v6h-6zM369 186h6v6h-6zM429 186h6v6h-6zM339 198h6v6h-6zM393 198h6v6h-6zM261 204h6v6h-6zM357 204h6v6h-6zM345 222h6v6h-6zM441 234h6v6h-6zM333 240h6v6h-6zM279 258h6v6h-6zM291 264h6v6h-6zM327 264h6v6h-6zM363 300h6v6h-6zM381 318h6v6h-6zM441 318h6v6h-6zM441 324h6v6h-6zM441 330h6v6h-6zM369 336h6v6h-6zM429 336h6v6h-6z"/>
<path fill="#acacac" d="M321 186h6v6h-6zM435 186h6v6h-6zM387 198h6v6h-6zM261 216h6v6h-6zM339 222h6v6h-6zM375 246h6v6h-6zM327 270h6v6h-6zM351 270h6v6h-6zM375 318h6v6h-6zM423 318h18v6h-18zM423 324h18v6h-18zM423 330h12v6h-12z"/>
<path fill="#a9a9a9" d="M327 186h6v6h-6zM363 186h6v6h-6zM441 192h6v6h-6zM411 204h6v6h-6zM423 210h6v6h-6zM255 216h6v6h-6zM255 222h6v6h-6zM435 240h6v6h-6zM249 270h12v6h-12zM339 294h6v6h-6zM429 312h12v6h-12zM435 330h6v6h-6zM423 336h6v6h-6z"/>
<path fill="#8b8b8b" d="M267 192h6v6h-6zM429 192h6v6h-6zM309 198h6v6h-6zM279 216h6v6h-6zM411 216h6v6h-6zM411 228h6v6h-6zM327 240h6v6h-6zM285 246h6v6h-6zM333 252h6v6h-6zM303 258h6v6h-6zM255 264h6v6h-6zM297 270h6v6h-6zM429 270h6v6h-6zM399 276h6v6h-6zM381 288h6v6h-6zM333 294h6v6h-6zM387 294h6v6h-6zM423 294h6v6h-6zM387 306h6v6h-6zM249 324h6v6h-6zM375 324h6v6h-6zM363 336h6v6h-6zM399 336h6v6h-6z"/>
<path fill="#616161" d="M273 192h6v6h-6zM309 210h6v6h-6zM375 210h6v6h-6zM399 210h6v6h-6zM279 228h6v6h-6zM405 240h6v6h-6zM255 252h6v6h-6zM309 252h6v6h-6zM261 264h6v6h-6zM285 276h6v6h-6zM261 282h6v6h-6zM321 318h6v6h-6zM393 318h6v6h-6zM279 324h6v6h-6zM315 324h6v6h-6z"/>
<path fill="#525252" d="M279 192h18v6h-18zM381 210h6v6h-6zM399 216h6v6h-6zM261 228h12v6h-12zM255 234h6v6h-6zM297 240h6v6h-6zM369 240h6v6h-6zM273 252h6v6h-6zM405 270h6v6h-6zM279 282h6v6h-6zM291 282h6v6h-6zM327 288h6v6h-6zM357 288h6v6h-6zM327 294h6v6h-6zM351 300h6v6h-6zM393 300h6v6h-6zM309 306h6v6h-6zM357 318h6v6h-6zM405 318h6v6h-6zM399 324h12v6h-12zM255 336h6v6h-6z"/>
<path fill="#5e5e5e" d="M297 192h6v6h-6zM303 198h6v6h-6zM351 246h6v6h-6zM297 252h6v6h-6zM291 276h6v6h-6zM315 276h6v6h-6zM327 282h6v6h-6zM315 312h6v6h-6zM327 318h6v6h-6zM321 324h6v6h-6zM333 324h6v6h-6zM363 324h6v6h-6zM393 324h6v6h-6z"/>
<path fill="#797979" d="M303 192h6v6h-6zM267 198h6v6h-6zM315 234h6v6h-6zM345 234h6v6h-6zM399 234h6v6h-6zM333 264h6v6h-6zM405 276h6v6h-6zM387 282h6v6h-6zM345 288h6v6h-6zM249 294h6v6h-6zM249 300h6v6h-6zM345 300h6v6h-6zM351 306h6v6h-6zM249 312h6v6h-6zM423 312h6v6h-6zM369 324h6v6h-6z"/>
<path fill="#cdcdcd" d="M315 192h6v6h-6zM315 198h6v6h-6zM369 312h6v6h-6z"/>
<path fill="#d9d9d9" d="M321 192h6v6h-6zM327 198h6v6h-6zM369 264h6v6h-6zM381 300h6v6h-6zM375 312h6v6h-6z"/>
<path fill="#d6d6d6" d="M327 192h6v6h-6zM381 306h6v6h-6z"/>
<path fill="#b5b5b5" d="M333 192h6v6h-6zM357 192h6v6h-6zM405 198h6v6h-6zM333 204h6v6h-6zM321 216h6v6h-6zM333 234h6v6h-6zM369 288h6v6h-6zM363 306h6v6h-6z"/>
<path fill="#c4c4c4" d="M363 192h6v6h-6zM387 192h6v6h-6zM417 204h12v6h-12zM441 216h6v6h-6zM435 228h6v6h-6z"/>
<path fill="#919191" d="M369 192h6v6h-6zM339 204h6v6h-6zM279 210h6v6h-6zM339 210h6v6h-6zM345 228h6v6h-6zM249 246h6v6h-6zM339 246h6v6h-6zM345 252h6v6h-6zM363 252h6v6h-6zM381 252h6v6h-6zM351 258h6v6h-6zM249 282h6v6h-6zM399 282h6v6h-6zM411 288h6v6h-6zM375 336h6v6h-6z"/>
<path fill="#bebebe" d="M393 192h6v6h-6zM435 192h6v6h-6zM333 198h6v6h-6zM321 204h6v6h-6zM435 204h6v6h-6zM327 228h6v6h-6zM285 258h6v6h-6zM285 264h6v6h-6z"/>
<path fill="#888888" d="M423 192h6v6h-6zM369 198h6v6h-6zM315 210h6v6h-6zM363 216h6v6h-6zM339 240h6v6h-6zM315 252h6v6h-6zM345 264h6v6h-6zM435 264h6v6h-6zM261 270h6v6h-6zM279 270h18v6h-18zM393 270h6v6h-6zM363 282h6v6h-6zM417 294h6v6h-6zM417 312h6v6h-6zM369 318h6v6h-6zM417 324h6v6h-6z"/>
<path fill="#828282" d="M249 198h6v6h-6zM393 204h6v6h-6zM417 228h6v6h-6zM375 234h6v6h-6zM405 234h6v6h-6zM429 240h6v6h-6zM291 252h6v6h-6zM345 258h6v6h-6zM429 264h6v6h-6zM303 270h6v6h-6zM435 270h6v6h-6zM429 276h6v6h-6zM255 282h6v6h-6zM393 282h6v6h-6zM249 288h6v6h-6zM399 288h12v6h-12zM357 306h6v6h-6zM327 312h6v6h-6zM315 336h6v6h-6zM261 342h6v6h-6zM273 342h6v6h-6z"/>
<path fill="#9a9a9a" d="M261 198h6v6h-6zM249 228h6v6h-6zM387 246h6v6h-6zM375 258h6v6h-6zM375 270h6v6h-6zM333 288h6v6h-6zM429 300h6v6h-6zM441 300h6v6h-6zM333 306h6v6h-6zM345 306h6v6h-6zM363 312h6v6h-6zM387 312h6v6h-6zM249 330h6v6h-6zM417 330h6v6h-6zM393 336h6v6h-6zM417 336h6v6h-6zM351 342h6v6h-6zM435 342h6v6h-6z"/>
<path fill="#585858" d="M273 198h6v6h-6zM285 204h6v6h-6zM303 204h6v6h-6zM309 216h6v6h-6zM273 228h6v6h-6zM297 246h6v6h-6zM399 246h6v6h-6zM381 258h6v6h-6zM267 264h6v6h-6zM423 264h6v6h-6zM327 300h6v6h-6zM357 300h6v6h-6zM315 306h6v6h-6zM393 306h6v6h-6zM309 312h6v6h-6zM399 312h12v6h-12zM279 318h6v6h-6zM411 318h6v6h-6zM411 324h6v6h-6zM405 330h6v6h-6z"/>
<path fill="#4c4c4c" d="M279 198h18v6h-18zM387 210h6v6h-6zM375 222h6v6h-6zM357 228h6v6h-6zM279 234h6v6h-6zM393 264h12v6h-12zM441 282h6v6h-6zM291 288h6v6h-6zM285 294h6v6h-6zM351 294h6v6h-6zM435 294h6v6h-6zM315 300h6v6h-6zM351 330h6v6h-6z"/>
<path fill="#4f4f4f" d="M297 198h6v6h-6zM309 222h6v6h-6zM255 240h6v6h-6zM279 240h6v6h-6zM399 252h6v6h-6zM261 258h6v6h-6zM285 288h6v6h-6zM351 288h6v6h-6zM357 294h6v6h-6zM405 294h6v6h-6zM303 306h6v6h-6zM279 312h12v6h-12zM351 318h6v6h-6zM357 330h6v6h-6z"/>
<path fill="#dcdcdc" d="M321 198h6v6h-6z"/>
<path fill="#b8b8b8" d="M357 198h6v6h-6zM411 198h6v6h-6zM429 210h6v6h-6zM339 228h6v6h-6zM429 228h6v6h-6zM435 234h6v6h-6zM351 264h6v6h-6zM339 276h6v6h-6z"/>
<path fill="#c7c7c7" d="M363 198h6v6h-6zM435 198h6v6h-6zM261 210h6v6h-6zM441 210h6v6h-6zM369 294h6v6h-6z"/>
<path fill="#979797" d="M417 198h12v6h-12zM267 204h6v6h-6zM363 210h6v6h-6zM411 210h6v6h-6zM435 222h6v6h-6zM327 234h6v6h-6zM381 234h12v6h-12zM429 234h6v6h-6zM375 240h6v6h-6zM393 240h6v6h-6zM321 246h6v6h-6zM279 252h6v6h-6zM435 258h6v6h-6zM423 276h6v6h-6zM417 282h6v6h-6zM429 306h6v6h-6zM387 318h6v6h-6zM303 342h6v6h-6z"/>
<path fill="#b2b2b2" d="M441 198h6v6h-6zM363 204h6v6h-6zM255 210h6v6h-6zM321 210h6v6h-6zM417 210h6v6h-6zM321 222h6v6h-6zM333 282h6v6h-6zM339 288h6v6h-6zM327 336h6v6h-6z"/>
<path fill="#646464" d="M279 204h6v6h-6zM351 228h6v6h-6zM387 228h6v6h-6zM285 240h12v6h-12zM273 258h6v6h-6zM381 264h6v6h-6zM441 288h6v6h-6zM411 312h6v6h-6zM303 318h6v6h-6zM333 318h6v6h-6zM411 330h6v6h-6z"/>
<path fill="#313131" d="M291 204h6v6h-6zM303 216h6v6h-6zM423 258h6v6h-6zM405 264h6v6h-6zM267 282h6v6h-6zM261 306h6v6h-6zM279 330h6v6h-6z"/>
<path fill="#222222" d="M297 204h6v6h-6zM393 216h6v6h-6zM297 234h6v6h-6zM261 324h12v6h-12z"/>
<path fill="#767676" d="M309 204h6v6h-6zM363 222h6v6h-6zM255 228h6v6h-6zM399 240h6v6h-6zM255 258h6v6h-6zM363 288h6v6h-6zM435 300h6v6h-6zM417 318h6v6h-6z"/>
<path fill="#bbbbbb" d="M327 204h6v6h-6zM441 204h6v6h-6zM363 276h6v6h-6zM339 282h6v6h-6zM375 288h6v6h-6z"/>
<path fill="#737373" d="M375 204h6v6h-6zM399 228h6v6h-6zM315 240h6v6h-6zM315 246h6v6h-6zM429 246h6v6h-6zM267 276h6v6h-6zM411 276h6v6h-6zM249 318h6v6h-6zM333 330h6v6h-6zM375 330h6v6h-6zM393 330h6v6h-6zM309 336h6v6h-6z"/>
<path fill="#7f7f7f" d="M381 204h6v6h-6zM429 204h6v6h-6zM315 216h6v6h-6zM429 216h6v6h-6zM441 222h6v6h-6zM249 234h6v6h-6zM249 240h6v6h-6zM387 324h6v6h-6zM285 336h6v6h-6zM345 336h6v6h-6z"/>
<path fill="#676767" d="M285 210h6v6h-6zM369 216h6v6h-6zM405 216h6v6h-6zM369 222h6v6h-6zM381 228h6v6h-6zM393 228h6v6h-6zM411 234h6v6h-6zM339 258h6v6h-6zM297 276h6v6h-6zM321 276h6v6h-6zM351 282h6v6h-6zM387 288h12v6h-12zM411 294h6v6h-6zM429 294h6v6h-6zM441 294h6v6h-6zM423 306h6v6h-6zM297 324h12v6h-12zM339 324h6v6h-6zM285 330h42v6h-42zM363 330h6v6h-6zM351 336h6v6h-6z"/>
<path fill="#070707" d="M291 210h6v6h-6zM363 240h6v6h-6zM303 282h6v6h-6zM273 288h6v6h-6zM405 300h6v6h-6zM291 306h6v6h-6zM267 336h6v6h-6z"/>
<path fill="#010101" d="M297 210h6v6h-6zM297 216h6v6h-6zM387 216h6v6h-6zM303 228h6v6h-6zM303 234h6v6h-6zM357 240h6v6h-6zM417 246h6v6h-6zM411 252h12v6h-12zM411 258h6v6h-6zM309 282h6v6h-6zM303 288h12v6h-12zM267 294h12v6h-12zM267 300h6v6h-6z"/>
<path fill="#373737" d="M303 210h6v6h-6zM351 240h6v6h-6zM435 282h6v6h-6zM279 288h6v6h-6zM297 294h6v6h-6zM261 318h6v6h-6z"/>
<path fill="#555555" d="M393 210h6v6h-6zM285 216h6v6h-6zM285 222h6v6h-6zM399 222h6v6h-6zM363 228h6v6h-6zM291 234h6v6h-6zM369 234h6v6h-6zM255 246h6v6h-6zM303 246h6v6h-6zM393 252h6v6h-6zM387 264h6v6h-6zM435 276h6v6h-6zM285 282h6v6h-6zM399 294h6v6h-6zM321 300h6v6h-6zM303 312h6v6h-6zM399 318h6v6h-6zM345 324h6v6h-6z"/>
<path fill="#cacaca" d="M435 210h6v6h-6zM369 258h6v6h-6zM381 294h6v6h-6z"/>
<path fill="#040404" d="M291 216h6v6h-6zM381 216h6v6h-6zM357 234h6v6h-6zM417 258h6v6h-6zM267 288h6v6h-6zM309 294h6v6h-6zM273 300h6v6h-6zM267 330h6v6h-6z"/>
<path fill="#3d3d3d" d="M375 216h6v6h-6zM351 234h6v6h-6zM357 246h6v6h-6zM261 312h12v6h-12z"/>
<path fill="#858585" d="M423 216h6v6h-6zM279 222h6v6h-6zM405 228h6v6h-6zM321 240h6v6h-6zM345 246h6v6h-6zM393 246h6v6h-6zM351 252h12v6h-12zM435 252h6v6h-6zM333 270h18v6h-18zM375 276h6v6h-6zM441 276h6v6h-6zM405 282h6v6h-6zM387 300h6v6h-6zM387 336h6v6h-6zM405 336h6v6h-6z"/>
<path fill="#1c1c1c" d="M291 222h6v6h-6zM417 240h6v6h-6zM315 294h6v6h-6zM297 300h6v6h-6zM273 306h6v6h-6z"/>
<path fill="#101010" d="M297 222h6v6h-6zM405 306h6v6h-6zM255 318h6v6h-6zM255 324h6v6h-6z"/>
<path fill="#343434" d="M303 222h6v6h-6zM393 222h6v6h-6zM273 282h6v6h-6zM297 282h6v6h-6zM309 300h6v6h-6z"/>
<path fill="#c1c1c1" d="M327 222h12v6h-12zM333 228h6v6h-6zM369 270h6v6h-6zM381 312h6v6h-6z"/>
<path fill="#131313" d="M381 222h6v6h-6zM423 246h6v6h-6zM423 252h6v6h-6zM315 282h6v6h-6zM267 306h6v6h-6zM255 312h6v6h-6zM261 336h6v6h-6zM273 336h6v6h-6z"/>
<path fill="#0a0a0a" d="M387 222h6v6h-6zM363 234h6v6h-6zM411 246h6v6h-6zM315 288h6v6h-6zM399 300h6v6h-6zM261 330h6v6h-6zM273 330h6v6h-6z"/>
<path fill="#6d6d6d" d="M405 222h6v6h-6zM423 234h6v6h-6zM345 240h6v6h-6zM279 246h6v6h-6zM369 246h6v6h-6zM339 252h6v6h-6zM333 258h6v6h-6zM273 264h6v6h-6zM273 270h6v6h-6zM399 270h6v6h-6zM279 276h6v6h-6zM255 288h6v6h-6zM309 318h6v6h-6zM339 318h6v6h-6zM387 330h6v6h-6z"/>
<path fill="#5b5b5b" d="M285 228h6v6h-6zM285 234h6v6h-6zM417 234h6v6h-6zM309 240h6v6h-6zM309 246h6v6h-6zM303 252h6v6h-6zM429 252h6v6h-6zM417 270h6v6h-6zM429 288h6v6h-6zM255 300h6v6h-6zM321 306h6v6h-6zM273 318h6v6h-6zM285 318h18v6h-18zM345 318h6v6h-6zM327 324h6v6h-6zM345 330h6v6h-6zM399 330h6v6h-6z"/>
<path fill="#494949" d="M291 228h6v6h-6zM261 234h6v6h-6zM273 234h6v6h-6zM261 246h6v6h-6zM273 246h6v6h-6zM261 252h6v6h-6zM267 258h6v6h-6zM387 258h6v6h-6zM411 270h6v6h-6zM321 282h6v6h-6zM321 294h6v6h-6zM285 300h6v6h-6zM411 306h6v6h-6zM273 312h6v6h-6zM267 318h6v6h-6z"/>
<path fill="#282828" d="M297 228h6v6h-6zM303 240h6v6h-6zM297 288h6v6h-6zM279 294h6v6h-6z"/>
<path fill="#161616" d="M309 228h6v6h-6zM411 264h6v6h-6zM261 294h6v6h-6z"/>
<path fill="#6a6a6a" d="M315 228h6v6h-6zM369 228h6v6h-6zM387 252h6v6h-6zM429 258h6v6h-6zM255 294h6v6h-6zM345 294h6v6h-6zM393 294h6v6h-6zM417 306h6v6h-6zM321 312h6v6h-6zM315 318h6v6h-6zM285 324h12v6h-12zM309 324h6v6h-6zM327 330h6v6h-6zM381 330h6v6h-6zM297 336h12v6h-12zM357 336h6v6h-6z"/>
<path fill="#afafaf" d="M321 228h6v6h-6zM441 228h6v6h-6zM339 234h6v6h-6zM381 240h6v6h-6zM285 252h6v6h-6zM333 276h6v6h-6zM345 276h6v6h-6zM357 276h6v6h-6zM339 312h6v6h-6z"/>
<path fill="#707070" d="M375 228h6v6h-6zM291 246h6v6h-6zM339 264h6v6h-6zM267 270h6v6h-6zM309 270h6v6h-6zM273 276h6v6h-6zM357 282h6v6h-6zM429 282h6v6h-6zM417 300h6v6h-6zM327 306h6v6h-6zM351 312h6v6h-6zM393 312h6v6h-6zM363 318h6v6h-6zM291 336h6v6h-6zM267 342h6v6h-6z"/>
<path fill="#464646" d="M267 234h6v6h-6zM261 240h18v6h-18zM267 246h6v6h-6zM363 246h6v6h-6zM267 252h6v6h-6zM393 258h12v6h-12zM435 288h6v6h-6zM285 306h6v6h-6z"/>
<path fill="#0d0d0d" d="M309 234h6v6h-6zM303 294h6v6h-6zM291 300h6v6h-6zM297 306h6v6h-6z"/>
<path fill="#3a3a3a" d="M411 240h6v6h-6zM303 300h6v6h-6zM411 300h6v6h-6zM351 324h6v6h-6z"/>
<path fill="#2e2e2e" d="M423 240h6v6h-6zM309 276h6v6h-6zM279 300h6v6h-6zM297 312h6v6h-6z"/>
<path fill="#404040" d="M405 246h6v6h-6zM303 276h6v6h-6zM321 288h6v6h-6zM255 306h6v6h-6zM273 324h6v6h-6z"/>
<path fill="#252525" d="M405 252h6v6h-6zM417 264h6v6h-6z"/>
<path fill="#ebebeb" d="M357 258h6v6h-6z"/>
<path fill="#f4f4f4" d="M363 258h6v6h-6z"/>
<path fill="#1f1f1f" d="M405 258h6v6h-6zM255 330h6v6h-6z"/>
<path fill="#fdfdfd" d="M357 264h6v6h-6z"/>
<path fill="#ffffff" d="M363 264h6v6h-6z"/>
<path fill="#eeeeee" d="M357 270h6v6h-6z"/>
<path fill="#f7f7f7" d="M363 270h6v6h-6z"/>
<path fill="#2b2b2b" d="M261 288h6v6h-6z"/>
<path fill="#434343" d="M291 294h6v6h-6zM279 306h6v6h-6zM357 324h6v6h-6zM279 336h6v6h-6z"/>
<path fill="#dfdfdf" d="M375 294h6v6h-6z"/>
<path fill="#191919" d="M261 300h6v6h-6zM399 306h6v6h-6zM291 312h6v6h-6z"/>
<path fill="#e2e2e2" d="M369 300h6v6h-6zM369 306h6v6h-6z"/>
<path fill="#e5e5e5" d="M375 300h6v6h-6zM375 306h6v6h-6z"/>
</g>
<rect x="255.3" y="192.3" width="187.3" height="148.6" filter="url(#grain)" opacity="0.42"/>
</g>
<rect x="255.30" y="341.20" width="187.30" height="7.90" fill="url(#jet)" />
<text x="346.1" y="362.0" font-size="12.1" text-anchor="middle" fill="#231815" stroke="#231815" stroke-width="0.25" >Lifetime intensity (Normal.)</text>
<text x="261.3" y="208.0" font-size="12" text-anchor="start" fill="#fff" stroke="#fff" stroke-width="0.25" >Control</text>
<rect x="378.80" y="328.00" width="54.50" height="3.70" fill="#fff" />
<text x="406.5" y="322.0" font-size="12" text-anchor="middle" fill="#fff" stroke="#fff" stroke-width="0.25" >2 μm</text>
<clipPath id="cff"><rect x="479.6" y="192.3" width="186.6" height="148.6"/></clipPath>
<g clip-path="url(#cff)"><g filter="url(#cmff)">
<path fill="#949494" d="M473 186h6v6h-6zM497 186h12v6h-12zM569 186h12v6h-12zM635 186h42v6h-42zM497 192h6v6h-6zM641 192h36v6h-36zM659 198h18v6h-18zM473 204h6v6h-6zM497 204h6v6h-6zM575 204h6v6h-6zM659 204h18v6h-18zM473 210h6v6h-6zM557 210h24v6h-24zM605 210h6v6h-6zM665 210h12v6h-12zM533 216h6v6h-6zM569 216h12v6h-12zM605 216h24v6h-24zM659 216h18v6h-18zM575 222h6v6h-6zM611 222h66v6h-66zM473 228h6v6h-6zM575 228h12v6h-12zM653 228h24v6h-24zM575 234h18v6h-18zM605 234h6v6h-6zM653 234h24v6h-24zM575 240h24v6h-24zM659 240h18v6h-18zM569 246h36v6h-36zM653 246h24v6h-24zM473 252h6v6h-6zM497 252h6v6h-6zM563 252h36v6h-36zM653 252h24v6h-24zM473 258h6v6h-6zM491 258h42v6h-42zM563 258h12v6h-12zM653 258h24v6h-24zM473 264h6v6h-6zM497 264h24v6h-24zM659 264h18v6h-18zM497 270h18v6h-18zM659 270h18v6h-18zM497 276h18v6h-18zM605 276h18v6h-18zM665 276h12v6h-12zM473 282h6v6h-6zM497 282h18v6h-18zM605 282h24v6h-24zM665 282h12v6h-12zM473 288h12v6h-12zM491 288h6v6h-6zM611 288h30v6h-30zM671 288h6v6h-6zM617 294h24v6h-24zM671 294h6v6h-6zM563 300h6v6h-6zM623 300h30v6h-30zM671 300h6v6h-6zM527 306h6v6h-6zM623 306h30v6h-30zM671 306h6v6h-6zM623 312h30v6h-30zM671 312h6v6h-6zM527 318h6v6h-6zM623 318h30v6h-30zM671 318h6v6h-6zM515 324h6v6h-6zM593 324h6v6h-6zM617 324h42v6h-42zM665 324h12v6h-12zM605 330h72v6h-72zM473 336h6v6h-6zM605 336h72v6h-72zM473 342h12v6h-12zM515 342h18v6h-18zM557 342h120v6h-120zM473 348h204v6h-204z"/>
<path fill="#8b8b8b" d="M479 186h6v6h-6zM479 204h6v6h-6zM497 210h6v6h-6zM521 210h6v6h-6zM527 216h6v6h-6zM605 228h6v6h-6zM533 240h6v6h-6zM527 246h12v6h-12zM605 252h6v6h-6zM593 258h6v6h-6zM647 258h6v6h-6zM635 282h6v6h-6zM617 300h6v6h-6zM575 312h6v6h-6zM617 312h6v6h-6zM557 318h6v6h-6zM509 324h6v6h-6zM503 342h6v6h-6z"/>
<path fill="#888888" d="M485 186h6v6h-6zM599 192h6v6h-6zM485 204h6v6h-6zM557 216h6v6h-6zM581 216h6v6h-6zM491 228h6v6h-6zM527 240h6v6h-6zM629 258h6v6h-6zM653 264h6v6h-6zM599 270h6v6h-6zM617 270h6v6h-6zM641 282h6v6h-6zM485 294h6v6h-6zM473 300h6v6h-6zM533 300h6v6h-6zM557 300h6v6h-6zM617 306h6v6h-6zM605 324h6v6h-6zM479 336h6v6h-6z"/>
<path fill="#919191" d="M491 186h6v6h-6zM581 186h6v6h-6zM599 186h6v6h-6zM491 204h6v6h-6zM563 216h6v6h-6zM569 222h6v6h-6zM581 222h6v6h-6zM569 240h6v6h-6zM599 240h6v6h-6zM479 252h6v6h-6zM491 252h6v6h-6zM503 252h6v6h-6zM539 252h24v6h-24zM659 276h6v6h-6zM665 288h6v6h-6zM473 294h6v6h-6zM641 294h6v6h-6zM527 312h6v6h-6zM491 318h6v6h-6zM575 318h12v6h-12zM617 318h6v6h-6zM611 324h6v6h-6zM473 330h6v6h-6zM515 330h6v6h-6zM515 336h6v6h-6zM509 342h6v6h-6z"/>
<path fill="#979797" d="M509 186h6v6h-6zM563 186h6v6h-6zM605 186h6v6h-6zM629 186h6v6h-6zM635 192h6v6h-6zM497 198h6v6h-6zM653 198h6v6h-6zM503 204h6v6h-6zM527 210h6v6h-6zM551 210h6v6h-6zM659 210h6v6h-6zM629 216h6v6h-6zM611 228h6v6h-6zM647 228h6v6h-6zM653 240h6v6h-6zM605 246h6v6h-6zM647 252h6v6h-6zM479 258h12v6h-12zM533 258h6v6h-6zM557 258h6v6h-6zM575 258h6v6h-6zM587 258h6v6h-6zM599 276h6v6h-6zM599 282h6v6h-6zM485 288h6v6h-6zM527 300h6v6h-6zM665 318h6v6h-6zM659 324h6v6h-6zM599 336h6v6h-6zM533 342h6v6h-6zM551 342h6v6h-6z"/>
<path fill="#9a9a9a" d="M515 186h6v6h-6zM575 192h6v6h-6zM533 210h6v6h-6zM545 210h6v6h-6zM611 210h6v6h-6zM623 210h6v6h-6zM653 216h6v6h-6zM539 258h6v6h-6zM551 258h6v6h-6zM581 258h6v6h-6zM491 264h6v6h-6zM521 264h6v6h-6zM515 270h6v6h-6zM491 282h6v6h-6zM497 288h6v6h-6zM665 294h6v6h-6zM581 306h6v6h-6zM521 318h6v6h-6zM521 324h6v6h-6zM563 324h12v6h-12zM521 336h6v6h-6zM563 336h12v6h-12zM539 342h12v6h-12z"/>
<path fill="#a0a0a0" d="M521 186h6v6h-6zM503 192h6v6h-6zM647 198h6v6h-6zM509 204h6v6h-6zM473 222h6v6h-6zM479 228h12v6h-12zM641 228h6v6h-6zM617 252h6v6h-6zM641 252h6v6h-6zM569 264h6v6h-6zM593 270h6v6h-6zM515 276h6v6h-6zM515 282h6v6h-6zM503 288h18v6h-18zM491 294h6v6h-6zM569 300h6v6h-6zM599 330h6v6h-6z"/>
<path fill="#a9a9a9" d="M527 186h6v6h-6zM545 186h6v6h-6zM503 198h6v6h-6zM479 210h6v6h-6zM491 210h6v6h-6zM563 264h6v6h-6zM587 264h6v6h-6zM521 270h6v6h-6zM521 288h6v6h-6zM563 294h6v6h-6zM569 330h6v6h-6z"/>
<path fill="#acacac" d="M533 186h12v6h-12zM563 204h6v6h-6zM605 204h6v6h-6zM635 216h6v6h-6zM575 264h6v6h-6zM545 294h6v6h-6zM665 300h6v6h-6zM575 324h6v6h-6zM575 336h6v6h-6z"/>
<path fill="#a3a3a3" d="M551 186h6v6h-6zM635 198h6v6h-6zM527 264h6v6h-6zM527 294h6v6h-6zM491 312h6v6h-6zM653 318h6v6h-6z"/>
<path fill="#9d9d9d" d="M557 186h6v6h-6zM575 198h6v6h-6zM569 204h6v6h-6zM539 210h6v6h-6zM617 210h6v6h-6zM473 216h6v6h-6zM605 240h6v6h-6zM545 258h6v6h-6zM473 270h6v6h-6zM473 276h6v6h-6zM659 294h6v6h-6zM575 306h6v6h-6z"/>
<path fill="#7f7f7f" d="M587 186h12v6h-12zM473 192h6v6h-6zM473 198h6v6h-6zM599 198h6v6h-6zM515 210h6v6h-6zM581 210h6v6h-6zM599 210h6v6h-6zM551 216h6v6h-6zM599 222h6v6h-6zM593 228h12v6h-12zM557 246h6v6h-6zM605 258h12v6h-12zM635 258h12v6h-12zM605 264h12v6h-12zM647 282h12v6h-12zM647 288h12v6h-12zM479 294h6v6h-6zM587 300h6v6h-6zM563 312h12v6h-12zM473 318h6v6h-6zM587 318h6v6h-6zM509 336h6v6h-6z"/>
<path fill="#a6a6a6" d="M611 186h6v6h-6zM623 186h6v6h-6zM569 192h6v6h-6zM641 198h6v6h-6zM629 210h6v6h-6zM491 222h6v6h-6zM617 228h6v6h-6zM647 234h6v6h-6zM647 246h6v6h-6zM521 294h6v6h-6zM665 312h6v6h-6zM497 318h6v6h-6zM521 330h6v6h-6zM563 330h6v6h-6zM593 336h6v6h-6z"/>
<path fill="#afafaf" d="M617 186h6v6h-6zM569 198h6v6h-6zM653 204h6v6h-6zM635 228h6v6h-6zM611 234h6v6h-6zM611 246h6v6h-6zM635 252h6v6h-6zM491 270h6v6h-6zM491 276h6v6h-6zM533 294h12v6h-12zM665 306h6v6h-6zM515 318h6v6h-6zM527 324h6v6h-6zM557 324h6v6h-6zM587 324h6v6h-6zM527 336h6v6h-6zM557 336h6v6h-6z"/>
<path fill="#6d6d6d" d="M479 192h12v6h-12zM479 198h12v6h-12zM587 198h12v6h-12zM587 210h12v6h-12zM557 222h6v6h-6zM497 240h6v6h-6zM629 264h6v6h-6zM641 276h6v6h-6zM485 300h6v6h-6zM485 336h6v6h-6z"/>
<path fill="#767676" d="M491 192h6v6h-6zM491 198h6v6h-6zM521 216h6v6h-6zM521 240h6v6h-6zM509 246h6v6h-6zM551 246h6v6h-6zM647 276h6v6h-6zM545 300h6v6h-6zM509 330h6v6h-6z"/>
<path fill="#b2b2b2" d="M509 192h6v6h-6zM515 204h6v6h-6zM647 216h6v6h-6zM623 228h6v6h-6zM647 240h6v6h-6zM623 252h6v6h-6zM533 264h6v6h-6zM593 288h6v6h-6zM551 294h12v6h-12zM587 294h6v6h-6zM491 306h6v6h-6zM521 312h6v6h-6zM587 336h6v6h-6z"/>
<path fill="#c4c4c4" d="M515 192h6v6h-6zM563 198h6v6h-6zM635 204h6v6h-6zM641 234h6v6h-6zM641 246h6v6h-6zM587 270h6v6h-6zM653 306h6v6h-6zM533 324h6v6h-6zM527 330h6v6h-6zM557 330h6v6h-6zM533 336h6v6h-6zM551 336h6v6h-6z"/>
<path fill="#d0d0d0" d="M521 192h6v6h-6zM515 198h6v6h-6zM533 204h6v6h-6zM545 204h6v6h-6zM485 216h6v6h-6zM641 240h6v6h-6zM485 270h6v6h-6zM485 276h6v6h-6zM527 276h6v6h-6zM587 276h6v6h-6zM527 282h6v6h-6z"/>
<path fill="#d6d6d6" d="M527 192h6v6h-6zM545 192h6v6h-6zM617 204h6v6h-6zM623 234h6v6h-6zM635 234h6v6h-6zM617 240h6v6h-6zM623 246h6v6h-6zM635 246h6v6h-6zM557 270h6v6h-6zM563 276h6v6h-6zM581 276h6v6h-6zM563 282h6v6h-6zM575 282h18v6h-18zM557 288h6v6h-6zM581 288h6v6h-6zM497 306h6v6h-6zM515 306h6v6h-6zM539 330h12v6h-12z"/>
<path fill="#d9d9d9" d="M533 192h12v6h-12zM611 192h6v6h-6zM623 192h6v6h-6zM521 198h6v6h-6zM551 198h6v6h-6zM629 234h6v6h-6zM629 246h6v6h-6zM539 270h6v6h-6zM539 288h6v6h-6zM503 300h12v6h-12zM503 312h12v6h-12z"/>
<path fill="#d3d3d3" d="M551 192h6v6h-6zM557 198h6v6h-6zM539 204h6v6h-6zM533 270h6v6h-6zM575 276h6v6h-6zM533 288h6v6h-6zM575 288h6v6h-6zM587 288h6v6h-6zM581 294h6v6h-6zM497 300h6v6h-6zM515 300h6v6h-6zM533 330h6v6h-6zM551 330h6v6h-6z"/>
<path fill="#c7c7c7" d="M557 192h6v6h-6zM605 198h6v6h-6zM551 204h6v6h-6zM647 204h6v6h-6zM635 210h6v6h-6zM563 270h6v6h-6zM575 270h6v6h-6zM563 288h12v6h-12zM545 324h6v6h-6z"/>
<path fill="#b8b8b8" d="M563 192h6v6h-6zM491 216h6v6h-6zM641 216h6v6h-6zM629 228h6v6h-6zM629 252h6v6h-6zM521 276h6v6h-6zM521 282h6v6h-6zM521 300h6v6h-6zM581 300h6v6h-6zM653 300h6v6h-6zM503 318h6v6h-6z"/>
<path fill="#858585" d="M581 192h6v6h-6zM599 216h6v6h-6zM587 222h6v6h-6zM533 228h6v6h-6zM533 234h6v6h-6zM593 234h6v6h-6zM473 246h6v6h-6zM497 246h6v6h-6zM617 258h6v6h-6zM605 270h12v6h-12zM623 276h6v6h-6zM653 276h6v6h-6zM659 282h6v6h-6zM659 288h6v6h-6zM611 294h6v6h-6zM647 294h12v6h-12zM569 306h6v6h-6zM563 318h12v6h-12zM491 342h6v6h-6z"/>
<path fill="#707070" d="M587 192h12v6h-12zM563 234h6v6h-6zM473 240h6v6h-6zM491 246h6v6h-6zM647 264h6v6h-6zM605 294h6v6h-6zM611 300h6v6h-6z"/>
<path fill="#bbbbbb" d="M605 192h6v6h-6zM629 192h6v6h-6zM557 204h6v6h-6zM485 210h6v6h-6zM569 270h6v6h-6zM593 282h6v6h-6zM497 294h6v6h-6zM515 294h6v6h-6zM575 300h6v6h-6zM653 312h6v6h-6zM575 330h6v6h-6z"/>
<path fill="#dfdfdf" d="M617 192h6v6h-6zM611 198h18v6h-18zM539 276h24v6h-24zM539 282h24v6h-24z"/>
<path fill="#bebebe" d="M509 198h6v6h-6zM611 240h6v6h-6zM485 264h6v6h-6zM539 264h6v6h-6zM551 264h6v6h-6zM485 282h6v6h-6zM521 306h6v6h-6zM509 318h6v6h-6zM581 330h12v6h-12z"/>
<path fill="#dcdcdc" d="M527 198h24v6h-24zM623 240h18v6h-18zM545 270h12v6h-12zM533 276h6v6h-6zM533 282h6v6h-6zM545 288h12v6h-12zM503 306h12v6h-12z"/>
<path fill="#7c7c7c" d="M581 198h6v6h-6zM503 210h6v6h-6zM527 228h6v6h-6zM473 234h6v6h-6zM563 240h6v6h-6zM503 246h6v6h-6zM623 264h6v6h-6zM593 294h6v6h-6zM539 300h6v6h-6zM551 300h6v6h-6zM473 306h6v6h-6zM533 306h6v6h-6zM557 306h6v6h-6zM533 312h6v6h-6zM557 312h6v6h-6zM545 318h6v6h-6zM611 318h6v6h-6z"/>
<path fill="#cacaca" d="M629 198h6v6h-6zM641 204h6v6h-6zM647 210h6v6h-6zM479 216h6v6h-6zM569 276h6v6h-6zM503 294h12v6h-12zM659 300h6v6h-6zM659 312h6v6h-6zM539 324h6v6h-6z"/>
<path fill="#c1c1c1" d="M521 204h6v6h-6zM545 264h6v6h-6zM527 270h6v6h-6zM527 288h6v6h-6zM551 324h6v6h-6z"/>
<path fill="#cdcdcd" d="M527 204h6v6h-6zM611 204h6v6h-6zM623 204h6v6h-6zM641 210h6v6h-6zM479 222h12v6h-12zM617 234h6v6h-6zM617 246h6v6h-6zM479 270h6v6h-6zM581 270h6v6h-6zM479 276h6v6h-6zM569 282h6v6h-6zM575 294h6v6h-6zM659 306h6v6h-6zM497 312h6v6h-6zM515 312h6v6h-6zM539 336h12v6h-12z"/>
<path fill="#797979" d="M581 204h6v6h-6zM599 204h6v6h-6zM509 210h6v6h-6zM497 216h6v6h-6zM539 222h6v6h-6zM593 222h6v6h-6zM515 246h6v6h-6zM545 246h6v6h-6zM623 270h6v6h-6zM473 312h6v6h-6zM479 330h6v6h-6z"/>
<path fill="#6a6a6a" d="M587 204h12v6h-12zM497 222h6v6h-6zM545 222h6v6h-6zM539 228h6v6h-6zM539 234h6v6h-6zM479 246h6v6h-6zM647 270h6v6h-6zM635 276h6v6h-6zM599 294h6v6h-6zM587 312h6v6h-6zM611 312h6v6h-6zM479 324h24v6h-24zM503 336h6v6h-6z"/>
<path fill="#b5b5b5" d="M629 204h6v6h-6zM653 210h6v6h-6zM479 264h6v6h-6zM557 264h6v6h-6zM581 264h6v6h-6zM593 276h6v6h-6zM479 282h6v6h-6zM569 294h6v6h-6zM491 300h6v6h-6zM659 318h6v6h-6zM581 324h6v6h-6zM593 330h6v6h-6zM581 336h6v6h-6z"/>
<path fill="#676767" d="M503 216h6v6h-6zM515 216h6v6h-6zM521 222h6v6h-6zM551 222h6v6h-6zM521 234h6v6h-6zM503 240h6v6h-6zM557 240h6v6h-6zM635 264h12v6h-12zM629 270h18v6h-18zM587 306h6v6h-6zM593 318h6v6h-6zM605 318h6v6h-6zM485 330h6v6h-6z"/>
<path fill="#616161" d="M509 216h6v6h-6zM521 228h6v6h-6zM545 228h12v6h-12zM479 234h6v6h-6zM545 234h18v6h-18zM485 306h6v6h-6zM485 318h6v6h-6zM599 318h6v6h-6zM491 330h12v6h-12z"/>
<path fill="#8e8e8e" d="M539 216h6v6h-6zM533 222h6v6h-6zM605 222h6v6h-6zM569 228h6v6h-6zM587 228h6v6h-6zM569 234h6v6h-6zM563 246h6v6h-6zM485 252h6v6h-6zM509 252h30v6h-30zM599 252h6v6h-6zM611 252h6v6h-6zM623 258h6v6h-6zM593 264h6v6h-6zM629 282h6v6h-6zM599 288h12v6h-12zM641 288h6v6h-6zM581 312h6v6h-6zM533 318h6v6h-6zM473 324h6v6h-6zM485 342h6v6h-6z"/>
<path fill="#828282" d="M545 216h6v6h-6zM527 222h6v6h-6zM563 222h6v6h-6zM527 234h6v6h-6zM599 234h6v6h-6zM521 246h6v6h-6zM539 246h6v6h-6zM599 258h6v6h-6zM599 264h6v6h-6zM617 264h6v6h-6zM653 270h6v6h-6zM563 306h6v6h-6zM539 318h6v6h-6zM551 318h6v6h-6zM599 324h6v6h-6zM497 342h6v6h-6z"/>
<path fill="#737373" d="M587 216h12v6h-12zM563 228h6v6h-6zM539 240h6v6h-6zM629 276h6v6h-6zM539 306h18v6h-18zM539 312h18v6h-18zM503 324h6v6h-6z"/>
<path fill="#5b5b5b" d="M503 222h6v6h-6zM485 240h6v6h-6zM593 300h6v6h-6zM605 300h6v6h-6zM479 306h6v6h-6zM479 312h6v6h-6z"/>
<path fill="#404040" d="M509 222h6v6h-6z"/>
<path fill="#4c4c4c" d="M515 222h6v6h-6zM503 228h6v6h-6z"/>
<path fill="#646464" d="M497 228h6v6h-6zM557 228h6v6h-6zM491 234h12v6h-12zM515 240h6v6h-6zM545 240h12v6h-12zM485 246h6v6h-6zM479 300h6v6h-6zM611 306h6v6h-6zM503 330h6v6h-6zM491 336h12v6h-12z"/>
<path fill="#2e2e2e" d="M509 228h6v6h-6z"/>
<path fill="#313131" d="M515 228h6v6h-6z"/>
<path fill="#5e5e5e" d="M485 234h6v6h-6zM479 240h6v6h-6zM491 240h6v6h-6zM509 240h6v6h-6zM485 312h6v6h-6zM479 318h6v6h-6z"/>
<path fill="#585858" d="M503 234h6v6h-6zM599 300h6v6h-6zM593 306h6v6h-6zM593 312h6v6h-6z"/>
<path fill="#343434" d="M509 234h6v6h-6zM599 306h12v6h-12zM599 312h12v6h-12z"/>
<path fill="#3d3d3d" d="M515 234h6v6h-6z"/>
</g>
<rect x="479.6" y="192.3" width="186.6" height="148.6" filter="url(#grain)" opacity="0.42"/>
</g>
<rect x="479.60" y="341.20" width="186.60" height="7.90" fill="url(#jet)" />
<text x="569.1" y="365.4" font-size="12.1" text-anchor="middle" fill="#231815" stroke="#231815" stroke-width="0.25" >Lifetime intensity (Normal.)</text>
<text x="485.6" y="208.0" font-size="12" text-anchor="start" fill="#fff" stroke="#fff" stroke-width="0.25" >DCl</text>
<rect x="602.40" y="328.00" width="54.50" height="3.70" fill="#fff" />
<text x="630.1" y="322.0" font-size="12" text-anchor="middle" fill="#fff" stroke="#fff" stroke-width="0.25" >2 μm</text>
<text x="5.0" y="388.0" font-size="26" text-anchor="start" fill="#231815" stroke="#231815" stroke-width="0.25" >g</text>
<line x1="55.2" y1="394.7" x2="92.8" y2="394.7" stroke="#c4a8c8" stroke-width="0.7"/>
<line x1="55.2" y1="407.2" x2="92.8" y2="407.2" stroke="#c4a8c8" stroke-width="0.7"/>
<line x1="55.2" y1="419.8" x2="92.8" y2="419.8" stroke="#c4a8c8" stroke-width="0.7"/>
<line x1="61.7" y1="388.2" x2="61.7" y2="426.3" stroke="#c4a8c8" stroke-width="0.7"/>
<line x1="73.9" y1="388.2" x2="73.9" y2="426.3" stroke="#c4a8c8" stroke-width="0.7"/>
<line x1="86.3" y1="388.2" x2="86.3" y2="426.3" stroke="#c4a8c8" stroke-width="0.7"/>
<circle cx="55.2" cy="394.7" r="1.1" fill="#a050a4"/>
<circle cx="67.8" cy="394.7" r="1.1" fill="#a050a4"/>
<circle cx="80.1" cy="394.7" r="1.1" fill="#a050a4"/>
<circle cx="92.8" cy="394.7" r="1.1" fill="#a050a4"/>
<circle cx="55.2" cy="407.2" r="1.1" fill="#a050a4"/>
<circle cx="67.8" cy="407.2" r="1.1" fill="#a050a4"/>
<circle cx="92.8" cy="407.2" r="1.1" fill="#a050a4"/>
<circle cx="55.2" cy="419.8" r="1.1" fill="#a050a4"/>
<circle cx="67.8" cy="419.8" r="1.1" fill="#a050a4"/>
<circle cx="80.1" cy="419.8" r="1.1" fill="#a050a4"/>
<circle cx="92.8" cy="419.8" r="1.1" fill="#a050a4"/>
<circle cx="61.7" cy="388.2" r="1.1" fill="#a050a4"/>
<circle cx="61.7" cy="400.9" r="1.1" fill="#a050a4"/>
<circle cx="61.7" cy="413.5" r="1.1" fill="#a050a4"/>
<circle cx="61.7" cy="426.3" r="1.1" fill="#a050a4"/>
<circle cx="73.9" cy="388.2" r="1.1" fill="#a050a4"/>
<circle cx="73.9" cy="400.9" r="1.1" fill="#a050a4"/>
<circle cx="73.9" cy="413.5" r="1.1" fill="#a050a4"/>
<circle cx="73.9" cy="426.3" r="1.1" fill="#a050a4"/>
<circle cx="86.3" cy="388.2" r="1.1" fill="#a050a4"/>
<circle cx="86.3" cy="400.9" r="1.1" fill="#a050a4"/>
<circle cx="86.3" cy="413.5" r="1.1" fill="#a050a4"/>
<circle cx="86.3" cy="426.3" r="1.1" fill="#a050a4"/>
<circle cx="61.7" cy="394.7" r="1.35" fill="#555a5e"/>
<circle cx="61.7" cy="407.2" r="1.35" fill="#555a5e"/>
<circle cx="61.7" cy="419.8" r="1.35" fill="#555a5e"/>
<circle cx="73.9" cy="394.7" r="1.35" fill="#555a5e"/>
<circle cx="73.9" cy="407.2" r="1.35" fill="#555a5e"/>
<circle cx="73.9" cy="419.8" r="1.35" fill="#555a5e"/>
<circle cx="86.3" cy="394.7" r="1.35" fill="#555a5e"/>
<circle cx="86.3" cy="407.2" r="1.35" fill="#555a5e"/>
<circle cx="86.3" cy="419.8" r="1.35" fill="#555a5e"/>
<circle cx="80.1" cy="407.2" r="4.2" fill="#fff" stroke="#e8302a" stroke-width="0.9" stroke-dasharray="1.6 1.1"/>
<line x1="126.9" y1="406.8" x2="165.1" y2="406.8" stroke="#c4a8c8" stroke-width="0.7"/>
<line x1="126.9" y1="419.6" x2="165.1" y2="419.6" stroke="#c4a8c8" stroke-width="0.7"/>
<line x1="126.9" y1="432.6" x2="165.1" y2="432.6" stroke="#c4a8c8" stroke-width="0.7"/>
<line x1="133.2" y1="400.5" x2="133.2" y2="438.9" stroke="#c4a8c8" stroke-width="0.7"/>
<line x1="146.0" y1="400.5" x2="146.0" y2="438.9" stroke="#c4a8c8" stroke-width="0.7"/>
<line x1="158.8" y1="400.5" x2="158.8" y2="438.9" stroke="#c4a8c8" stroke-width="0.7"/>
<circle cx="126.9" cy="406.8" r="1.1" fill="#a050a4"/>
<circle cx="139.6" cy="406.8" r="1.1" fill="#a050a4"/>
<circle cx="152.4" cy="406.8" r="1.1" fill="#a050a4"/>
<circle cx="165.1" cy="406.8" r="1.1" fill="#a050a4"/>
<circle cx="126.9" cy="419.6" r="1.1" fill="#a050a4"/>
<circle cx="139.6" cy="419.6" r="1.1" fill="#a050a4"/>
<circle cx="152.4" cy="419.6" r="1.1" fill="#a050a4"/>
<circle cx="165.1" cy="419.6" r="1.1" fill="#a050a4"/>
<circle cx="126.9" cy="432.6" r="1.1" fill="#a050a4"/>
<circle cx="139.6" cy="432.6" r="1.1" fill="#a050a4"/>
<circle cx="152.4" cy="432.6" r="1.1" fill="#a050a4"/>
<circle cx="165.1" cy="432.6" r="1.1" fill="#a050a4"/>
<circle cx="133.2" cy="400.5" r="1.1" fill="#a050a4"/>
<circle cx="133.2" cy="413.2" r="1.1" fill="#a050a4"/>
<circle cx="133.2" cy="426.1" r="1.1" fill="#a050a4"/>
<circle cx="133.2" cy="438.9" r="1.1" fill="#a050a4"/>
<circle cx="146.0" cy="400.5" r="1.1" fill="#a050a4"/>
<circle cx="146.0" cy="413.2" r="1.1" fill="#a050a4"/>
<circle cx="146.0" cy="426.1" r="1.1" fill="#a050a4"/>
<circle cx="146.0" cy="438.9" r="1.1" fill="#a050a4"/>
<circle cx="158.8" cy="400.5" r="1.1" fill="#a050a4"/>
<circle cx="158.8" cy="413.2" r="1.1" fill="#a050a4"/>
<circle cx="158.8" cy="426.1" r="1.1" fill="#a050a4"/>
<circle cx="158.8" cy="438.9" r="1.1" fill="#a050a4"/>
<circle cx="133.2" cy="406.8" r="1.35" fill="#555a5e"/>
<circle cx="133.2" cy="419.6" r="1.35" fill="#555a5e"/>
<circle cx="133.2" cy="432.6" r="1.35" fill="#555a5e"/>
<circle cx="146.0" cy="406.8" r="1.35" fill="#555a5e"/>
<circle cx="146.0" cy="432.6" r="1.35" fill="#555a5e"/>
<circle cx="158.8" cy="406.8" r="1.35" fill="#555a5e"/>
<circle cx="158.8" cy="419.6" r="1.35" fill="#555a5e"/>
<circle cx="158.8" cy="432.6" r="1.35" fill="#555a5e"/>
<circle cx="146.0" cy="419.6" r="4.2" fill="#fff" stroke="#e8302a" stroke-width="0.9" stroke-dasharray="1.6 1.1"/>
<line x1="91.6" y1="455.7" x2="127.7" y2="455.7" stroke="#c4a8c8" stroke-width="0.7"/>
<line x1="91.6" y1="467.4" x2="127.7" y2="467.4" stroke="#c4a8c8" stroke-width="0.7"/>
<line x1="91.6" y1="479.5" x2="127.7" y2="479.5" stroke="#c4a8c8" stroke-width="0.7"/>
<line x1="97.1" y1="450.2" x2="97.1" y2="485.0" stroke="#c4a8c8" stroke-width="0.7"/>
<line x1="110.1" y1="450.2" x2="110.1" y2="485.0" stroke="#c4a8c8" stroke-width="0.7"/>
<line x1="122.2" y1="450.2" x2="122.2" y2="485.0" stroke="#c4a8c8" stroke-width="0.7"/>
<circle cx="91.6" cy="455.7" r="1.1" fill="#a050a4"/>
<circle cx="103.6" cy="455.7" r="1.1" fill="#a050a4"/>
<circle cx="116.2" cy="455.7" r="1.1" fill="#a050a4"/>
<circle cx="127.7" cy="455.7" r="1.1" fill="#a050a4"/>
<circle cx="91.6" cy="467.4" r="1.1" fill="#a050a4"/>
<circle cx="116.2" cy="467.4" r="1.1" fill="#a050a4"/>
<circle cx="127.7" cy="467.4" r="1.1" fill="#a050a4"/>
<circle cx="91.6" cy="479.5" r="1.1" fill="#a050a4"/>
<circle cx="103.6" cy="479.5" r="1.1" fill="#a050a4"/>
<circle cx="116.2" cy="479.5" r="1.1" fill="#a050a4"/>
<circle cx="127.7" cy="479.5" r="1.1" fill="#a050a4"/>
<circle cx="97.1" cy="450.2" r="1.1" fill="#a050a4"/>
<circle cx="97.1" cy="461.5" r="1.1" fill="#a050a4"/>
<circle cx="97.1" cy="473.4" r="1.1" fill="#a050a4"/>
<circle cx="97.1" cy="485.0" r="1.1" fill="#a050a4"/>
<circle cx="110.1" cy="450.2" r="1.1" fill="#a050a4"/>
<circle cx="110.1" cy="461.5" r="1.1" fill="#a050a4"/>
<circle cx="110.1" cy="473.4" r="1.1" fill="#a050a4"/>
<circle cx="110.1" cy="485.0" r="1.1" fill="#a050a4"/>
<circle cx="122.2" cy="450.2" r="1.1" fill="#a050a4"/>
<circle cx="122.2" cy="461.5" r="1.1" fill="#a050a4"/>
<circle cx="122.2" cy="473.4" r="1.1" fill="#a050a4"/>
<circle cx="122.2" cy="485.0" r="1.1" fill="#a050a4"/>
<circle cx="97.1" cy="455.7" r="1.35" fill="#555a5e"/>
<circle cx="97.1" cy="467.4" r="1.35" fill="#555a5e"/>
<circle cx="97.1" cy="479.5" r="1.35" fill="#555a5e"/>
<circle cx="110.1" cy="455.7" r="1.35" fill="#555a5e"/>
<circle cx="110.1" cy="467.4" r="1.35" fill="#555a5e"/>
<circle cx="110.1" cy="479.5" r="1.35" fill="#555a5e"/>
<circle cx="122.2" cy="455.7" r="1.35" fill="#555a5e"/>
<circle cx="122.2" cy="467.4" r="1.35" fill="#555a5e"/>
<circle cx="122.2" cy="479.5" r="1.35" fill="#555a5e"/>
<circle cx="104.0" cy="467.4" r="4.2" fill="#fff" stroke="#e8302a" stroke-width="0.9" stroke-dasharray="1.6 1.1"/>
<circle cx="104.0" cy="467.4" r="1.2" fill="#555a5e"/>
<line x1="163.4" y1="470.5" x2="200.5" y2="470.5" stroke="#c4a8c8" stroke-width="0.7"/>
<line x1="163.4" y1="483.3" x2="200.5" y2="483.3" stroke="#c4a8c8" stroke-width="0.7"/>
<line x1="163.4" y1="495.0" x2="200.5" y2="495.0" stroke="#c4a8c8" stroke-width="0.7"/>
<line x1="169.9" y1="464.0" x2="169.9" y2="501.5" stroke="#c4a8c8" stroke-width="0.7"/>
<line x1="181.8" y1="464.0" x2="181.8" y2="501.5" stroke="#c4a8c8" stroke-width="0.7"/>
<line x1="194.0" y1="464.0" x2="194.0" y2="501.5" stroke="#c4a8c8" stroke-width="0.7"/>
<circle cx="163.4" cy="470.5" r="1.1" fill="#a050a4"/>
<circle cx="175.9" cy="470.5" r="1.1" fill="#a050a4"/>
<circle cx="187.9" cy="470.5" r="1.1" fill="#a050a4"/>
<circle cx="200.5" cy="470.5" r="1.1" fill="#a050a4"/>
<circle cx="163.4" cy="483.3" r="1.1" fill="#a050a4"/>
<circle cx="175.9" cy="483.3" r="1.1" fill="#a050a4"/>
<circle cx="187.9" cy="483.3" r="1.1" fill="#a050a4"/>
<circle cx="200.5" cy="483.3" r="1.1" fill="#a050a4"/>
<circle cx="163.4" cy="495.0" r="1.1" fill="#a050a4"/>
<circle cx="175.9" cy="495.0" r="1.1" fill="#a050a4"/>
<circle cx="187.9" cy="495.0" r="1.1" fill="#a050a4"/>
<circle cx="200.5" cy="495.0" r="1.1" fill="#a050a4"/>
<circle cx="169.9" cy="464.0" r="1.1" fill="#a050a4"/>
<circle cx="169.9" cy="476.9" r="1.1" fill="#a050a4"/>
<circle cx="169.9" cy="489.1" r="1.1" fill="#a050a4"/>
<circle cx="169.9" cy="501.5" r="1.1" fill="#a050a4"/>
<circle cx="181.8" cy="464.0" r="1.1" fill="#a050a4"/>
<circle cx="181.8" cy="476.9" r="1.1" fill="#a050a4"/>
<circle cx="181.8" cy="489.1" r="1.1" fill="#a050a4"/>
<circle cx="181.8" cy="501.5" r="1.1" fill="#a050a4"/>
<circle cx="194.0" cy="464.0" r="1.1" fill="#a050a4"/>
<circle cx="194.0" cy="476.9" r="1.1" fill="#a050a4"/>
<circle cx="194.0" cy="489.1" r="1.1" fill="#a050a4"/>
<circle cx="194.0" cy="501.5" r="1.1" fill="#a050a4"/>
<circle cx="169.9" cy="470.5" r="1.35" fill="#555a5e"/>
<circle cx="169.9" cy="483.3" r="1.35" fill="#555a5e"/>
<circle cx="169.9" cy="495.0" r="1.35" fill="#555a5e"/>
<circle cx="181.8" cy="470.5" r="1.35" fill="#555a5e"/>
<circle cx="181.8" cy="495.0" r="1.35" fill="#555a5e"/>
<circle cx="194.0" cy="470.5" r="1.35" fill="#555a5e"/>
<circle cx="194.0" cy="483.3" r="1.35" fill="#555a5e"/>
<circle cx="194.0" cy="495.0" r="1.35" fill="#555a5e"/>
<circle cx="182.0" cy="483.3" r="4.2" fill="#fff" stroke="#e8302a" stroke-width="0.9" stroke-dasharray="1.6 1.1"/>
<circle cx="182.0" cy="483.3" r="1.2" fill="#a050a4"/>
<line x1="67.6" y1="396.5" x2="67.6" y2="401.5" stroke="#9aa6c8" stroke-width="0.7"/><circle cx="67.6" cy="399.0" r="0.6" fill="#b07040"/>
<line x1="67.6" y1="410.5" x2="67.6" y2="415.5" stroke="#9aa6c8" stroke-width="0.7"/><circle cx="67.6" cy="413.0" r="0.6" fill="#b07040"/>
<line x1="153.0" y1="421.5" x2="153.0" y2="426.5" stroke="#9aa6c8" stroke-width="0.7"/><circle cx="153.0" cy="424.0" r="0.6" fill="#b07040"/>
<line x1="153.0" y1="409.5" x2="153.0" y2="414.5" stroke="#9aa6c8" stroke-width="0.7"/><circle cx="153.0" cy="412.0" r="0.6" fill="#b07040"/>
<line x1="115.0" y1="469.5" x2="115.0" y2="474.5" stroke="#9aa6c8" stroke-width="0.7"/><circle cx="115.0" cy="472.0" r="0.6" fill="#b07040"/>
<line x1="115.0" y1="457.5" x2="115.0" y2="462.5" stroke="#9aa6c8" stroke-width="0.7"/><circle cx="115.0" cy="460.0" r="0.6" fill="#b07040"/>
<line x1="188.0" y1="474.5" x2="188.0" y2="479.5" stroke="#9aa6c8" stroke-width="0.7"/><circle cx="188.0" cy="477.0" r="0.6" fill="#b07040"/>
<line x1="176.0" y1="487.5" x2="176.0" y2="492.5" stroke="#9aa6c8" stroke-width="0.7"/><circle cx="176.0" cy="490.0" r="0.6" fill="#b07040"/>
<line x1="63.00" y1="429.98" x2="85.00" y2="429.98" stroke="#5d5c93" stroke-width="1.1" />
<line x1="99.20" y1="445.37" x2="120.90" y2="445.37" stroke="#5d5c93" stroke-width="1.1" />
<line x1="135.20" y1="441.52" x2="157.00" y2="441.52" stroke="#5d5c93" stroke-width="1.1" />
<line x1="170.80" y1="505.97" x2="192.90" y2="505.97" stroke="#5d5c93" stroke-width="1.1" />
<text x="73.5" y="440.5" font-size="9.3" text-anchor="middle" fill="#231815" stroke="#231815" stroke-width="0.25" >2.02 eV</text>
<text x="110.3" y="441.8" font-size="9.3" text-anchor="middle" fill="#231815" stroke="#231815" stroke-width="0.25" >1.86 eV</text>
<text x="146.3" y="451.7" font-size="9.3" text-anchor="middle" fill="#231815" stroke="#231815" stroke-width="0.25" >1.90 eV</text>
<text x="181.9" y="517.2" font-size="9.3" text-anchor="middle" fill="#231815" stroke="#231815" stroke-width="0.25" >1.23 eV</text>
<rect x="38.4" y="383.8" width="179.79999999999998" height="144.3" fill="none" stroke="#1c1717" stroke-width="1.6"/>
<line x1="38.40" y1="528.10" x2="41.00" y2="528.10" stroke="#231815" stroke-width="1" />
<line x1="38.40" y1="504.05" x2="40.00" y2="504.05" stroke="#231815" stroke-width="1" />
<line x1="38.40" y1="480.00" x2="41.00" y2="480.00" stroke="#231815" stroke-width="1" />
<line x1="38.40" y1="455.95" x2="40.00" y2="455.95" stroke="#231815" stroke-width="1" />
<line x1="38.40" y1="431.90" x2="41.00" y2="431.90" stroke="#231815" stroke-width="1" />
<line x1="38.40" y1="407.85" x2="40.00" y2="407.85" stroke="#231815" stroke-width="1" />
<line x1="38.40" y1="383.80" x2="41.00" y2="383.80" stroke="#231815" stroke-width="1" />
<line x1="73.80" y1="528.10" x2="73.80" y2="525.50" stroke="#231815" stroke-width="1" />
<line x1="109.90" y1="528.10" x2="109.90" y2="525.50" stroke="#231815" stroke-width="1" />
<line x1="145.90" y1="528.10" x2="145.90" y2="525.50" stroke="#231815" stroke-width="1" />
<line x1="181.90" y1="528.10" x2="181.90" y2="525.50" stroke="#231815" stroke-width="1" />
<text x="36.0" y="388.0" font-size="12" text-anchor="end" fill="#231815" stroke="#231815" stroke-width="0.25" >2.5</text>
<text x="36.0" y="436.1" font-size="12" text-anchor="end" fill="#231815" stroke="#231815" stroke-width="0.25" >2.0</text>
<text x="36.0" y="484.2" font-size="12" text-anchor="end" fill="#231815" stroke="#231815" stroke-width="0.25" >1.5</text>
<text x="36.0" y="532.3" font-size="12" text-anchor="end" fill="#231815" stroke="#231815" stroke-width="0.25" >1.0</text>
<text x="73.8" y="541.0" font-size="12" text-anchor="middle" fill="#231815" stroke="#231815" stroke-width="0.25" >V<tspan font-size="8" dy="2.5">I</tspan></text>
<text x="109.9" y="541.0" font-size="12" text-anchor="middle" fill="#231815" stroke="#231815" stroke-width="0.25" >Pb<tspan font-size="8" dy="2.5">I</tspan></text>
<text x="145.9" y="541.0" font-size="12" text-anchor="middle" fill="#231815" stroke="#231815" stroke-width="0.25" >V<tspan font-size="8" dy="2.5">Pb</tspan></text>
<text x="181.9" y="541.0" font-size="12" text-anchor="middle" fill="#231815" stroke="#231815" stroke-width="0.25" >I<tspan font-size="8" dy="2.5">Pb</tspan></text>
<text transform="translate(16.3,455.6) rotate(-90)" font-size="12.3" text-anchor="middle" fill="#231815">Formation energy (eV)</text>
<text x="226.0" y="388.0" font-size="26" text-anchor="start" fill="#231815" stroke="#231815" stroke-width="0.25" >h</text>
<text x="450.6" y="388.0" font-size="27" text-anchor="start" fill="#231815" stroke="#231815" stroke-width="0.25" >i</text>
<clipPath id="chh"><rect x="260.4" y="383.8" width="180.20000000000005" height="144.3"/></clipPath>
<g clip-path="url(#chh)" fill="none" stroke-width="1.5" stroke-linejoin="round">
<path d="M260.4,527.5C285.3,527.5 384.4,527.7 410.0,527.5C435.6,527.3 412.8,527.6 414.0,526.5C415.2,525.4 416.2,522.5 417.0,521.0C417.8,519.5 418.2,517.8 418.8,517.8C419.4,517.8 419.8,519.5 420.5,521.0C421.2,522.5 419.6,525.5 423.0,526.5C426.4,527.5 437.7,526.9 440.6,527.0" stroke="#a0a0a0"/>
<path d="M260.4,526.5C262.8,526.5 268.4,526.8 275.0,526.8C281.6,526.8 292.5,526.4 300.0,526.5C307.5,526.6 312.5,527.3 320.0,527.5C327.5,527.7 340.0,527.8 345.0,527.5C350.0,527.2 348.5,525.8 350.0,525.8C351.5,525.8 350.3,527.2 354.0,527.5C357.7,527.8 368.1,528.3 372.0,527.5C375.9,526.7 375.5,523.5 377.7,522.5C379.9,521.5 381.3,521.8 385.0,521.5C388.7,521.2 395.8,520.9 400.0,521.0C404.2,521.1 407.0,521.4 410.0,522.0C413.0,522.6 415.3,524.8 418.0,524.5C420.7,524.2 424.0,521.0 426.3,520.0C428.6,519.0 429.9,518.9 431.7,518.6C433.5,518.3 435.6,518.2 437.1,518.3C438.6,518.4 440.0,518.9 440.6,519.0" stroke="#4d4f97"/>
<path d="M259.4,507.0C259.6,506.7 260.0,506.1 260.7,505.6C261.4,505.2 262.5,504.0 263.4,504.3C264.3,504.5 265.2,505.6 266.1,507.0C267.0,508.3 268.0,511.2 268.8,512.4C269.6,513.5 270.3,514.2 271.0,513.7C271.6,513.3 272.2,510.8 272.9,509.7C273.5,508.5 274.1,508.3 274.7,507.0C275.4,505.6 276.2,502.2 276.9,501.6C277.6,500.9 278.4,502.2 279.1,502.9C279.7,503.6 280.3,505.8 281.0,505.6C281.6,505.4 282.2,502.5 282.9,501.6C283.5,500.7 284.2,500.7 285.0,500.2C285.8,499.8 286.9,499.8 287.7,498.9C288.5,498.0 289.2,495.7 289.9,494.8C290.5,493.9 291.2,493.2 291.8,493.5C292.3,493.7 292.4,498.0 293.1,496.2C293.8,494.4 295.0,486.0 295.8,482.6C296.6,479.3 297.3,475.9 298.0,475.9C298.7,475.9 299.3,480.2 299.9,482.6C300.4,485.1 300.8,489.0 301.2,490.8C301.7,492.6 302.0,492.1 302.6,493.5C303.1,494.8 303.8,497.7 304.5,498.9C305.1,500.0 306.0,499.5 306.6,500.2C307.2,500.9 307.5,501.8 308.0,502.9C308.4,504.0 308.9,505.8 309.3,507.0C309.8,508.1 310.2,508.8 310.7,509.7C311.1,510.6 311.6,511.5 312.0,512.4C312.5,513.3 312.9,514.4 313.4,515.1C313.8,515.7 314.3,515.7 314.7,516.4C315.2,517.1 315.6,518.0 316.1,519.1C316.5,520.2 316.8,522.0 317.4,523.2C318.1,524.3 319.2,525.2 320.1,525.9C321.0,526.5 322.4,527.0 322.8,527.2C323.3,527.4 319.1,527.2 322.8,527.2C326.5,527.2 340.6,527.5 345.0,527.2C349.4,526.9 347.8,525.9 349.0,525.5C350.2,525.1 350.8,524.5 352.0,524.8C353.2,525.0 352.7,526.6 356.0,527.0C359.3,527.4 368.6,527.8 372.0,527.2C375.4,526.6 375.0,524.5 376.4,523.5C377.8,522.5 378.1,521.8 380.4,521.5C382.7,521.2 386.7,521.8 390.0,522.0C393.3,522.2 396.7,522.6 400.0,523.0C403.3,523.4 407.0,524.2 410.0,524.5C413.0,524.8 415.3,525.5 418.0,525.0C420.7,524.5 424.0,522.3 426.3,521.5C428.6,520.7 429.9,520.1 431.7,520.0C433.5,519.9 435.5,520.9 437.0,521.0C438.5,521.1 440.0,520.6 440.6,520.5" stroke="#2e5f98"/>
<path d="M259.4,474.5C259.6,474.8 260.0,475.4 260.7,475.9C261.4,476.3 262.5,477.7 263.4,477.2C264.3,476.8 265.2,472.3 266.1,473.2C267.0,474.1 267.9,478.8 268.8,482.6C269.7,486.5 270.8,493.5 271.5,496.2C272.2,498.9 272.3,500.2 272.9,498.9C273.4,497.5 274.1,492.8 274.7,488.0C275.4,483.3 276.2,472.7 276.9,470.5C277.6,468.2 278.4,472.6 279.1,474.5C279.7,476.5 280.3,482.1 281.0,482.1C281.6,482.1 282.2,476.7 282.9,474.5C283.5,472.4 284.3,469.8 285.0,469.1C285.7,468.5 286.5,470.9 287.2,470.5C287.8,470.0 288.4,468.0 289.1,466.4C289.7,464.9 290.4,463.1 291.0,461.0C291.5,459.0 292.1,454.7 292.6,454.3C293.1,453.8 293.4,459.9 293.9,458.3C294.5,456.8 295.1,450.5 295.8,444.8C296.5,439.2 297.3,426.4 298.0,424.6C298.7,422.8 299.3,428.8 299.9,434.0C300.4,439.2 300.8,451.1 301.2,455.6C301.7,460.1 302.0,458.3 302.6,461.0C303.1,463.7 303.8,469.6 304.5,471.8C305.1,474.1 306.0,473.6 306.6,474.5C307.2,475.4 307.5,475.0 308.0,477.2C308.4,479.5 308.9,485.3 309.3,488.0C309.8,490.8 310.2,491.7 310.7,493.5C311.1,495.3 311.6,497.1 312.0,498.9C312.5,500.7 312.9,502.9 313.4,504.3C313.8,505.6 314.3,505.2 314.7,507.0C315.2,508.8 315.6,512.8 316.1,515.1C316.5,517.3 316.8,519.3 317.4,520.5C318.0,521.6 318.9,521.1 319.6,521.8C320.3,522.5 320.9,523.6 321.5,524.5C322.0,525.4 322.6,526.8 322.8,527.2C323.0,527.7 319.9,527.2 322.8,527.2C325.7,527.2 336.3,527.8 340.0,527.5C343.7,527.2 343.7,526.2 345.0,525.5C346.3,524.8 347.2,523.6 348.0,523.5C348.8,523.4 349.3,525.1 350.0,525.0C350.7,524.9 351.2,522.8 352.0,523.0C352.8,523.2 353.7,525.8 355.0,526.5C356.3,527.2 357.3,527.4 360.0,527.5C362.7,527.6 369.2,527.2 371.0,527.2C372.8,527.2 370.3,527.9 371.0,527.2C371.6,526.5 373.9,525.2 375.0,523.2C376.1,521.1 376.8,517.1 377.7,515.1C378.6,513.0 379.5,511.9 380.4,511.0C381.3,510.1 382.2,510.1 383.1,509.7C384.0,509.2 384.9,509.9 385.8,508.3C386.7,506.7 387.8,501.8 388.5,500.2C389.2,498.6 389.2,497.7 389.9,498.9C390.5,500.0 391.7,504.5 392.6,507.0C393.5,509.4 394.4,511.9 395.3,513.7C396.2,515.5 397.1,516.9 398.0,517.8C398.9,518.7 399.8,519.6 400.7,519.1C401.6,518.7 402.5,515.5 403.4,515.1C404.3,514.6 405.2,516.9 406.1,516.4C407.0,516.0 407.9,513.9 408.8,512.4C409.7,510.8 410.6,508.8 411.5,507.0C412.4,505.2 413.4,504.7 414.2,501.6C414.9,498.4 415.5,493.0 416.1,488.0C416.7,483.1 417.2,475.0 417.7,471.8C418.2,468.7 418.6,467.3 419.0,469.1C419.5,470.9 419.9,476.3 420.4,482.6C420.9,489.0 421.5,502.0 422.3,507.0C423.0,511.9 424.1,513.3 425.0,512.4C425.9,511.5 427.0,503.8 427.7,501.6C428.4,499.3 428.6,500.2 429.0,498.9C429.5,497.5 429.8,494.6 430.4,493.5C430.9,492.3 431.7,491.2 432.3,492.1C432.9,493.0 433.4,498.4 433.9,498.9C434.3,499.3 434.5,495.3 435.0,494.8C435.4,494.4 436.0,494.4 436.6,496.2C437.2,498.0 437.9,504.7 438.5,505.6C439.1,506.5 439.9,502.7 440.4,501.6C440.9,500.4 441.3,499.3 441.5,498.9" stroke="#f0b323"/>
</g>
<clipPath id="cii"><rect x="486.6" y="383.8" width="179.5" height="144.3"/></clipPath>
<g clip-path="url(#cii)" fill="none" stroke-width="1.5" stroke-linejoin="round">
<path d="M486.6,527.4C497.1,527.4 524.3,527.5 549.7,527.5C575.1,527.5 623.3,528.0 638.8,527.5C654.4,527.0 641.8,526.4 642.9,524.5C644.0,522.7 644.7,516.4 645.6,516.4C646.5,516.4 647.2,522.7 648.3,524.5C649.4,526.4 649.3,527.0 652.3,527.5C655.4,528.0 664.0,527.5 666.4,527.5" stroke="#a0a0a0"/>
<path d="M486.6,526.6C488.8,526.5 494.4,526.3 500.0,526.3C505.6,526.3 513.3,526.8 520.0,526.8C526.7,526.8 535.1,526.5 540.0,526.5C544.9,526.5 544.0,526.6 549.7,526.7C555.4,526.8 568.1,527.1 574.0,527.2C579.9,527.3 582.3,527.6 584.8,527.2C587.3,526.8 587.5,524.8 588.9,524.8C590.2,524.8 590.9,527.3 592.9,527.2C594.9,527.2 598.5,525.3 601.0,524.5C603.5,523.7 605.5,522.8 607.8,522.4C610.0,521.9 612.3,521.7 614.5,521.8C616.8,522.0 619.0,522.9 621.3,523.2C623.5,523.4 625.8,523.3 628.0,523.2C630.3,523.1 632.5,522.6 634.8,522.6C637.0,522.6 639.5,523.2 641.5,523.2C643.6,523.1 645.1,522.8 646.9,522.4C648.7,521.9 650.8,521.0 652.3,520.5C653.9,519.9 655.0,519.6 656.4,519.1C657.7,518.7 659.3,517.8 660.4,517.8C661.6,517.7 662.2,518.6 663.1,518.8C664.1,519.1 665.8,519.1 666.4,519.1" stroke="#4d4f97"/>
<path d="M485.4,516.4C485.7,516.2 486.6,516.2 487.2,515.1C487.9,513.9 488.7,511.0 489.4,509.7C490.1,508.3 490.9,507.4 491.6,507.0C492.2,506.5 492.8,506.3 493.5,507.0C494.1,507.6 494.8,509.9 495.3,511.0C495.9,512.1 496.4,513.5 497.0,513.7C497.6,513.9 498.2,513.5 498.9,512.4C499.5,511.2 500.1,508.3 500.7,507.0C501.4,505.6 502.2,504.5 502.9,504.3C503.6,504.0 504.3,506.3 505.1,505.6C505.9,504.9 507.0,501.3 507.8,500.2C508.5,499.1 509.1,499.5 509.7,498.9C510.2,498.2 510.4,496.2 511.0,496.2C511.6,496.2 512.5,499.1 513.2,498.9C513.8,498.6 514.4,495.3 515.1,494.8C515.7,494.4 516.3,496.4 517.0,496.2C517.6,495.9 518.3,495.7 519.1,493.5C519.9,491.2 521.1,485.3 521.8,482.6C522.5,479.9 522.7,478.6 523.2,477.2C523.6,475.9 524.1,474.3 524.5,474.5C525.0,474.8 525.4,476.8 525.9,478.6C526.3,480.4 526.8,484.9 527.2,485.3C527.7,485.8 528.1,482.2 528.6,481.3C529.0,480.4 529.5,479.5 529.9,479.9C530.4,480.4 530.8,482.6 531.3,484.0C531.7,485.3 532.2,486.9 532.6,488.0C533.1,489.2 533.5,489.0 534.0,490.8C534.4,492.6 534.9,496.2 535.3,498.9C535.8,501.6 536.2,505.2 536.7,507.0C537.1,508.8 537.3,509.2 538.0,509.7C538.7,510.1 539.9,508.8 540.7,509.7C541.5,510.6 542.2,513.0 542.9,515.1C543.6,517.1 544.2,520.0 544.8,521.8C545.3,523.6 545.7,525.0 546.1,525.9C546.6,526.8 541.0,527.0 547.5,527.2C553.9,527.4 577.9,527.5 584.8,527.2C591.7,526.9 587.5,525.3 588.9,525.3C590.2,525.3 590.9,527.1 592.9,527.2C594.9,527.3 598.5,526.2 601.0,525.9C603.5,525.5 605.5,525.3 607.8,525.1C610.0,524.8 611.1,524.5 614.5,524.5C617.9,524.6 623.5,525.1 628.0,525.3C632.5,525.6 638.4,526.1 641.5,525.9C644.7,525.6 645.1,524.4 646.9,523.7C648.7,523.0 650.8,522.3 652.3,521.8C653.9,521.4 655.0,521.2 656.4,521.0C657.7,520.8 659.3,520.4 660.4,520.5C661.6,520.6 662.2,521.5 663.1,521.5C664.1,521.6 665.8,521.1 666.4,521.0" stroke="#2e5f98"/>
<path d="M485.4,498.9C485.7,498.4 486.6,498.0 487.2,496.2C487.9,494.4 488.7,490.8 489.4,488.0C490.1,485.3 490.9,481.5 491.6,479.9C492.2,478.4 492.8,477.9 493.5,478.6C494.1,479.3 494.8,481.3 495.3,484.0C495.9,486.7 496.4,492.6 497.0,494.8C497.6,497.1 498.2,498.2 498.9,497.5C499.5,496.8 500.1,494.4 500.7,490.8C501.4,487.1 502.1,478.6 502.9,475.9C503.7,473.2 504.8,475.0 505.6,474.5C506.4,474.1 507.1,475.0 507.8,473.2C508.4,471.4 509.1,466.0 509.7,463.7C510.2,461.5 510.4,459.2 511.0,459.7C511.6,460.1 512.5,466.7 513.2,466.4C513.8,466.2 514.4,459.2 515.1,458.3C515.7,457.4 516.3,461.3 517.0,461.0C517.6,460.8 518.5,457.0 519.1,457.0C519.7,457.0 520.0,464.0 520.5,461.0C520.9,458.1 521.4,444.8 521.8,439.4C522.3,434.0 522.7,431.5 523.2,428.6C523.6,425.7 524.1,421.9 524.5,421.9C525.0,421.9 525.4,424.8 525.9,428.6C526.3,432.4 526.8,443.9 527.2,444.8C527.7,445.7 528.1,436.1 528.6,434.0C529.0,432.0 529.5,431.3 529.9,432.7C530.4,434.0 530.8,439.2 531.3,442.1C531.7,445.1 532.2,448.7 532.6,450.2C533.1,451.8 533.5,448.4 534.0,451.6C534.4,454.7 534.9,463.5 535.3,469.1C535.8,474.8 536.2,481.7 536.7,485.3C537.1,489.0 537.4,489.9 538.0,490.8C538.6,491.7 539.6,489.9 540.2,490.8C540.8,491.7 541.1,493.5 541.5,496.2C542.0,498.9 542.5,503.8 542.9,507.0C543.3,510.1 543.6,512.6 544.0,515.1C544.3,517.5 544.7,520.0 545.0,521.8C545.4,523.6 545.7,525.0 546.1,525.9C546.5,526.8 541.0,527.0 547.5,527.2C553.9,527.4 578.1,527.8 584.8,527.2C591.5,526.6 586.7,524.4 587.5,523.7C588.3,523.0 588.9,523.0 589.7,523.2C590.4,523.3 591.1,523.8 591.8,524.5C592.6,525.2 593.2,526.8 594.3,527.2C595.3,527.7 597.0,527.7 598.3,527.2C599.7,526.8 601.2,525.9 602.4,524.5C603.5,523.2 604.2,520.5 605.1,519.1C606.0,517.8 606.9,517.5 607.8,516.4C608.7,515.3 609.6,512.8 610.5,512.4C611.4,511.9 612.3,514.2 613.2,513.7C614.1,513.3 615.0,509.4 615.9,509.7C616.8,509.9 617.7,514.6 618.6,515.1C619.5,515.5 620.4,512.1 621.3,512.4C622.2,512.6 623.1,516.6 624.0,516.4C624.9,516.2 625.8,510.8 626.7,511.0C627.6,511.2 628.5,517.5 629.4,517.8C630.3,518.0 631.2,512.6 632.1,512.4C633.0,512.1 633.9,515.5 634.8,516.4C635.7,517.3 636.6,517.5 637.5,517.8C638.4,518.0 639.3,519.6 640.2,517.8C641.1,516.0 642.1,512.8 642.9,507.0C643.6,501.1 644.2,489.9 644.8,482.6C645.4,475.4 645.9,466.0 646.4,463.7C646.9,461.5 647.3,465.1 647.7,469.1C648.2,473.2 648.6,483.5 649.1,488.0C649.6,492.6 650.2,494.4 651.0,496.2C651.8,498.0 652.8,499.1 653.7,498.9C654.6,498.6 655.5,496.2 656.4,494.8C657.3,493.5 658.4,490.5 659.1,490.8C659.8,491.0 659.9,496.8 660.4,496.2C661.0,495.5 661.8,487.1 662.3,486.7C662.9,486.2 663.2,490.3 663.7,493.5C664.2,496.6 664.9,504.0 665.3,505.6C665.8,507.2 666.2,503.4 666.4,502.9" stroke="#f0b323"/>
</g>
<clipPath id="insh"><rect x="356" y="438" width="60" height="59.6"/></clipPath><g clip-path="url(#insh)">
<path d="M358.0,452.6L367.3,443.6L376.6,452.6L367.3,461.6z" fill="#5e5e62"/>
<path d="M377.0,452.6L386.3,443.6L395.6,452.6L386.3,461.6z" fill="#5e5e62"/>
<path d="M395.4,452.6L404.7,443.6L414.0,452.6L404.7,461.6z" fill="#5e5e62"/>
<path d="M358.0,468.6L367.3,459.6L376.6,468.6L367.3,477.6z" fill="#5e5e62"/>
<path d="M377.0,468.6L386.3,459.6L395.6,468.6L386.3,477.6z" fill="#5e5e62"/>
<path d="M395.4,468.6L404.7,459.6L414.0,468.6L404.7,477.6z" fill="#5e5e62"/>
<path d="M358.0,484.7L367.3,475.7L376.6,484.7L367.3,493.7z" fill="#5e5e62"/>
<path d="M377.0,484.7L386.3,475.7L395.6,484.7L386.3,493.7z" fill="#5e5e62"/>
<path d="M395.4,484.7L404.7,475.7L414.0,484.7L404.7,493.7z" fill="#5e5e62"/>
<path d="M367.5,461.6L376.8,452.6L386.1,461.6L376.8,470.6z" fill="#7a7a7e"/>
<path d="M386.2,461.6L395.5,452.6L404.8,461.6L395.5,470.6z" fill="#7a7a7e"/>
<path d="M367.5,477.6L376.8,468.6L386.1,477.6L376.8,486.6z" fill="#7a7a7e"/>
<path d="M386.2,477.6L395.5,468.6L404.8,477.6L395.5,486.6z" fill="#7a7a7e"/>
<path d="M367.5,493.7L376.8,484.7L386.1,493.7L376.8,502.7z" fill="#7a7a7e"/>
<path d="M386.2,493.7L395.5,484.7L404.8,493.7L395.5,502.7z" fill="#7a7a7e"/>
<path d="M358.0,452.6L367.3,443.6L368.7,453.5z" fill="#8c8c90"/>
<path d="M376.6,452.6L367.3,461.6L368.7,453.5z" fill="#4a4a4e"/>
<path d="M377.0,452.6L386.3,443.6L387.7,453.5z" fill="#8c8c90"/>
<path d="M395.6,452.6L386.3,461.6L387.7,453.5z" fill="#4a4a4e"/>
<path d="M395.4,452.6L404.7,443.6L406.1,453.5z" fill="#8c8c90"/>
<path d="M414.0,452.6L404.7,461.6L406.1,453.5z" fill="#4a4a4e"/>
<path d="M358.0,468.6L367.3,459.6L368.7,469.5z" fill="#8c8c90"/>
<path d="M376.6,468.6L367.3,477.6L368.7,469.5z" fill="#4a4a4e"/>
<path d="M377.0,468.6L386.3,459.6L387.7,469.5z" fill="#8c8c90"/>
<path d="M395.6,468.6L386.3,477.6L387.7,469.5z" fill="#4a4a4e"/>
<path d="M395.4,468.6L404.7,459.6L406.1,469.5z" fill="#8c8c90"/>
<path d="M414.0,468.6L404.7,477.6L406.1,469.5z" fill="#4a4a4e"/>
<path d="M358.0,484.7L367.3,475.7L368.7,485.6z" fill="#8c8c90"/>
<path d="M376.6,484.7L367.3,493.7L368.7,485.6z" fill="#4a4a4e"/>
<path d="M377.0,484.7L386.3,475.7L387.7,485.6z" fill="#8c8c90"/>
<path d="M395.6,484.7L386.3,493.7L387.7,485.6z" fill="#4a4a4e"/>
<path d="M395.4,484.7L404.7,475.7L406.1,485.6z" fill="#8c8c90"/>
<path d="M414.0,484.7L404.7,493.7L406.1,485.6z" fill="#4a4a4e"/>
<path d="M371.0,461.6L376.8,455.5L382.6,461.6L376.8,467.7z" fill="#f6f6f8" stroke="#f6f6f8" stroke-width="1.5" stroke-linejoin="round"/>
<path d="M374.8,462.6L376.8,459.6L378.8,462.6" fill="none" stroke="#a8764c" stroke-width="0.8"/><circle cx="379.0" cy="463.6" r="1" fill="#9aaad8"/><circle cx="374.4" cy="463.4" r="0.9" fill="#9aaad8"/>
<path d="M389.7,461.6L395.5,455.5L401.3,461.6L395.5,467.7z" fill="#f6f6f8" stroke="#f6f6f8" stroke-width="1.5" stroke-linejoin="round"/>
<path d="M393.5,462.6L395.5,459.6L397.5,462.6" fill="none" stroke="#a8764c" stroke-width="0.8"/><circle cx="397.7" cy="463.6" r="1" fill="#9aaad8"/><circle cx="393.1" cy="463.4" r="0.9" fill="#9aaad8"/>
<path d="M371.0,477.6L376.8,471.5L382.6,477.6L376.8,483.7z" fill="#f6f6f8" stroke="#f6f6f8" stroke-width="1.5" stroke-linejoin="round"/>
<path d="M374.8,478.6L376.8,475.6L378.8,478.6" fill="none" stroke="#a8764c" stroke-width="0.8"/><circle cx="379.0" cy="479.6" r="1" fill="#9aaad8"/><circle cx="374.4" cy="479.4" r="0.9" fill="#9aaad8"/>
<path d="M389.7,477.6L395.5,471.5L401.3,477.6L395.5,483.7z" fill="#f6f6f8" stroke="#f6f6f8" stroke-width="1.5" stroke-linejoin="round"/>
<path d="M393.5,478.6L395.5,475.6L397.5,478.6" fill="none" stroke="#a8764c" stroke-width="0.8"/><circle cx="397.7" cy="479.6" r="1" fill="#9aaad8"/><circle cx="393.1" cy="479.4" r="0.9" fill="#9aaad8"/>
<path d="M371.0,493.7L376.8,487.6L382.6,493.7L376.8,499.8z" fill="#f6f6f8" stroke="#f6f6f8" stroke-width="1.5" stroke-linejoin="round"/>
<path d="M374.8,494.7L376.8,491.7L378.8,494.7" fill="none" stroke="#a8764c" stroke-width="0.8"/><circle cx="379.0" cy="495.7" r="1" fill="#9aaad8"/><circle cx="374.4" cy="495.5" r="0.9" fill="#9aaad8"/>
<path d="M389.7,493.7L395.5,487.6L401.3,493.7L395.5,499.8z" fill="#f6f6f8" stroke="#f6f6f8" stroke-width="1.5" stroke-linejoin="round"/>
<path d="M393.5,494.7L395.5,491.7L397.5,494.7" fill="none" stroke="#a8764c" stroke-width="0.8"/><circle cx="397.7" cy="495.7" r="1" fill="#9aaad8"/><circle cx="393.1" cy="495.5" r="0.9" fill="#9aaad8"/>
<circle cx="358.0" cy="452.6" r="1.25" fill="#9a2c9e"/>
<circle cx="358.0" cy="468.6" r="1.25" fill="#9a2c9e"/>
<circle cx="358.0" cy="484.7" r="1.25" fill="#9a2c9e"/>
<circle cx="367.3" cy="443.6" r="1.25" fill="#9a2c9e"/>
<circle cx="367.3" cy="459.6" r="1.25" fill="#9a2c9e"/>
<circle cx="367.3" cy="461.6" r="1.25" fill="#9a2c9e"/>
<circle cx="367.3" cy="475.7" r="1.25" fill="#9a2c9e"/>
<circle cx="367.3" cy="477.6" r="1.25" fill="#9a2c9e"/>
<circle cx="367.3" cy="493.7" r="1.25" fill="#9a2c9e"/>
<circle cx="368.7" cy="453.5" r="1.25" fill="#9a2c9e"/>
<circle cx="368.7" cy="469.5" r="1.25" fill="#9a2c9e"/>
<circle cx="368.7" cy="485.6" r="1.25" fill="#9a2c9e"/>
<circle cx="376.6" cy="452.6" r="1.25" fill="#9a2c9e"/>
<circle cx="376.6" cy="468.6" r="1.25" fill="#9a2c9e"/>
<circle cx="376.6" cy="484.7" r="1.25" fill="#9a2c9e"/>
<circle cx="377.0" cy="452.6" r="1.25" fill="#9a2c9e"/>
<circle cx="377.0" cy="468.6" r="1.25" fill="#9a2c9e"/>
<circle cx="377.0" cy="484.7" r="1.25" fill="#9a2c9e"/>
<circle cx="386.3" cy="443.6" r="1.25" fill="#9a2c9e"/>
<circle cx="386.3" cy="459.6" r="1.25" fill="#9a2c9e"/>
<circle cx="386.3" cy="461.6" r="1.25" fill="#9a2c9e"/>
<circle cx="386.3" cy="475.7" r="1.25" fill="#9a2c9e"/>
<circle cx="386.3" cy="477.6" r="1.25" fill="#9a2c9e"/>
<circle cx="386.3" cy="493.7" r="1.25" fill="#9a2c9e"/>
<circle cx="387.7" cy="453.5" r="1.25" fill="#9a2c9e"/>
<circle cx="387.7" cy="469.5" r="1.25" fill="#9a2c9e"/>
<circle cx="387.7" cy="485.6" r="1.25" fill="#9a2c9e"/>
<circle cx="395.4" cy="452.6" r="1.25" fill="#9a2c9e"/>
<circle cx="395.4" cy="468.6" r="1.25" fill="#9a2c9e"/>
<circle cx="395.4" cy="484.7" r="1.25" fill="#9a2c9e"/>
<circle cx="395.6" cy="452.6" r="1.25" fill="#9a2c9e"/>
<circle cx="395.6" cy="468.6" r="1.25" fill="#9a2c9e"/>
<circle cx="395.6" cy="484.7" r="1.25" fill="#9a2c9e"/>
<circle cx="404.7" cy="443.6" r="1.25" fill="#9a2c9e"/>
<circle cx="404.7" cy="459.6" r="1.25" fill="#9a2c9e"/>
<circle cx="404.7" cy="461.6" r="1.25" fill="#9a2c9e"/>
<circle cx="404.7" cy="475.7" r="1.25" fill="#9a2c9e"/>
<circle cx="404.7" cy="477.6" r="1.25" fill="#9a2c9e"/>
<circle cx="404.7" cy="493.7" r="1.25" fill="#9a2c9e"/>
<circle cx="406.1" cy="453.5" r="1.25" fill="#9a2c9e"/>
<circle cx="406.1" cy="469.5" r="1.25" fill="#9a2c9e"/>
<circle cx="406.1" cy="485.6" r="1.25" fill="#9a2c9e"/>
<circle cx="414.0" cy="452.6" r="1.25" fill="#9a2c9e"/>
<circle cx="414.0" cy="468.6" r="1.25" fill="#9a2c9e"/>
<circle cx="414.0" cy="484.7" r="1.25" fill="#9a2c9e"/>
<path d="M371.8,447L376.8,443L381.8,447L376.8,451z" fill="#f6f6f8"/><path d="M374.3,446.5L376.8,442.5L379.3,446.5" fill="none" stroke="#a8764c" stroke-width="0.8"/>
<path d="M390.5,447L395.5,443L400.5,447L395.5,451z" fill="#f6f6f8"/><path d="M393.0,446.5L395.5,442.5L398.0,446.5" fill="none" stroke="#a8764c" stroke-width="0.8"/>
<path d="M358.2,484.7L367.3,493.7L376.8,484.7L386.3,493.7L395.5,484.7L404.7,493.7L414,484.7L414,497.5L358.2,497.5z" fill="#6a6a6e"/>
<path d="M371.3,492L376.8,487L382.3,492L376.8,497z" fill="#f6f6f8"/>
<path d="M390.0,492L395.5,487L401.0,492L395.5,497z" fill="#f6f6f8"/>
</g>
<clipPath id="insi"><rect x="582" y="438" width="60" height="63.6"/></clipPath><g clip-path="url(#insi)">
<path d="M584.0,455.5L593.3,446.5L602.6,455.5L593.3,464.5z" fill="#5e5e62"/>
<path d="M602.3,455.5L611.6,446.5L620.9,455.5L611.6,464.5z" fill="#5e5e62"/>
<path d="M620.3,455.5L629.6,446.5L638.9,455.5L629.6,464.5z" fill="#5e5e62"/>
<path d="M584.0,473.5L593.3,464.5L602.6,473.5L593.3,482.5z" fill="#5e5e62"/>
<path d="M602.3,473.5L611.6,464.5L620.9,473.5L611.6,482.5z" fill="#5e5e62"/>
<path d="M620.3,473.5L629.6,464.5L638.9,473.5L629.6,482.5z" fill="#5e5e62"/>
<path d="M584.0,491.3L593.3,482.3L602.6,491.3L593.3,500.3z" fill="#5e5e62"/>
<path d="M602.3,491.3L611.6,482.3L620.9,491.3L611.6,500.3z" fill="#5e5e62"/>
<path d="M620.3,491.3L629.6,482.3L638.9,491.3L629.6,500.3z" fill="#5e5e62"/>
<path d="M593.2,464.5L602.5,455.5L611.8,464.5L602.5,473.5z" fill="#7a7a7e"/>
<path d="M611.3,464.5L620.6,455.5L629.9,464.5L620.6,473.5z" fill="#7a7a7e"/>
<path d="M593.2,482.5L602.5,473.5L611.8,482.5L602.5,491.5z" fill="#7a7a7e"/>
<path d="M611.3,482.5L620.6,473.5L629.9,482.5L620.6,491.5z" fill="#7a7a7e"/>
<path d="M593.2,500.3L602.5,491.3L611.8,500.3L602.5,509.3z" fill="#7a7a7e"/>
<path d="M611.3,500.3L620.6,491.3L629.9,500.3L620.6,509.3z" fill="#7a7a7e"/>
<path d="M584.0,455.5L593.3,446.5L594.7,456.4z" fill="#8c8c90"/>
<path d="M602.6,455.5L593.3,464.5L594.7,456.4z" fill="#4a4a4e"/>
<path d="M602.3,455.5L611.6,446.5L613.0,456.4z" fill="#8c8c90"/>
<path d="M620.9,455.5L611.6,464.5L613.0,456.4z" fill="#4a4a4e"/>
<path d="M620.3,455.5L629.6,446.5L631.0,456.4z" fill="#8c8c90"/>
<path d="M638.9,455.5L629.6,464.5L631.0,456.4z" fill="#4a4a4e"/>
<path d="M584.0,473.5L593.3,464.5L594.7,474.4z" fill="#8c8c90"/>
<path d="M602.6,473.5L593.3,482.5L594.7,474.4z" fill="#4a4a4e"/>
<path d="M602.3,473.5L611.6,464.5L613.0,474.4z" fill="#8c8c90"/>
<path d="M620.9,473.5L611.6,482.5L613.0,474.4z" fill="#4a4a4e"/>
<path d="M620.3,473.5L629.6,464.5L631.0,474.4z" fill="#8c8c90"/>
<path d="M638.9,473.5L629.6,482.5L631.0,474.4z" fill="#4a4a4e"/>
<path d="M584.0,491.3L593.3,482.3L594.7,492.2z" fill="#8c8c90"/>
<path d="M602.6,491.3L593.3,500.3L594.7,492.2z" fill="#4a4a4e"/>
<path d="M602.3,491.3L611.6,482.3L613.0,492.2z" fill="#8c8c90"/>
<path d="M620.9,491.3L611.6,500.3L613.0,492.2z" fill="#4a4a4e"/>
<path d="M620.3,491.3L629.6,482.3L631.0,492.2z" fill="#8c8c90"/>
<path d="M638.9,491.3L629.6,500.3L631.0,492.2z" fill="#4a4a4e"/>
<path d="M598.9,464.5L602.5,461.0L606.0,464.5L602.5,468.0z" fill="#b8bac4"/>
<circle cx="603.5" cy="464.5" r="0.8" fill="#a8764c"/>
<path d="M617.1,464.5L620.6,461.0L624.1,464.5L620.6,468.0z" fill="#b8bac4"/>
<circle cx="621.6" cy="464.5" r="0.8" fill="#a8764c"/>
<path d="M598.9,482.5L602.5,479.0L606.0,482.5L602.5,486.0z" fill="#b8bac4"/>
<circle cx="603.5" cy="482.5" r="0.8" fill="#a8764c"/>
<path d="M617.1,482.5L620.6,479.0L624.1,482.5L620.6,486.0z" fill="#b8bac4"/>
<circle cx="621.6" cy="482.5" r="0.8" fill="#a8764c"/>
<path d="M598.9,500.3L602.5,496.8L606.0,500.3L602.5,503.8z" fill="#b8bac4"/>
<circle cx="603.5" cy="500.3" r="0.8" fill="#a8764c"/>
<path d="M617.1,500.3L620.6,496.8L624.1,500.3L620.6,503.8z" fill="#b8bac4"/>
<circle cx="621.6" cy="500.3" r="0.8" fill="#a8764c"/>
<circle cx="584.0" cy="455.5" r="1.25" fill="#9a2c9e"/>
<circle cx="584.0" cy="473.5" r="1.25" fill="#9a2c9e"/>
<circle cx="584.0" cy="491.3" r="1.25" fill="#9a2c9e"/>
<circle cx="593.3" cy="446.5" r="1.25" fill="#9a2c9e"/>
<circle cx="593.3" cy="464.5" r="1.25" fill="#9a2c9e"/>
<circle cx="593.3" cy="482.3" r="1.25" fill="#9a2c9e"/>
<circle cx="593.3" cy="482.5" r="1.25" fill="#9a2c9e"/>
<circle cx="593.3" cy="500.3" r="1.25" fill="#9a2c9e"/>
<circle cx="594.7" cy="456.4" r="1.25" fill="#9a2c9e"/>
<circle cx="594.7" cy="474.4" r="1.25" fill="#9a2c9e"/>
<circle cx="594.7" cy="492.2" r="1.25" fill="#9a2c9e"/>
<circle cx="602.3" cy="455.5" r="1.25" fill="#9a2c9e"/>
<circle cx="602.3" cy="473.5" r="1.25" fill="#9a2c9e"/>
<circle cx="602.3" cy="491.3" r="1.25" fill="#9a2c9e"/>
<circle cx="602.6" cy="455.5" r="1.25" fill="#9a2c9e"/>
<circle cx="602.6" cy="473.5" r="1.25" fill="#9a2c9e"/>
<circle cx="602.6" cy="491.3" r="1.25" fill="#9a2c9e"/>
<circle cx="611.6" cy="446.5" r="1.25" fill="#9a2c9e"/>
<circle cx="611.6" cy="464.5" r="1.25" fill="#9a2c9e"/>
<circle cx="611.6" cy="482.3" r="1.25" fill="#9a2c9e"/>
<circle cx="611.6" cy="482.5" r="1.25" fill="#9a2c9e"/>
<circle cx="611.6" cy="500.3" r="1.25" fill="#9a2c9e"/>
<circle cx="613.0" cy="456.4" r="1.25" fill="#9a2c9e"/>
<circle cx="613.0" cy="474.4" r="1.25" fill="#9a2c9e"/>
<circle cx="613.0" cy="492.2" r="1.25" fill="#9a2c9e"/>
<circle cx="620.3" cy="455.5" r="1.25" fill="#9a2c9e"/>
<circle cx="620.3" cy="473.5" r="1.25" fill="#9a2c9e"/>
<circle cx="620.3" cy="491.3" r="1.25" fill="#9a2c9e"/>
<circle cx="620.9" cy="455.5" r="1.25" fill="#9a2c9e"/>
<circle cx="620.9" cy="473.5" r="1.25" fill="#9a2c9e"/>
<circle cx="620.9" cy="491.3" r="1.25" fill="#9a2c9e"/>
<circle cx="629.6" cy="446.5" r="1.25" fill="#9a2c9e"/>
<circle cx="629.6" cy="464.5" r="1.25" fill="#9a2c9e"/>
<circle cx="629.6" cy="482.3" r="1.25" fill="#9a2c9e"/>
<circle cx="629.6" cy="482.5" r="1.25" fill="#9a2c9e"/>
<circle cx="629.6" cy="500.3" r="1.25" fill="#9a2c9e"/>
<circle cx="631.0" cy="456.4" r="1.25" fill="#9a2c9e"/>
<circle cx="631.0" cy="474.4" r="1.25" fill="#9a2c9e"/>
<circle cx="631.0" cy="492.2" r="1.25" fill="#9a2c9e"/>
<circle cx="638.9" cy="455.5" r="1.25" fill="#9a2c9e"/>
<circle cx="638.9" cy="473.5" r="1.25" fill="#9a2c9e"/>
<circle cx="638.9" cy="491.3" r="1.25" fill="#9a2c9e"/>
<path d="M584,491.3L593.3,500.3L602.4,491.3L611.6,500.3L620.6,491.3L629.6,500.3L639,491.3L639,501.5L584,501.5z" fill="#6a6a6e"/>
</g>
<path d="M606,446L608,440.5M611,446L611.5,440M616,446L615,440.5M606,441L617,441" fill="none" stroke="#a8764c" stroke-width="0.8"/>
<rect x="260.4" y="383.8" width="180.2" height="144.3" fill="none" stroke="#1c1717" stroke-width="1.6"/>
<line x1="350.50" y1="394.80" x2="350.50" y2="528.10" stroke="#e0302c" stroke-width="1.1" stroke-dasharray="2.4 1.5"/>
<text x="350.3" y="393.4" font-size="10.4" text-anchor="middle" fill="#231815" stroke="#231815" stroke-width="0.25" >Defective</text>
<line x1="260.40" y1="528.10" x2="260.40" y2="525.50" stroke="#231815" stroke-width="1" />
<line x1="275.42" y1="528.10" x2="275.42" y2="526.50" stroke="#231815" stroke-width="1" />
<line x1="290.43" y1="528.10" x2="290.43" y2="525.50" stroke="#231815" stroke-width="1" />
<line x1="305.45" y1="528.10" x2="305.45" y2="526.50" stroke="#231815" stroke-width="1" />
<line x1="320.47" y1="528.10" x2="320.47" y2="525.50" stroke="#231815" stroke-width="1" />
<line x1="335.48" y1="528.10" x2="335.48" y2="526.50" stroke="#231815" stroke-width="1" />
<line x1="350.50" y1="528.10" x2="350.50" y2="525.50" stroke="#231815" stroke-width="1" />
<line x1="365.52" y1="528.10" x2="365.52" y2="526.50" stroke="#231815" stroke-width="1" />
<line x1="380.53" y1="528.10" x2="380.53" y2="525.50" stroke="#231815" stroke-width="1" />
<line x1="395.55" y1="528.10" x2="395.55" y2="526.50" stroke="#231815" stroke-width="1" />
<line x1="410.57" y1="528.10" x2="410.57" y2="525.50" stroke="#231815" stroke-width="1" />
<line x1="425.58" y1="528.10" x2="425.58" y2="526.50" stroke="#231815" stroke-width="1" />
<line x1="440.60" y1="528.10" x2="440.60" y2="525.50" stroke="#231815" stroke-width="1" />
<line x1="260.40" y1="528.10" x2="263.00" y2="528.10" stroke="#231815" stroke-width="1" />
<line x1="260.40" y1="504.05" x2="262.00" y2="504.05" stroke="#231815" stroke-width="1" />
<line x1="260.40" y1="480.00" x2="263.00" y2="480.00" stroke="#231815" stroke-width="1" />
<line x1="260.40" y1="455.95" x2="262.00" y2="455.95" stroke="#231815" stroke-width="1" />
<line x1="260.40" y1="431.90" x2="263.00" y2="431.90" stroke="#231815" stroke-width="1" />
<line x1="260.40" y1="407.85" x2="262.00" y2="407.85" stroke="#231815" stroke-width="1" />
<line x1="260.40" y1="383.80" x2="263.00" y2="383.80" stroke="#231815" stroke-width="1" />
<text x="260.4" y="541.0" font-size="12" text-anchor="middle" fill="#231815" stroke="#231815" stroke-width="0.25" >-3</text>
<text x="290.4" y="541.0" font-size="12" text-anchor="middle" fill="#231815" stroke="#231815" stroke-width="0.25" >-2</text>
<text x="320.5" y="541.0" font-size="12" text-anchor="middle" fill="#231815" stroke="#231815" stroke-width="0.25" >-1</text>
<text x="350.5" y="541.0" font-size="12" text-anchor="middle" fill="#231815" stroke="#231815" stroke-width="0.25" >0</text>
<text x="380.5" y="541.0" font-size="12" text-anchor="middle" fill="#231815" stroke="#231815" stroke-width="0.25" >1</text>
<text x="410.6" y="541.0" font-size="12" text-anchor="middle" fill="#231815" stroke="#231815" stroke-width="0.25" >2</text>
<text x="440.6" y="541.0" font-size="12" text-anchor="middle" fill="#231815" stroke="#231815" stroke-width="0.25" >3</text>
<text x="257.9" y="532.3" font-size="12" text-anchor="end" fill="#231815" stroke="#231815" stroke-width="0.25" >0</text>
<text x="257.9" y="484.2" font-size="12" text-anchor="end" fill="#231815" stroke="#231815" stroke-width="0.25" >100</text>
<text x="257.9" y="436.1" font-size="12" text-anchor="end" fill="#231815" stroke="#231815" stroke-width="0.25" >200</text>
<text x="257.9" y="388.0" font-size="12" text-anchor="end" fill="#231815" stroke="#231815" stroke-width="0.25" >300</text>
<text x="350.5" y="553.0" font-size="12" text-anchor="middle" fill="#231815" stroke="#231815" stroke-width="0.25" >E-E<tspan font-size="8" dy="2.5">F</tspan><tspan dy="-2.5"> (eV)</tspan></text>
<text transform="translate(236.39999999999998,456.7) rotate(-90)" font-size="12.6" text-anchor="middle" fill="#231815">PDOS (a.u.)</text>
<line x1="262.80" y1="391.50" x2="286.30" y2="391.50" stroke="#f0b323" stroke-width="1.5" />
<text x="288.7" y="395.2" font-size="10.6" text-anchor="start" fill="#231815" stroke="#231815" stroke-width="0.25" >Total</text>
<line x1="262.80" y1="404.25" x2="286.30" y2="404.25" stroke="#a0a0a0" stroke-width="1.5" />
<text x="288.7" y="407.9" font-size="10.6" text-anchor="start" fill="#231815" stroke="#231815" stroke-width="0.25" >N</text>
<line x1="262.80" y1="417.00" x2="286.30" y2="417.00" stroke="#4d4f97" stroke-width="1.5" />
<text x="288.7" y="420.7" font-size="10.6" text-anchor="start" fill="#231815" stroke="#231815" stroke-width="0.25" >Pb</text>
<line x1="262.80" y1="429.75" x2="286.30" y2="429.75" stroke="#2e5f98" stroke-width="1.5" />
<text x="288.7" y="433.4" font-size="10.6" text-anchor="start" fill="#231815" stroke="#231815" stroke-width="0.25" >I</text>
<rect x="486.6" y="383.8" width="179.5" height="144.3" fill="none" stroke="#1c1717" stroke-width="1.6"/>
<line x1="576.35" y1="394.80" x2="576.35" y2="528.10" stroke="#e0302c" stroke-width="1.1" stroke-dasharray="2.4 1.5"/>
<text x="575.8" y="393.4" font-size="10.4" text-anchor="middle" fill="#231815" stroke="#231815" stroke-width="0.25" >Passivated</text>
<line x1="486.60" y1="528.10" x2="486.60" y2="525.50" stroke="#231815" stroke-width="1" />
<line x1="501.56" y1="528.10" x2="501.56" y2="526.50" stroke="#231815" stroke-width="1" />
<line x1="516.52" y1="528.10" x2="516.52" y2="525.50" stroke="#231815" stroke-width="1" />
<line x1="531.48" y1="528.10" x2="531.48" y2="526.50" stroke="#231815" stroke-width="1" />
<line x1="546.43" y1="528.10" x2="546.43" y2="525.50" stroke="#231815" stroke-width="1" />
<line x1="561.39" y1="528.10" x2="561.39" y2="526.50" stroke="#231815" stroke-width="1" />
<line x1="576.35" y1="528.10" x2="576.35" y2="525.50" stroke="#231815" stroke-width="1" />
<line x1="591.31" y1="528.10" x2="591.31" y2="526.50" stroke="#231815" stroke-width="1" />
<line x1="606.27" y1="528.10" x2="606.27" y2="525.50" stroke="#231815" stroke-width="1" />
<line x1="621.23" y1="528.10" x2="621.23" y2="526.50" stroke="#231815" stroke-width="1" />
<line x1="636.18" y1="528.10" x2="636.18" y2="525.50" stroke="#231815" stroke-width="1" />
<line x1="651.14" y1="528.10" x2="651.14" y2="526.50" stroke="#231815" stroke-width="1" />
<line x1="666.10" y1="528.10" x2="666.10" y2="525.50" stroke="#231815" stroke-width="1" />
<line x1="486.60" y1="528.10" x2="489.20" y2="528.10" stroke="#231815" stroke-width="1" />
<line x1="486.60" y1="504.05" x2="488.20" y2="504.05" stroke="#231815" stroke-width="1" />
<line x1="486.60" y1="480.00" x2="489.20" y2="480.00" stroke="#231815" stroke-width="1" />
<line x1="486.60" y1="455.95" x2="488.20" y2="455.95" stroke="#231815" stroke-width="1" />
<line x1="486.60" y1="431.90" x2="489.20" y2="431.90" stroke="#231815" stroke-width="1" />
<line x1="486.60" y1="407.85" x2="488.20" y2="407.85" stroke="#231815" stroke-width="1" />
<line x1="486.60" y1="383.80" x2="489.20" y2="383.80" stroke="#231815" stroke-width="1" />
<text x="486.6" y="541.0" font-size="12" text-anchor="middle" fill="#231815" stroke="#231815" stroke-width="0.25" >-3</text>
<text x="516.5" y="541.0" font-size="12" text-anchor="middle" fill="#231815" stroke="#231815" stroke-width="0.25" >-2</text>
<text x="546.4" y="541.0" font-size="12" text-anchor="middle" fill="#231815" stroke="#231815" stroke-width="0.25" >-1</text>
<text x="576.4" y="541.0" font-size="12" text-anchor="middle" fill="#231815" stroke="#231815" stroke-width="0.25" >0</text>
<text x="606.3" y="541.0" font-size="12" text-anchor="middle" fill="#231815" stroke="#231815" stroke-width="0.25" >1</text>
<text x="636.2" y="541.0" font-size="12" text-anchor="middle" fill="#231815" stroke="#231815" stroke-width="0.25" >2</text>
<text x="666.1" y="541.0" font-size="12" text-anchor="middle" fill="#231815" stroke="#231815" stroke-width="0.25" >3</text>
<text x="484.1" y="532.3" font-size="12" text-anchor="end" fill="#231815" stroke="#231815" stroke-width="0.25" >0</text>
<text x="484.1" y="484.2" font-size="12" text-anchor="end" fill="#231815" stroke="#231815" stroke-width="0.25" >100</text>
<text x="484.1" y="436.1" font-size="12" text-anchor="end" fill="#231815" stroke="#231815" stroke-width="0.25" >200</text>
<text x="484.1" y="388.0" font-size="12" text-anchor="end" fill="#231815" stroke="#231815" stroke-width="0.25" >300</text>
<text x="576.4" y="553.0" font-size="12" text-anchor="middle" fill="#231815" stroke="#231815" stroke-width="0.25" >E-E<tspan font-size="8" dy="2.5">F</tspan><tspan dy="-2.5"> (eV)</tspan></text>
<text transform="translate(462.6,456.7) rotate(-90)" font-size="12.6" text-anchor="middle" fill="#231815">PDOS (a.u.)</text>
<line x1="488.00" y1="391.20" x2="510.70" y2="391.20" stroke="#f0b323" stroke-width="1.5" />
<text x="513.1" y="394.9" font-size="10.0" text-anchor="start" fill="#231815" stroke="#231815" stroke-width="0.25" >Total</text>
<line x1="488.00" y1="403.00" x2="510.70" y2="403.00" stroke="#a0a0a0" stroke-width="1.5" />
<text x="513.1" y="406.7" font-size="10.0" text-anchor="start" fill="#231815" stroke="#231815" stroke-width="0.25" >N</text>
<line x1="488.00" y1="414.80" x2="510.70" y2="414.80" stroke="#4d4f97" stroke-width="1.5" />
<text x="513.1" y="418.5" font-size="10.0" text-anchor="start" fill="#231815" stroke="#231815" stroke-width="0.25" >Pb</text>
<line x1="488.00" y1="426.60" x2="510.70" y2="426.60" stroke="#2e5f98" stroke-width="1.5" />
<text x="513.1" y="430.3" font-size="10.0" text-anchor="start" fill="#231815" stroke="#231815" stroke-width="0.25" >I</text>
<text x="364.4" y="431.0" font-size="10.8" text-anchor="start" fill="#231815" stroke="#231815" stroke-width="0.25" >I<tspan font-size="7.5" dy="2.5">Pb</tspan><tspan dy="-2.5"> antisite</tspan></text>
</svg></body></html>
